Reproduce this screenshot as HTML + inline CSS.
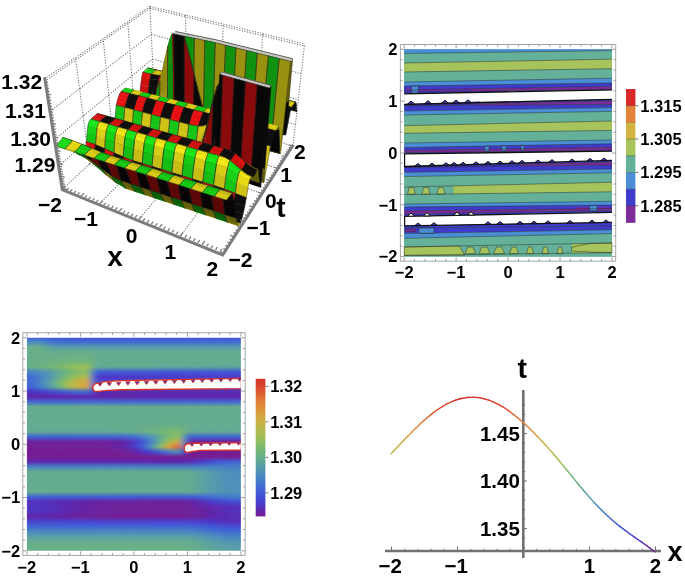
<!DOCTYPE html>
<html><head><meta charset="utf-8"><style>
html,body{margin:0;padding:0;background:#fff;}
svg{display:block;}
text{font-family:"Liberation Sans",Arial,sans-serif;font-weight:bold;fill:#000;}
</style></head><body>
<svg width="685" height="579" viewBox="0 0 685 579">
<rect width="685" height="579" fill="#fff"/>
<g>
<rect x="404.2" y="49.3" width="207.8" height="207.3" fill="#64b098"/>
<polygon points="404.2,49.3 612.0,49.3 612.0,50.6 404.2,53.5" fill="#4a8ed6"/>
<polygon points="404.2,53.5 612.0,50.6 612.0,59.2 404.2,63.0" fill="#64b098"/>
<polygon points="404.2,63.0 612.0,59.2 612.0,68.7 404.2,72.0" fill="#a6c35c"/>
<polygon points="404.2,72.0 612.0,68.7 612.0,78.2 404.2,82.0" fill="#64b098"/>
<polygon points="404.2,82.0 612.0,78.2 612.0,83.0 404.2,86.0" fill="#4a8ed6"/>
<polygon points="404.2,86.0 612.0,83.0 612.0,86.4 404.2,90.0" fill="#3f3ccb"/>
<polygon points="404.2,90.0 612.0,86.4 612.0,89.6 404.2,92.0" fill="#7e2a98"/>
<polygon points="404.2,92.0 612.0,89.6 612.0,89.8 404.2,93.8" fill="#3f3ccb"/>
<polygon points="404.2,93.8 612.0,89.8 612.0,99.3 404.2,104.3" fill="#ffffff"/>
<polygon points="404.2,104.3 612.0,99.3 612.0,101.0 404.2,105.3" fill="#3f3ccb"/>
<polygon points="404.2,105.3 612.0,101.0 612.0,104.4 404.2,105.8" fill="#7e2a98"/>
<polygon points="404.2,105.8 612.0,104.4 612.0,107.6 404.2,111.0" fill="#3f3ccb"/>
<polygon points="404.2,111.0 612.0,107.6 612.0,111.4 404.2,115.0" fill="#4a8ed6"/>
<polygon points="404.2,115.0 612.0,111.4 612.0,121.0 404.2,125.7" fill="#64b098"/>
<polygon points="404.2,125.7 612.0,121.0 612.0,130.4 404.2,133.3" fill="#a6c35c"/>
<polygon points="404.2,133.3 612.0,130.4 612.0,140.0 404.2,143.0" fill="#64b098"/>
<polygon points="404.2,143.0 612.0,140.0 612.0,143.7 404.2,147.5" fill="#4a8ed6"/>
<polygon points="404.2,147.5 612.0,143.7 612.0,147.3 404.2,150.5" fill="#3f3ccb"/>
<polygon points="404.2,150.5 612.0,147.3 612.0,150.2 404.2,152.6" fill="#7e2a98"/>
<polygon points="404.2,152.6 612.0,150.2 612.0,151.2 404.2,153.8" fill="#3f3ccb"/>
<polygon points="404.2,153.8 612.0,151.2 612.0,160.4 404.2,166.5" fill="#ffffff"/>
<polygon points="404.2,166.5 612.0,160.4 612.0,162.3 404.2,167.0" fill="#3f3ccb"/>
<polygon points="404.2,167.0 612.0,162.3 612.0,165.0 404.2,167.5" fill="#7e2a98"/>
<polygon points="404.2,167.5 612.0,165.0 612.0,169.0 404.2,172.4" fill="#3f3ccb"/>
<polygon points="404.2,172.4 612.0,169.0 612.0,172.8 404.2,176.6" fill="#4a8ed6"/>
<polygon points="404.2,176.6 612.0,172.8 612.0,182.3 404.2,187.0" fill="#64b098"/>
<polygon points="404.2,187.0 612.0,182.3 612.0,191.8 404.2,194.6" fill="#a6c35c"/>
<polygon points="404.2,194.6 612.0,191.8 612.0,201.3 404.2,204.0" fill="#64b098"/>
<polygon points="404.2,204.0 612.0,201.3 612.0,205.0 404.2,207.0" fill="#4a8ed6"/>
<polygon points="404.2,207.0 612.0,205.0 612.0,208.5 404.2,211.0" fill="#3f3ccb"/>
<polygon points="404.2,211.0 612.0,208.5 612.0,210.5 404.2,214.0" fill="#7e2a98"/>
<polygon points="404.2,214.0 612.0,210.5 612.0,212.3 404.2,216.3" fill="#3f3ccb"/>
<polygon points="404.2,216.3 612.0,212.3 612.0,222.4 404.2,225.8" fill="#ffffff"/>
<polygon points="404.2,225.8 612.0,222.4 612.0,226.0 404.2,228.0" fill="#3f3ccb"/>
<polygon points="404.2,228.0 612.0,226.0 612.0,229.8 404.2,233.6" fill="#3f3ccb"/>
<polygon points="404.2,233.6 612.0,229.8 612.0,233.6 404.2,238.3" fill="#4a8ed6"/>
<polygon points="404.2,238.3 612.0,233.6 612.0,243.0 404.2,247.0" fill="#64b098"/>
<polygon points="404.2,247.0 612.0,243.0 612.0,252.6 404.2,255.4" fill="#a6c35c"/>
<polygon points="404.2,255.4 612.0,252.6 612.0,256.6 404.2,256.6" fill="#64b098"/>
<polygon points="404.2,86.0 470.0,86.0 470.0,92.5 404.2,93.8" fill="#3f3ccb"/>
<polygon points="404.2,104.3 480.0,101.5 480.0,104.5 404.2,106.0" fill="#3f3ccb"/>
<polygon points="404.2,166.4 520.0,163.6 520.0,167.5 404.2,168.0" fill="#3f3ccb"/>
<polygon points="419.0,89.6 470.0,88.8 470.0,90.2 419.0,91.0" fill="#7e2a98"/>
<polygon points="406.0,88.5 411.0,88.5 411.0,90.5 406.0,90.5" fill="#7e2a98"/>
<polygon points="411.5,86.0 418.5,86.0 418.0,93.5 412.0,93.5" fill="#4a8ed6" stroke="#262626" stroke-width="0.6" stroke-opacity="0.75"/>
<polygon points="484.5,146.0 489.0,145.9 489.0,151.0 484.5,151.0" fill="#4a8ed6" stroke="#262626" stroke-width="0.6" stroke-opacity="0.75"/>
<polygon points="501.6,145.7 506.4,145.6 506.4,150.7 501.6,150.7" fill="#4a8ed6" stroke="#262626" stroke-width="0.6" stroke-opacity="0.75"/>
<polygon points="521.0,145.4 524.0,145.3 524.0,150.4 521.0,150.4" fill="#4a8ed6" stroke="#262626" stroke-width="0.6" stroke-opacity="0.75"/>
<polygon points="589.6,205.5 597.0,205.4 597.0,211.0 589.6,211.0" fill="#4a8ed6" stroke="#262626" stroke-width="0.6" stroke-opacity="0.75"/>
<polygon points="575.0,207.5 588.0,207.5 588.0,209.5 575.0,209.5" fill="#7e2a98"/>
<polygon points="598.0,207.3 610.0,207.3 610.0,209.3 598.0,209.3" fill="#7e2a98"/>
<polygon points="419.0,228.0 434.0,228.0 434.0,233.5 419.0,233.5" fill="#4a8ed6" stroke="#262626" stroke-width="0.6" stroke-opacity="0.75"/>
<polygon points="405.0,229.2 416.0,229.2 416.0,231.6 405.0,231.6" fill="#7e2a98" stroke="#262626" stroke-width="0.6" stroke-opacity="0.75"/>
<polygon points="404.2,186.5 453.5,185.5 453.5,195.0 404.2,195.0" fill="#64b098"/>
<polygon points="409.2,187.6 413.8,187.6 415.4,194.2 407.6,194.2" fill="#a6c35c" stroke="#262626" stroke-width="0.6" stroke-opacity="0.75"/>
<polygon points="423.6,187.6 428.4,187.6 430.0,194.2 422.0,194.2" fill="#a6c35c" stroke="#262626" stroke-width="0.6" stroke-opacity="0.75"/>
<polygon points="438.6,187.6 443.4,187.6 445.0,194.2 437.0,194.2" fill="#a6c35c" stroke="#262626" stroke-width="0.6" stroke-opacity="0.75"/>
<polygon points="461.0,245.0 572.0,242.8 572.0,253.0 461.0,255.5" fill="#64b098"/>
<polygon points="404.2,247.0 459.5,245.9 464.5,255.2 404.2,255.4" fill="#a6c35c" stroke="#262626" stroke-width="0.6" stroke-opacity="0.75"/>
<polygon points="467.6,247.2 472.9,247.0 475.5,253.6 465.0,253.8" fill="#a6c35c" stroke="#262626" stroke-width="0.6" stroke-opacity="0.75"/>
<polygon points="481.8,247.2 487.2,247.0 490.0,253.6 479.0,253.8" fill="#a6c35c" stroke="#262626" stroke-width="0.6" stroke-opacity="0.75"/>
<polygon points="496.3,247.2 501.8,247.0 504.5,253.6 493.6,253.8" fill="#a6c35c" stroke="#262626" stroke-width="0.6" stroke-opacity="0.75"/>
<polygon points="511.8,247.2 516.2,247.0 518.5,253.6 509.5,253.8" fill="#a6c35c" stroke="#262626" stroke-width="0.6" stroke-opacity="0.75"/>
<polygon points="528.2,247.2 531.8,247.0 533.5,253.6 526.5,253.8" fill="#a6c35c" stroke="#262626" stroke-width="0.6" stroke-opacity="0.75"/>
<polygon points="543.6,247.2 546.9,247.0 548.5,253.6 542.0,253.8" fill="#a6c35c" stroke="#262626" stroke-width="0.6" stroke-opacity="0.75"/>
<polygon points="558.5,247.2 561.3,247.0 562.8,253.6 557.0,253.8" fill="#a6c35c" stroke="#262626" stroke-width="0.6" stroke-opacity="0.75"/>
<polygon points="571.5,247.6 580.0,245.2 586.0,244.4 590.0,243.4 612.0,243.0 612.0,252.6 590.0,252.2 586.0,251.3 580.0,251.6 571.5,250.8" fill="#a6c35c" stroke="#262626" stroke-width="0.6" stroke-opacity="0.75"/>
<line x1="404.2" y1="53.5" x2="612.0" y2="50.6" stroke="#262626" stroke-width="0.6" stroke-opacity="0.75"/>
<line x1="404.2" y1="63.0" x2="612.0" y2="59.2" stroke="#262626" stroke-width="0.6" stroke-opacity="0.75"/>
<line x1="404.2" y1="72.0" x2="612.0" y2="68.7" stroke="#262626" stroke-width="0.6" stroke-opacity="0.75"/>
<line x1="404.2" y1="82.0" x2="612.0" y2="78.2" stroke="#262626" stroke-width="0.6" stroke-opacity="0.75"/>
<line x1="404.2" y1="86.0" x2="612.0" y2="83.0" stroke="#262626" stroke-width="0.6" stroke-opacity="0.75"/>
<line x1="404.2" y1="90.0" x2="612.0" y2="86.4" stroke="#262626" stroke-width="0.6" stroke-opacity="0.75"/>
<line x1="404.2" y1="92.0" x2="612.0" y2="89.6" stroke="#262626" stroke-width="0.6" stroke-opacity="0.75"/>
<line x1="404.2" y1="105.3" x2="612.0" y2="101.0" stroke="#262626" stroke-width="0.6" stroke-opacity="0.75"/>
<line x1="404.2" y1="105.8" x2="612.0" y2="104.4" stroke="#262626" stroke-width="0.6" stroke-opacity="0.75"/>
<line x1="404.2" y1="111.0" x2="612.0" y2="107.6" stroke="#262626" stroke-width="0.6" stroke-opacity="0.75"/>
<line x1="404.2" y1="115.0" x2="612.0" y2="111.4" stroke="#262626" stroke-width="0.6" stroke-opacity="0.75"/>
<line x1="404.2" y1="125.7" x2="612.0" y2="121.0" stroke="#262626" stroke-width="0.6" stroke-opacity="0.75"/>
<line x1="404.2" y1="133.3" x2="612.0" y2="130.4" stroke="#262626" stroke-width="0.6" stroke-opacity="0.75"/>
<line x1="404.2" y1="143.0" x2="612.0" y2="140.0" stroke="#262626" stroke-width="0.6" stroke-opacity="0.75"/>
<line x1="404.2" y1="147.5" x2="612.0" y2="143.7" stroke="#262626" stroke-width="0.6" stroke-opacity="0.75"/>
<line x1="404.2" y1="150.5" x2="612.0" y2="147.3" stroke="#262626" stroke-width="0.6" stroke-opacity="0.75"/>
<line x1="404.2" y1="152.6" x2="612.0" y2="150.2" stroke="#262626" stroke-width="0.6" stroke-opacity="0.75"/>
<line x1="404.2" y1="167.0" x2="612.0" y2="162.3" stroke="#262626" stroke-width="0.6" stroke-opacity="0.75"/>
<line x1="404.2" y1="167.5" x2="612.0" y2="165.0" stroke="#262626" stroke-width="0.6" stroke-opacity="0.75"/>
<line x1="404.2" y1="172.4" x2="612.0" y2="169.0" stroke="#262626" stroke-width="0.6" stroke-opacity="0.75"/>
<line x1="404.2" y1="176.6" x2="612.0" y2="172.8" stroke="#262626" stroke-width="0.6" stroke-opacity="0.75"/>
<line x1="404.2" y1="187.0" x2="612.0" y2="182.3" stroke="#262626" stroke-width="0.6" stroke-opacity="0.75"/>
<line x1="404.2" y1="194.6" x2="612.0" y2="191.8" stroke="#262626" stroke-width="0.6" stroke-opacity="0.75"/>
<line x1="404.2" y1="204.0" x2="612.0" y2="201.3" stroke="#262626" stroke-width="0.6" stroke-opacity="0.75"/>
<line x1="404.2" y1="207.0" x2="612.0" y2="205.0" stroke="#262626" stroke-width="0.6" stroke-opacity="0.75"/>
<line x1="404.2" y1="211.0" x2="612.0" y2="208.5" stroke="#262626" stroke-width="0.6" stroke-opacity="0.75"/>
<line x1="404.2" y1="214.0" x2="612.0" y2="210.5" stroke="#262626" stroke-width="0.6" stroke-opacity="0.75"/>
<line x1="404.2" y1="228.0" x2="612.0" y2="226.0" stroke="#262626" stroke-width="0.6" stroke-opacity="0.75"/>
<line x1="404.2" y1="233.6" x2="612.0" y2="229.8" stroke="#262626" stroke-width="0.6" stroke-opacity="0.75"/>
<line x1="404.2" y1="238.3" x2="612.0" y2="233.6" stroke="#262626" stroke-width="0.6" stroke-opacity="0.75"/>
<line x1="404.2" y1="247.0" x2="612.0" y2="243.0" stroke="#262626" stroke-width="0.6" stroke-opacity="0.75"/>
<line x1="404.2" y1="255.4" x2="612.0" y2="252.6" stroke="#262626" stroke-width="0.6" stroke-opacity="0.75"/>
<line x1="404.2" y1="93.8" x2="612.0" y2="89.8" stroke="#111" stroke-width="1.3"/>
<line x1="404.2" y1="104.3" x2="612.0" y2="99.3" stroke="#111" stroke-width="1.3"/>
<line x1="404.2" y1="153.8" x2="612.0" y2="151.2" stroke="#111" stroke-width="1.3"/>
<line x1="404.2" y1="166.5" x2="612.0" y2="160.4" stroke="#111" stroke-width="1.3"/>
<line x1="404.6" y1="153.8" x2="404.6" y2="166.5" stroke="#111" stroke-width="1.2"/>
<line x1="404.2" y1="216.3" x2="612.0" y2="212.3" stroke="#111" stroke-width="1.3"/>
<line x1="404.2" y1="225.8" x2="612.0" y2="222.4" stroke="#111" stroke-width="1.3"/>
<line x1="404.6" y1="216.3" x2="404.6" y2="225.8" stroke="#111" stroke-width="1.2"/>
<polygon points="407.4,104.1 411.0,101.1 414.6,104.1" fill="#3f3ccb" stroke="#111" stroke-width="1"/>
<polygon points="424.4,103.7 428.0,100.7 431.6,103.7" fill="#3f3ccb" stroke="#111" stroke-width="1"/>
<polygon points="441.4,103.3 445.0,100.3 448.6,103.3" fill="#3f3ccb" stroke="#111" stroke-width="1"/>
<polygon points="452.4,103.1 456.0,100.1 459.6,103.1" fill="#3f3ccb" stroke="#111" stroke-width="1"/>
<polygon points="464.4,102.8 468.0,99.8 471.6,102.8" fill="#3f3ccb" stroke="#111" stroke-width="1"/>
<polygon points="414.8,166.1 418.0,163.5 421.2,166.1" fill="#3f3ccb" stroke="#111" stroke-width="1"/>
<polygon points="428.8,165.7 432.0,163.1 435.2,165.7" fill="#3f3ccb" stroke="#111" stroke-width="1"/>
<polygon points="442.8,165.3 446.0,162.7 449.2,165.3" fill="#3f3ccb" stroke="#111" stroke-width="1"/>
<polygon points="450.8,165.0 454.0,162.4 457.2,165.0" fill="#3f3ccb" stroke="#111" stroke-width="1"/>
<polygon points="459.8,164.8 463.0,162.2 466.2,164.8" fill="#3f3ccb" stroke="#111" stroke-width="1"/>
<polygon points="472.8,164.4 476.0,161.8 479.2,164.4" fill="#3f3ccb" stroke="#111" stroke-width="1"/>
<polygon points="484.8,164.0 488.0,161.4 491.2,164.0" fill="#3f3ccb" stroke="#111" stroke-width="1"/>
<polygon points="496.8,163.7 500.0,161.1 503.2,163.7" fill="#3f3ccb" stroke="#111" stroke-width="1"/>
<polygon points="508.8,163.3 512.0,160.7 515.2,163.3" fill="#3f3ccb" stroke="#111" stroke-width="1"/>
<polygon points="518.8,163.0 522.0,160.4 525.2,163.0" fill="#3f3ccb" stroke="#111" stroke-width="1"/>
<polygon points="534.8,162.6 538.0,160.0 541.2,162.6" fill="#3f3ccb" stroke="#111" stroke-width="1"/>
<polygon points="548.8,162.2 552.0,159.6 555.2,162.2" fill="#3f3ccb" stroke="#111" stroke-width="1"/>
<polygon points="568.8,161.6 572.0,159.0 575.2,161.6" fill="#3f3ccb" stroke="#111" stroke-width="1"/>
<polygon points="586.8,161.0 590.0,158.4 593.2,161.0" fill="#3f3ccb" stroke="#111" stroke-width="1"/>
<polygon points="600.8,160.6 604.0,158.0 607.2,160.6" fill="#3f3ccb" stroke="#111" stroke-width="1"/>
<polygon points="414.8,225.6 418.0,223.0 421.2,225.6" fill="#3f3ccb" stroke="#111" stroke-width="1"/>
<polygon points="430.8,225.3 434.0,222.7 437.2,225.3" fill="#3f3ccb" stroke="#111" stroke-width="1"/>
<polygon points="484.8,224.4 488.0,221.8 491.2,224.4" fill="#3f3ccb" stroke="#111" stroke-width="1"/>
<polygon points="496.8,224.2 500.0,221.6 503.2,224.2" fill="#3f3ccb" stroke="#111" stroke-width="1"/>
<polygon points="516.8,223.9 520.0,221.3 523.2,223.9" fill="#3f3ccb" stroke="#111" stroke-width="1"/>
<polygon points="530.8,223.7 534.0,221.1 537.2,223.7" fill="#3f3ccb" stroke="#111" stroke-width="1"/>
<polygon points="544.8,223.4 548.0,220.8 551.2,223.4" fill="#3f3ccb" stroke="#111" stroke-width="1"/>
<polygon points="566.8,223.1 570.0,220.5 573.2,223.1" fill="#3f3ccb" stroke="#111" stroke-width="1"/>
<polygon points="588.8,222.7 592.0,220.1 595.2,222.7" fill="#3f3ccb" stroke="#111" stroke-width="1"/>
<polygon points="602.8,222.5 606.0,219.9 609.2,222.5" fill="#3f3ccb" stroke="#111" stroke-width="1"/>
<polygon points="407.6,216.2 411.0,213.0 414.4,216.2" fill="#ffffff" stroke="#111" stroke-width="1"/>
<polygon points="423.6,215.9 427.0,212.7 430.4,215.9" fill="#ffffff" stroke="#111" stroke-width="1"/>
<polygon points="453.6,215.3 457.0,212.1 460.4,215.3" fill="#ffffff" stroke="#111" stroke-width="1"/>
<polygon points="467.6,215.0 471.0,211.8 474.4,215.0" fill="#ffffff" stroke="#111" stroke-width="1"/>
</g>
<rect x="400.4" y="44.5" width="215.3" height="216.7" fill="none" stroke="#a8a8a8" stroke-width="1"/>
<path d="M404.2 261.2v-4.0M404.2 44.5v4.0M400.4 256.6h4.0M615.7 256.6h-4.0M414.6 261.2v-2.2M414.6 44.5v2.2M400.4 246.2h2.2M615.7 246.2h-2.2M425.0 261.2v-2.2M425.0 44.5v2.2M400.4 235.9h2.2M615.7 235.9h-2.2M435.4 261.2v-2.2M435.4 44.5v2.2M400.4 225.5h2.2M615.7 225.5h-2.2M445.8 261.2v-2.2M445.8 44.5v2.2M400.4 215.1h2.2M615.7 215.1h-2.2M456.1 261.2v-4.0M456.1 44.5v4.0M400.4 204.8h4.0M615.7 204.8h-4.0M466.5 261.2v-2.2M466.5 44.5v2.2M400.4 194.4h2.2M615.7 194.4h-2.2M476.9 261.2v-2.2M476.9 44.5v2.2M400.4 184.0h2.2M615.7 184.0h-2.2M487.3 261.2v-2.2M487.3 44.5v2.2M400.4 173.7h2.2M615.7 173.7h-2.2M497.7 261.2v-2.2M497.7 44.5v2.2M400.4 163.3h2.2M615.7 163.3h-2.2M508.1 261.2v-4.0M508.1 44.5v4.0M400.4 153.0h4.0M615.7 153.0h-4.0M518.5 261.2v-2.2M518.5 44.5v2.2M400.4 142.6h2.2M615.7 142.6h-2.2M528.9 261.2v-2.2M528.9 44.5v2.2M400.4 132.2h2.2M615.7 132.2h-2.2M539.3 261.2v-2.2M539.3 44.5v2.2M400.4 121.9h2.2M615.7 121.9h-2.2M549.7 261.2v-2.2M549.7 44.5v2.2M400.4 111.5h2.2M615.7 111.5h-2.2M560.0 261.2v-4.0M560.0 44.5v4.0M400.4 101.1h4.0M615.7 101.1h-4.0M570.4 261.2v-2.2M570.4 44.5v2.2M400.4 90.8h2.2M615.7 90.8h-2.2M580.8 261.2v-2.2M580.8 44.5v2.2M400.4 80.4h2.2M615.7 80.4h-2.2M591.2 261.2v-2.2M591.2 44.5v2.2M400.4 70.0h2.2M615.7 70.0h-2.2M601.6 261.2v-2.2M601.6 44.5v2.2M400.4 59.7h2.2M615.7 59.7h-2.2M612.0 261.2v-4.0M612.0 44.5v4.0M400.4 49.3h4.0M615.7 49.3h-4.0" stroke="#8a8a8a" stroke-width="0.8" fill="none"/>
<g font-size="16.5" text-anchor="middle"><text x="404.2" y="278">−2</text><text x="397.5" y="262.4" style="text-anchor:end">−2</text><text x="456.1" y="278">−1</text><text x="397.5" y="210.6" style="text-anchor:end">−1</text><text x="508.1" y="278">0</text><text x="397.5" y="158.8" style="text-anchor:end">0</text><text x="560.0" y="278">1</text><text x="397.5" y="106.9" style="text-anchor:end">1</text><text x="612.0" y="278">2</text><text x="397.5" y="55.1" style="text-anchor:end">2</text></g>
<rect x="626.0" y="89.00" width="9.4" height="16.99" fill="#d8282a"/>
<rect x="626.0" y="105.69" width="9.4" height="16.99" fill="#e3843a"/>
<rect x="626.0" y="122.38" width="9.4" height="16.99" fill="#d4b442"/>
<rect x="626.0" y="139.06" width="9.4" height="16.99" fill="#a6c35c"/>
<rect x="626.0" y="155.75" width="9.4" height="16.99" fill="#64b098"/>
<rect x="626.0" y="172.44" width="9.4" height="16.99" fill="#4a8ed6"/>
<rect x="626.0" y="189.12" width="9.4" height="16.99" fill="#3f3ccb"/>
<rect x="626.0" y="205.81" width="9.4" height="16.99" fill="#7e2a98"/>
<path d="M626.0 105.69H635.4M626.0 122.38H635.4M626.0 139.06H635.4M626.0 155.75H635.4M626.0 172.44H635.4M626.0 189.12H635.4M626.0 205.81H635.4" stroke="#333" stroke-opacity="0.5" stroke-width="0.6"/>
<path d="M635.4 105.69h3M635.4 139.06h3M635.4 172.44h3M635.4 205.81h3" stroke="#555" stroke-width="0.8"/>
<g font-size="16.5"><text x="640.3" y="111.6">1.315</text><text x="640.3" y="145.0">1.305</text><text x="640.3" y="178.3">1.295</text><text x="640.3" y="211.7">1.285</text></g>
<defs><linearGradient id="dg0" gradientUnits="userSpaceOnUse" x1="0" y1="336.8" x2="0" y2="551.8"><stop offset="0.0000" stop-color="#4158d6"/><stop offset="0.0233" stop-color="#4781c5"/><stop offset="0.0465" stop-color="#63a994"/><stop offset="0.0698" stop-color="#68ae89"/><stop offset="0.0930" stop-color="#66ac8d"/><stop offset="0.1163" stop-color="#67ad8b"/><stop offset="0.1395" stop-color="#69af87"/><stop offset="0.1628" stop-color="#4882c5"/><stop offset="0.1860" stop-color="#4165d4"/><stop offset="0.2093" stop-color="#4165d4"/><stop offset="0.2326" stop-color="#415fd5"/><stop offset="0.2558" stop-color="#5033c1"/><stop offset="0.2791" stop-color="#6225a8"/><stop offset="0.3023" stop-color="#4167d3"/><stop offset="0.3256" stop-color="#65ab8f"/><stop offset="0.3488" stop-color="#65ab8f"/><stop offset="0.3721" stop-color="#65ab8f"/><stop offset="0.3953" stop-color="#65ab8f"/><stop offset="0.4186" stop-color="#65ab8f"/><stop offset="0.4419" stop-color="#62a894"/><stop offset="0.4651" stop-color="#4164d4"/><stop offset="0.4884" stop-color="#6e209b"/><stop offset="0.5116" stop-color="#722097"/><stop offset="0.5349" stop-color="#751f94"/><stop offset="0.5581" stop-color="#781e91"/><stop offset="0.5814" stop-color="#5d28ae"/><stop offset="0.6047" stop-color="#4882c5"/><stop offset="0.6279" stop-color="#65ab8f"/><stop offset="0.6512" stop-color="#65ab8f"/><stop offset="0.6744" stop-color="#65ab8f"/><stop offset="0.6977" stop-color="#65ab8e"/><stop offset="0.7209" stop-color="#67ad8b"/><stop offset="0.7442" stop-color="#4164d4"/><stop offset="0.7674" stop-color="#5430bb"/><stop offset="0.7907" stop-color="#4e35c4"/><stop offset="0.8140" stop-color="#5331bd"/><stop offset="0.8372" stop-color="#6026ab"/><stop offset="0.8605" stop-color="#4549d1"/><stop offset="0.8837" stop-color="#4167d3"/><stop offset="0.9070" stop-color="#4a8abf"/><stop offset="0.9302" stop-color="#5aa0a5"/><stop offset="0.9535" stop-color="#66ac8d"/><stop offset="0.9767" stop-color="#69af88"/><stop offset="1.0000" stop-color="#69af88"/></linearGradient><linearGradient id="dg1" gradientUnits="userSpaceOnUse" x1="0" y1="336.8" x2="0" y2="551.8"><stop offset="0.0000" stop-color="#4159d6"/><stop offset="0.0233" stop-color="#4987c1"/><stop offset="0.0465" stop-color="#66ac8d"/><stop offset="0.0698" stop-color="#69af88"/><stop offset="0.0930" stop-color="#66ac8d"/><stop offset="0.1163" stop-color="#67ad8a"/><stop offset="0.1395" stop-color="#6ab086"/><stop offset="0.1628" stop-color="#4884c3"/><stop offset="0.1860" stop-color="#4168d3"/><stop offset="0.2093" stop-color="#4169d3"/><stop offset="0.2326" stop-color="#4163d4"/><stop offset="0.2558" stop-color="#4e34c4"/><stop offset="0.2791" stop-color="#6225a8"/><stop offset="0.3023" stop-color="#4167d3"/><stop offset="0.3256" stop-color="#65ab8f"/><stop offset="0.3488" stop-color="#65ab8f"/><stop offset="0.3721" stop-color="#65ab8f"/><stop offset="0.3953" stop-color="#65ab8f"/><stop offset="0.4186" stop-color="#65ab8f"/><stop offset="0.4419" stop-color="#62a894"/><stop offset="0.4651" stop-color="#4164d4"/><stop offset="0.4884" stop-color="#6e209b"/><stop offset="0.5116" stop-color="#722097"/><stop offset="0.5349" stop-color="#751f94"/><stop offset="0.5581" stop-color="#781e91"/><stop offset="0.5814" stop-color="#5d28ae"/><stop offset="0.6047" stop-color="#4882c5"/><stop offset="0.6279" stop-color="#65ab8f"/><stop offset="0.6512" stop-color="#65ab8f"/><stop offset="0.6744" stop-color="#65ab8f"/><stop offset="0.6977" stop-color="#65ab8e"/><stop offset="0.7209" stop-color="#67ad8b"/><stop offset="0.7442" stop-color="#4164d4"/><stop offset="0.7674" stop-color="#5430bb"/><stop offset="0.7907" stop-color="#4d35c5"/><stop offset="0.8140" stop-color="#5331bd"/><stop offset="0.8372" stop-color="#6026ab"/><stop offset="0.8605" stop-color="#4549d1"/><stop offset="0.8837" stop-color="#4167d3"/><stop offset="0.9070" stop-color="#4a8abf"/><stop offset="0.9302" stop-color="#5aa0a5"/><stop offset="0.9535" stop-color="#66ac8d"/><stop offset="0.9767" stop-color="#69af88"/><stop offset="1.0000" stop-color="#69af88"/></linearGradient><linearGradient id="dg2" gradientUnits="userSpaceOnUse" x1="0" y1="336.8" x2="0" y2="551.8"><stop offset="0.0000" stop-color="#4159d6"/><stop offset="0.0233" stop-color="#4b8cbe"/><stop offset="0.0465" stop-color="#69af87"/><stop offset="0.0698" stop-color="#69af87"/><stop offset="0.0930" stop-color="#66ac8c"/><stop offset="0.1163" stop-color="#68ae88"/><stop offset="0.1395" stop-color="#6bb183"/><stop offset="0.1628" stop-color="#4b8bbf"/><stop offset="0.1860" stop-color="#4270d1"/><stop offset="0.2093" stop-color="#4374ce"/><stop offset="0.2326" stop-color="#416dd2"/><stop offset="0.2558" stop-color="#4b38c8"/><stop offset="0.2791" stop-color="#6125a9"/><stop offset="0.3023" stop-color="#4167d3"/><stop offset="0.3256" stop-color="#65ab8f"/><stop offset="0.3488" stop-color="#65ab8f"/><stop offset="0.3721" stop-color="#65ab8f"/><stop offset="0.3953" stop-color="#65ab8f"/><stop offset="0.4186" stop-color="#65ab8f"/><stop offset="0.4419" stop-color="#62a894"/><stop offset="0.4651" stop-color="#4164d4"/><stop offset="0.4884" stop-color="#6e209b"/><stop offset="0.5116" stop-color="#722097"/><stop offset="0.5349" stop-color="#751f94"/><stop offset="0.5581" stop-color="#781e91"/><stop offset="0.5814" stop-color="#5d28ae"/><stop offset="0.6047" stop-color="#4882c5"/><stop offset="0.6279" stop-color="#65ab8f"/><stop offset="0.6512" stop-color="#65ab8f"/><stop offset="0.6744" stop-color="#65ab8f"/><stop offset="0.6977" stop-color="#65ab8e"/><stop offset="0.7209" stop-color="#67ad8b"/><stop offset="0.7442" stop-color="#4164d4"/><stop offset="0.7674" stop-color="#5430bb"/><stop offset="0.7907" stop-color="#4d35c5"/><stop offset="0.8140" stop-color="#5331bd"/><stop offset="0.8372" stop-color="#6026ab"/><stop offset="0.8605" stop-color="#4549d1"/><stop offset="0.8837" stop-color="#4167d3"/><stop offset="0.9070" stop-color="#4a8abf"/><stop offset="0.9302" stop-color="#5aa0a5"/><stop offset="0.9535" stop-color="#66ac8d"/><stop offset="0.9767" stop-color="#69af88"/><stop offset="1.0000" stop-color="#69af88"/></linearGradient><linearGradient id="dg3" gradientUnits="userSpaceOnUse" x1="0" y1="336.8" x2="0" y2="551.8"><stop offset="0.0000" stop-color="#4159d6"/><stop offset="0.0233" stop-color="#4987c1"/><stop offset="0.0465" stop-color="#66ac8d"/><stop offset="0.0698" stop-color="#69af88"/><stop offset="0.0930" stop-color="#67ad8b"/><stop offset="0.1163" stop-color="#69af86"/><stop offset="0.1395" stop-color="#6db280"/><stop offset="0.1628" stop-color="#4e90b9"/><stop offset="0.1860" stop-color="#467cc8"/><stop offset="0.2093" stop-color="#4884c3"/><stop offset="0.2326" stop-color="#467dc8"/><stop offset="0.2558" stop-color="#493ccb"/><stop offset="0.2791" stop-color="#6125a9"/><stop offset="0.3023" stop-color="#4167d3"/><stop offset="0.3256" stop-color="#65ab8f"/><stop offset="0.3488" stop-color="#65ab8f"/><stop offset="0.3721" stop-color="#65ab8f"/><stop offset="0.3953" stop-color="#65ab8f"/><stop offset="0.4186" stop-color="#65ab8f"/><stop offset="0.4419" stop-color="#62a894"/><stop offset="0.4651" stop-color="#4164d4"/><stop offset="0.4884" stop-color="#6e209b"/><stop offset="0.5116" stop-color="#722097"/><stop offset="0.5349" stop-color="#751f94"/><stop offset="0.5581" stop-color="#781e91"/><stop offset="0.5814" stop-color="#5d28ae"/><stop offset="0.6047" stop-color="#4882c5"/><stop offset="0.6279" stop-color="#65ab8f"/><stop offset="0.6512" stop-color="#65ab8f"/><stop offset="0.6744" stop-color="#65ab8f"/><stop offset="0.6977" stop-color="#65ab8e"/><stop offset="0.7209" stop-color="#67ad8b"/><stop offset="0.7442" stop-color="#4164d4"/><stop offset="0.7674" stop-color="#552fbb"/><stop offset="0.7907" stop-color="#4e34c4"/><stop offset="0.8140" stop-color="#5330bc"/><stop offset="0.8372" stop-color="#6026aa"/><stop offset="0.8605" stop-color="#4549d1"/><stop offset="0.8837" stop-color="#4167d3"/><stop offset="0.9070" stop-color="#4a8abf"/><stop offset="0.9302" stop-color="#5aa0a5"/><stop offset="0.9535" stop-color="#66ac8d"/><stop offset="0.9767" stop-color="#69af88"/><stop offset="1.0000" stop-color="#69af88"/></linearGradient><linearGradient id="dg4" gradientUnits="userSpaceOnUse" x1="0" y1="336.8" x2="0" y2="551.8"><stop offset="0.0000" stop-color="#4157d7"/><stop offset="0.0233" stop-color="#457bc9"/><stop offset="0.0465" stop-color="#5fa59b"/><stop offset="0.0698" stop-color="#68ae8a"/><stop offset="0.0930" stop-color="#67ad8b"/><stop offset="0.1163" stop-color="#6ab085"/><stop offset="0.1395" stop-color="#70b47c"/><stop offset="0.1628" stop-color="#5396b1"/><stop offset="0.1860" stop-color="#4b8cbe"/><stop offset="0.2093" stop-color="#5194b4"/><stop offset="0.2326" stop-color="#4e8fba"/><stop offset="0.2558" stop-color="#4742cd"/><stop offset="0.2791" stop-color="#6125a9"/><stop offset="0.3023" stop-color="#4167d3"/><stop offset="0.3256" stop-color="#65ab8f"/><stop offset="0.3488" stop-color="#65ab8f"/><stop offset="0.3721" stop-color="#65ab8f"/><stop offset="0.3953" stop-color="#65ab8f"/><stop offset="0.4186" stop-color="#65ab8f"/><stop offset="0.4419" stop-color="#62a894"/><stop offset="0.4651" stop-color="#4164d4"/><stop offset="0.4884" stop-color="#6e209b"/><stop offset="0.5116" stop-color="#722097"/><stop offset="0.5349" stop-color="#751f94"/><stop offset="0.5581" stop-color="#781e91"/><stop offset="0.5814" stop-color="#5d28ae"/><stop offset="0.6047" stop-color="#4882c5"/><stop offset="0.6279" stop-color="#65ab8f"/><stop offset="0.6512" stop-color="#65ab8f"/><stop offset="0.6744" stop-color="#65ab8f"/><stop offset="0.6977" stop-color="#65ab8e"/><stop offset="0.7209" stop-color="#67ad8c"/><stop offset="0.7442" stop-color="#4163d4"/><stop offset="0.7674" stop-color="#562eb9"/><stop offset="0.7907" stop-color="#5033c2"/><stop offset="0.8140" stop-color="#552fba"/><stop offset="0.8372" stop-color="#6125a9"/><stop offset="0.8605" stop-color="#4549d1"/><stop offset="0.8837" stop-color="#4167d3"/><stop offset="0.9070" stop-color="#4a8abf"/><stop offset="0.9302" stop-color="#5aa0a5"/><stop offset="0.9535" stop-color="#66ac8d"/><stop offset="0.9767" stop-color="#69af88"/><stop offset="1.0000" stop-color="#69af88"/></linearGradient><linearGradient id="dg5" gradientUnits="userSpaceOnUse" x1="0" y1="336.8" x2="0" y2="551.8"><stop offset="0.0000" stop-color="#4155d7"/><stop offset="0.0233" stop-color="#4271d0"/><stop offset="0.0465" stop-color="#599fa7"/><stop offset="0.0698" stop-color="#67ad8b"/><stop offset="0.0930" stop-color="#68ae89"/><stop offset="0.1163" stop-color="#6cb183"/><stop offset="0.1395" stop-color="#73b577"/><stop offset="0.1628" stop-color="#589ea8"/><stop offset="0.1860" stop-color="#5397b0"/><stop offset="0.2093" stop-color="#5ca2a1"/><stop offset="0.2326" stop-color="#599ea7"/><stop offset="0.2558" stop-color="#4548d1"/><stop offset="0.2791" stop-color="#6126aa"/><stop offset="0.3023" stop-color="#4167d3"/><stop offset="0.3256" stop-color="#65ab8f"/><stop offset="0.3488" stop-color="#65ab8f"/><stop offset="0.3721" stop-color="#65ab8f"/><stop offset="0.3953" stop-color="#65ab8f"/><stop offset="0.4186" stop-color="#65ab8f"/><stop offset="0.4419" stop-color="#62a894"/><stop offset="0.4651" stop-color="#4164d4"/><stop offset="0.4884" stop-color="#6e209b"/><stop offset="0.5116" stop-color="#722097"/><stop offset="0.5349" stop-color="#751f94"/><stop offset="0.5581" stop-color="#781e91"/><stop offset="0.5814" stop-color="#5d28ae"/><stop offset="0.6047" stop-color="#4882c5"/><stop offset="0.6279" stop-color="#65ab8f"/><stop offset="0.6512" stop-color="#65ab8f"/><stop offset="0.6744" stop-color="#65ab8f"/><stop offset="0.6977" stop-color="#65ab8e"/><stop offset="0.7209" stop-color="#67ad8c"/><stop offset="0.7442" stop-color="#4163d4"/><stop offset="0.7674" stop-color="#572db7"/><stop offset="0.7907" stop-color="#5232bf"/><stop offset="0.8140" stop-color="#572eb8"/><stop offset="0.8372" stop-color="#6225a8"/><stop offset="0.8605" stop-color="#4549d1"/><stop offset="0.8837" stop-color="#4167d3"/><stop offset="0.9070" stop-color="#4a8abf"/><stop offset="0.9302" stop-color="#5aa0a5"/><stop offset="0.9535" stop-color="#66ac8d"/><stop offset="0.9767" stop-color="#69af88"/><stop offset="1.0000" stop-color="#69af88"/></linearGradient><linearGradient id="dg6" gradientUnits="userSpaceOnUse" x1="0" y1="336.8" x2="0" y2="551.8"><stop offset="0.0000" stop-color="#4155d7"/><stop offset="0.0233" stop-color="#416cd2"/><stop offset="0.0465" stop-color="#569bab"/><stop offset="0.0698" stop-color="#66ac8c"/><stop offset="0.0930" stop-color="#68ae88"/><stop offset="0.1163" stop-color="#6db280"/><stop offset="0.1395" stop-color="#76b872"/><stop offset="0.1628" stop-color="#60a69a"/><stop offset="0.1860" stop-color="#5ea49e"/><stop offset="0.2093" stop-color="#6cb183"/><stop offset="0.2326" stop-color="#69af87"/><stop offset="0.2558" stop-color="#4350d4"/><stop offset="0.2791" stop-color="#6026aa"/><stop offset="0.3023" stop-color="#4167d3"/><stop offset="0.3256" stop-color="#65ab8f"/><stop offset="0.3488" stop-color="#65ab8f"/><stop offset="0.3721" stop-color="#65ab8f"/><stop offset="0.3953" stop-color="#65ab8f"/><stop offset="0.4186" stop-color="#65ab8f"/><stop offset="0.4419" stop-color="#62a894"/><stop offset="0.4651" stop-color="#4164d4"/><stop offset="0.4884" stop-color="#6e209b"/><stop offset="0.5116" stop-color="#722097"/><stop offset="0.5349" stop-color="#751f94"/><stop offset="0.5581" stop-color="#781e91"/><stop offset="0.5814" stop-color="#5d28ae"/><stop offset="0.6047" stop-color="#4882c5"/><stop offset="0.6279" stop-color="#65ab8f"/><stop offset="0.6512" stop-color="#65ab8f"/><stop offset="0.6744" stop-color="#65ab8f"/><stop offset="0.6977" stop-color="#65ab8e"/><stop offset="0.7209" stop-color="#66ac8c"/><stop offset="0.7442" stop-color="#4162d4"/><stop offset="0.7674" stop-color="#592cb5"/><stop offset="0.7907" stop-color="#5430bb"/><stop offset="0.8140" stop-color="#592cb5"/><stop offset="0.8372" stop-color="#6323a6"/><stop offset="0.8605" stop-color="#4548d1"/><stop offset="0.8837" stop-color="#4167d3"/><stop offset="0.9070" stop-color="#4a8abf"/><stop offset="0.9302" stop-color="#5aa0a5"/><stop offset="0.9535" stop-color="#66ac8d"/><stop offset="0.9767" stop-color="#69af88"/><stop offset="1.0000" stop-color="#69af88"/></linearGradient><linearGradient id="dg7" gradientUnits="userSpaceOnUse" x1="0" y1="336.8" x2="0" y2="551.8"><stop offset="0.0000" stop-color="#4154d7"/><stop offset="0.0233" stop-color="#416ad3"/><stop offset="0.0465" stop-color="#559aad"/><stop offset="0.0698" stop-color="#66ac8c"/><stop offset="0.0930" stop-color="#69af87"/><stop offset="0.1163" stop-color="#6eb37e"/><stop offset="0.1395" stop-color="#7bba6c"/><stop offset="0.1628" stop-color="#68ae88"/><stop offset="0.1860" stop-color="#6bb084"/><stop offset="0.2093" stop-color="#79b96d"/><stop offset="0.2326" stop-color="#76b871"/><stop offset="0.2558" stop-color="#4157d7"/><stop offset="0.2791" stop-color="#6026ab"/><stop offset="0.3023" stop-color="#4167d3"/><stop offset="0.3256" stop-color="#65ab8f"/><stop offset="0.3488" stop-color="#65ab8f"/><stop offset="0.3721" stop-color="#65ab8f"/><stop offset="0.3953" stop-color="#65ab8f"/><stop offset="0.4186" stop-color="#65ab8f"/><stop offset="0.4419" stop-color="#62a894"/><stop offset="0.4651" stop-color="#4164d4"/><stop offset="0.4884" stop-color="#6e209b"/><stop offset="0.5116" stop-color="#722097"/><stop offset="0.5349" stop-color="#751f94"/><stop offset="0.5581" stop-color="#781e91"/><stop offset="0.5814" stop-color="#5d28ae"/><stop offset="0.6047" stop-color="#4882c5"/><stop offset="0.6279" stop-color="#65ab8f"/><stop offset="0.6512" stop-color="#65ab8f"/><stop offset="0.6744" stop-color="#65ab8f"/><stop offset="0.6977" stop-color="#65ab8e"/><stop offset="0.7209" stop-color="#66ac8c"/><stop offset="0.7442" stop-color="#4162d4"/><stop offset="0.7674" stop-color="#5b2ab2"/><stop offset="0.7907" stop-color="#572db7"/><stop offset="0.8140" stop-color="#5b2ab1"/><stop offset="0.8372" stop-color="#6523a4"/><stop offset="0.8605" stop-color="#4548d0"/><stop offset="0.8837" stop-color="#4166d4"/><stop offset="0.9070" stop-color="#4a8abf"/><stop offset="0.9302" stop-color="#5aa0a5"/><stop offset="0.9535" stop-color="#66ac8d"/><stop offset="0.9767" stop-color="#69af88"/><stop offset="1.0000" stop-color="#69af88"/></linearGradient><linearGradient id="dg8" gradientUnits="userSpaceOnUse" x1="0" y1="336.8" x2="0" y2="551.8"><stop offset="0.0000" stop-color="#4154d7"/><stop offset="0.0233" stop-color="#4169d3"/><stop offset="0.0465" stop-color="#559aad"/><stop offset="0.0698" stop-color="#67ad8c"/><stop offset="0.0930" stop-color="#6aaf86"/><stop offset="0.1163" stop-color="#70b47c"/><stop offset="0.1395" stop-color="#86bb65"/><stop offset="0.1628" stop-color="#6fb37d"/><stop offset="0.1860" stop-color="#75b773"/><stop offset="0.2093" stop-color="#9dbd57"/><stop offset="0.2326" stop-color="#98be59"/><stop offset="0.2558" stop-color="#415dd5"/><stop offset="0.2791" stop-color="#5f27ac"/><stop offset="0.3023" stop-color="#4167d3"/><stop offset="0.3256" stop-color="#65ab8f"/><stop offset="0.3488" stop-color="#65ab8f"/><stop offset="0.3721" stop-color="#65ab8f"/><stop offset="0.3953" stop-color="#65ab8f"/><stop offset="0.4186" stop-color="#65ab8f"/><stop offset="0.4419" stop-color="#62a894"/><stop offset="0.4651" stop-color="#4164d4"/><stop offset="0.4884" stop-color="#6e209b"/><stop offset="0.5116" stop-color="#722097"/><stop offset="0.5349" stop-color="#751f94"/><stop offset="0.5581" stop-color="#781e91"/><stop offset="0.5814" stop-color="#5d28ae"/><stop offset="0.6047" stop-color="#4882c5"/><stop offset="0.6279" stop-color="#65ab8f"/><stop offset="0.6512" stop-color="#65ab8f"/><stop offset="0.6744" stop-color="#65ab8f"/><stop offset="0.6977" stop-color="#65ab8e"/><stop offset="0.7209" stop-color="#66ac8d"/><stop offset="0.7442" stop-color="#4161d5"/><stop offset="0.7674" stop-color="#5d29af"/><stop offset="0.7907" stop-color="#5a2bb3"/><stop offset="0.8140" stop-color="#5e28ad"/><stop offset="0.8372" stop-color="#6722a2"/><stop offset="0.8605" stop-color="#4647d0"/><stop offset="0.8837" stop-color="#4166d4"/><stop offset="0.9070" stop-color="#4a8abf"/><stop offset="0.9302" stop-color="#5aa0a5"/><stop offset="0.9535" stop-color="#66ac8d"/><stop offset="0.9767" stop-color="#69af88"/><stop offset="1.0000" stop-color="#69af88"/></linearGradient><linearGradient id="dg9" gradientUnits="userSpaceOnUse" x1="0" y1="336.8" x2="0" y2="551.8"><stop offset="0.0000" stop-color="#4154d7"/><stop offset="0.0233" stop-color="#4169d3"/><stop offset="0.0465" stop-color="#559aad"/><stop offset="0.0698" stop-color="#67ad8c"/><stop offset="0.0930" stop-color="#6ab085"/><stop offset="0.1163" stop-color="#71b479"/><stop offset="0.1395" stop-color="#8fbd5f"/><stop offset="0.1628" stop-color="#75b773"/><stop offset="0.1860" stop-color="#8bbc62"/><stop offset="0.2093" stop-color="#b5b94b"/><stop offset="0.2326" stop-color="#b1b94c"/><stop offset="0.2558" stop-color="#4163d4"/><stop offset="0.2791" stop-color="#5f27ac"/><stop offset="0.3023" stop-color="#4167d3"/><stop offset="0.3256" stop-color="#65ab8f"/><stop offset="0.3488" stop-color="#65ab8f"/><stop offset="0.3721" stop-color="#65ab8f"/><stop offset="0.3953" stop-color="#65ab8f"/><stop offset="0.4186" stop-color="#65ab8f"/><stop offset="0.4419" stop-color="#62a894"/><stop offset="0.4651" stop-color="#4164d4"/><stop offset="0.4884" stop-color="#6e209b"/><stop offset="0.5116" stop-color="#722097"/><stop offset="0.5349" stop-color="#751f94"/><stop offset="0.5581" stop-color="#781e91"/><stop offset="0.5814" stop-color="#5d28ae"/><stop offset="0.6047" stop-color="#4882c5"/><stop offset="0.6279" stop-color="#65ab8f"/><stop offset="0.6512" stop-color="#65ab8f"/><stop offset="0.6744" stop-color="#65ab8f"/><stop offset="0.6977" stop-color="#65ab8e"/><stop offset="0.7209" stop-color="#66ac8d"/><stop offset="0.7442" stop-color="#4160d5"/><stop offset="0.7674" stop-color="#5f27ac"/><stop offset="0.7907" stop-color="#5d29af"/><stop offset="0.8140" stop-color="#6126aa"/><stop offset="0.8372" stop-color="#6922a0"/><stop offset="0.8605" stop-color="#4647d0"/><stop offset="0.8837" stop-color="#4166d4"/><stop offset="0.9070" stop-color="#4a8abf"/><stop offset="0.9302" stop-color="#5aa0a5"/><stop offset="0.9535" stop-color="#66ac8d"/><stop offset="0.9767" stop-color="#69af88"/><stop offset="1.0000" stop-color="#69af88"/></linearGradient><linearGradient id="dg10" gradientUnits="userSpaceOnUse" x1="0" y1="336.8" x2="0" y2="551.8"><stop offset="0.0000" stop-color="#4154d7"/><stop offset="0.0233" stop-color="#4169d3"/><stop offset="0.0465" stop-color="#559aad"/><stop offset="0.0698" stop-color="#67ad8b"/><stop offset="0.0930" stop-color="#6bb084"/><stop offset="0.1163" stop-color="#72b577"/><stop offset="0.1395" stop-color="#97be5a"/><stop offset="0.1628" stop-color="#7fba6a"/><stop offset="0.1860" stop-color="#9fbd56"/><stop offset="0.2093" stop-color="#c8b143"/><stop offset="0.2326" stop-color="#c5b244"/><stop offset="0.2558" stop-color="#4168d3"/><stop offset="0.2791" stop-color="#5e27ad"/><stop offset="0.3023" stop-color="#4167d3"/><stop offset="0.3256" stop-color="#65ab8f"/><stop offset="0.3488" stop-color="#65ab8f"/><stop offset="0.3721" stop-color="#65ab8f"/><stop offset="0.3953" stop-color="#65ab8f"/><stop offset="0.4186" stop-color="#65ab8f"/><stop offset="0.4419" stop-color="#62a894"/><stop offset="0.4651" stop-color="#4164d4"/><stop offset="0.4884" stop-color="#6e209b"/><stop offset="0.5116" stop-color="#722097"/><stop offset="0.5349" stop-color="#751f94"/><stop offset="0.5581" stop-color="#781e91"/><stop offset="0.5814" stop-color="#5d28ae"/><stop offset="0.6047" stop-color="#4882c5"/><stop offset="0.6279" stop-color="#65ab8f"/><stop offset="0.6512" stop-color="#65ab8f"/><stop offset="0.6744" stop-color="#65ab8f"/><stop offset="0.6977" stop-color="#65ab8e"/><stop offset="0.7209" stop-color="#66ac8d"/><stop offset="0.7442" stop-color="#4160d5"/><stop offset="0.7674" stop-color="#6125a9"/><stop offset="0.7907" stop-color="#6026ab"/><stop offset="0.8140" stop-color="#6324a6"/><stop offset="0.8372" stop-color="#6b219e"/><stop offset="0.8605" stop-color="#4646d0"/><stop offset="0.8837" stop-color="#4166d4"/><stop offset="0.9070" stop-color="#4a8abf"/><stop offset="0.9302" stop-color="#5aa0a5"/><stop offset="0.9535" stop-color="#66ac8d"/><stop offset="0.9767" stop-color="#69af88"/><stop offset="1.0000" stop-color="#69af88"/></linearGradient><linearGradient id="dg11" gradientUnits="userSpaceOnUse" x1="0" y1="336.8" x2="0" y2="551.8"><stop offset="0.0000" stop-color="#4154d7"/><stop offset="0.0233" stop-color="#4169d3"/><stop offset="0.0465" stop-color="#559aad"/><stop offset="0.0698" stop-color="#67ad8b"/><stop offset="0.0930" stop-color="#6bb084"/><stop offset="0.1163" stop-color="#73b676"/><stop offset="0.1395" stop-color="#9bbd58"/><stop offset="0.1628" stop-color="#8abc62"/><stop offset="0.1860" stop-color="#abbb50"/><stop offset="0.2093" stop-color="#d2a63f"/><stop offset="0.2326" stop-color="#d1a940"/><stop offset="0.2558" stop-color="#416cd2"/><stop offset="0.2791" stop-color="#5e28ad"/><stop offset="0.3023" stop-color="#4167d3"/><stop offset="0.3256" stop-color="#65ab8f"/><stop offset="0.3488" stop-color="#65ab8f"/><stop offset="0.3721" stop-color="#65ab8f"/><stop offset="0.3953" stop-color="#65ab8f"/><stop offset="0.4186" stop-color="#65ab8f"/><stop offset="0.4419" stop-color="#62a894"/><stop offset="0.4651" stop-color="#4164d4"/><stop offset="0.4884" stop-color="#6e209b"/><stop offset="0.5116" stop-color="#722097"/><stop offset="0.5349" stop-color="#751f94"/><stop offset="0.5581" stop-color="#781e91"/><stop offset="0.5814" stop-color="#5d28ae"/><stop offset="0.6047" stop-color="#4882c5"/><stop offset="0.6279" stop-color="#65ab8f"/><stop offset="0.6512" stop-color="#65ab8f"/><stop offset="0.6744" stop-color="#65ab8f"/><stop offset="0.6977" stop-color="#65ab8e"/><stop offset="0.7209" stop-color="#66ac8e"/><stop offset="0.7442" stop-color="#415fd5"/><stop offset="0.7674" stop-color="#6324a7"/><stop offset="0.7907" stop-color="#6224a7"/><stop offset="0.8140" stop-color="#6623a3"/><stop offset="0.8372" stop-color="#6d219c"/><stop offset="0.8605" stop-color="#4646cf"/><stop offset="0.8837" stop-color="#4166d4"/><stop offset="0.9070" stop-color="#4a8abf"/><stop offset="0.9302" stop-color="#5aa0a5"/><stop offset="0.9535" stop-color="#66ac8d"/><stop offset="0.9767" stop-color="#69af88"/><stop offset="1.0000" stop-color="#69af88"/></linearGradient><linearGradient id="dg12" gradientUnits="userSpaceOnUse" x1="0" y1="336.8" x2="0" y2="551.8"><stop offset="0.0000" stop-color="#4154d7"/><stop offset="0.0233" stop-color="#4169d3"/><stop offset="0.0465" stop-color="#559aad"/><stop offset="0.0698" stop-color="#67ad8b"/><stop offset="0.0930" stop-color="#6bb084"/><stop offset="0.1163" stop-color="#74b675"/><stop offset="0.1395" stop-color="#9dbd57"/><stop offset="0.1628" stop-color="#90bd5e"/><stop offset="0.1860" stop-color="#b1ba4d"/><stop offset="0.2093" stop-color="#d6a03e"/><stop offset="0.2326" stop-color="#d5a23e"/><stop offset="0.2558" stop-color="#416ed2"/><stop offset="0.2791" stop-color="#5e28ad"/><stop offset="0.3023" stop-color="#4167d3"/><stop offset="0.3256" stop-color="#65ab8f"/><stop offset="0.3488" stop-color="#65ab8f"/><stop offset="0.3721" stop-color="#65ab8f"/><stop offset="0.3953" stop-color="#65ab8f"/><stop offset="0.4186" stop-color="#65ab8f"/><stop offset="0.4419" stop-color="#62a894"/><stop offset="0.4651" stop-color="#4164d4"/><stop offset="0.4884" stop-color="#6e209b"/><stop offset="0.5116" stop-color="#722097"/><stop offset="0.5349" stop-color="#751f94"/><stop offset="0.5581" stop-color="#781e91"/><stop offset="0.5814" stop-color="#5d28ae"/><stop offset="0.6047" stop-color="#4882c5"/><stop offset="0.6279" stop-color="#65ab8f"/><stop offset="0.6512" stop-color="#65ab8f"/><stop offset="0.6744" stop-color="#65ab8f"/><stop offset="0.6977" stop-color="#65ab8e"/><stop offset="0.7209" stop-color="#66ac8e"/><stop offset="0.7442" stop-color="#415fd5"/><stop offset="0.7674" stop-color="#6523a4"/><stop offset="0.7907" stop-color="#6523a4"/><stop offset="0.8140" stop-color="#6922a0"/><stop offset="0.8372" stop-color="#6e209b"/><stop offset="0.8605" stop-color="#4645cf"/><stop offset="0.8837" stop-color="#4166d4"/><stop offset="0.9070" stop-color="#4a8abf"/><stop offset="0.9302" stop-color="#5aa0a5"/><stop offset="0.9535" stop-color="#66ac8d"/><stop offset="0.9767" stop-color="#69af88"/><stop offset="1.0000" stop-color="#69af88"/></linearGradient><linearGradient id="dg13" gradientUnits="userSpaceOnUse" x1="0" y1="336.8" x2="0" y2="551.8"><stop offset="0.0000" stop-color="#4154d7"/><stop offset="0.0233" stop-color="#4169d3"/><stop offset="0.0465" stop-color="#5599ad"/><stop offset="0.0698" stop-color="#65ab8e"/><stop offset="0.0930" stop-color="#66ac8d"/><stop offset="0.1163" stop-color="#68ae89"/><stop offset="0.1395" stop-color="#6ab086"/><stop offset="0.1628" stop-color="#4373ce"/><stop offset="0.1860" stop-color="#4158d6"/><stop offset="0.2093" stop-color="#416dd2"/><stop offset="0.2326" stop-color="#416cd2"/><stop offset="0.2558" stop-color="#4b37c8"/><stop offset="0.2791" stop-color="#6125a9"/><stop offset="0.3023" stop-color="#4167d3"/><stop offset="0.3256" stop-color="#65ab8f"/><stop offset="0.3488" stop-color="#65ab8f"/><stop offset="0.3721" stop-color="#65ab8f"/><stop offset="0.3953" stop-color="#65ab8f"/><stop offset="0.4186" stop-color="#65ab8f"/><stop offset="0.4419" stop-color="#62a894"/><stop offset="0.4651" stop-color="#4164d4"/><stop offset="0.4884" stop-color="#6e209b"/><stop offset="0.5116" stop-color="#722097"/><stop offset="0.5349" stop-color="#751f94"/><stop offset="0.5581" stop-color="#781e91"/><stop offset="0.5814" stop-color="#5d28ae"/><stop offset="0.6047" stop-color="#4882c5"/><stop offset="0.6279" stop-color="#65ab8f"/><stop offset="0.6512" stop-color="#65ab8f"/><stop offset="0.6744" stop-color="#65ab8f"/><stop offset="0.6977" stop-color="#65ab8f"/><stop offset="0.7209" stop-color="#66ac8e"/><stop offset="0.7442" stop-color="#415ed5"/><stop offset="0.7674" stop-color="#6622a3"/><stop offset="0.7907" stop-color="#6722a2"/><stop offset="0.8140" stop-color="#6b219e"/><stop offset="0.8372" stop-color="#6f209a"/><stop offset="0.8605" stop-color="#4645cf"/><stop offset="0.8837" stop-color="#4166d4"/><stop offset="0.9070" stop-color="#4a8abf"/><stop offset="0.9302" stop-color="#5aa0a5"/><stop offset="0.9535" stop-color="#66ac8d"/><stop offset="0.9767" stop-color="#69af88"/><stop offset="1.0000" stop-color="#69af88"/></linearGradient><linearGradient id="dg14" gradientUnits="userSpaceOnUse" x1="0" y1="336.8" x2="0" y2="551.8"><stop offset="0.0000" stop-color="#4154d7"/><stop offset="0.0233" stop-color="#4169d3"/><stop offset="0.0465" stop-color="#5599ad"/><stop offset="0.0698" stop-color="#65ab8f"/><stop offset="0.0930" stop-color="#65ab8f"/><stop offset="0.1163" stop-color="#65ab8f"/><stop offset="0.1395" stop-color="#63a993"/><stop offset="0.1628" stop-color="#415fd5"/><stop offset="0.1860" stop-color="#4e34c4"/><stop offset="0.2093" stop-color="#454ad1"/><stop offset="0.2326" stop-color="#4548d1"/><stop offset="0.2558" stop-color="#582cb6"/><stop offset="0.2791" stop-color="#6224a8"/><stop offset="0.3023" stop-color="#4167d3"/><stop offset="0.3256" stop-color="#65ab8f"/><stop offset="0.3488" stop-color="#65ab8f"/><stop offset="0.3721" stop-color="#65ab8f"/><stop offset="0.3953" stop-color="#65ab8f"/><stop offset="0.4186" stop-color="#65ab8f"/><stop offset="0.4419" stop-color="#62a894"/><stop offset="0.4651" stop-color="#4164d4"/><stop offset="0.4884" stop-color="#6e209b"/><stop offset="0.5116" stop-color="#712098"/><stop offset="0.5349" stop-color="#751f94"/><stop offset="0.5581" stop-color="#781e91"/><stop offset="0.5814" stop-color="#5d28ae"/><stop offset="0.6047" stop-color="#4882c5"/><stop offset="0.6279" stop-color="#65ab8f"/><stop offset="0.6512" stop-color="#65ab8f"/><stop offset="0.6744" stop-color="#65ab8f"/><stop offset="0.6977" stop-color="#65ab8f"/><stop offset="0.7209" stop-color="#65ab8e"/><stop offset="0.7442" stop-color="#415ed5"/><stop offset="0.7674" stop-color="#6822a1"/><stop offset="0.7907" stop-color="#6922a0"/><stop offset="0.8140" stop-color="#6d219c"/><stop offset="0.8372" stop-color="#712098"/><stop offset="0.8605" stop-color="#4645cf"/><stop offset="0.8837" stop-color="#4166d4"/><stop offset="0.9070" stop-color="#4a8abf"/><stop offset="0.9302" stop-color="#5aa0a5"/><stop offset="0.9535" stop-color="#66ac8d"/><stop offset="0.9767" stop-color="#69af88"/><stop offset="1.0000" stop-color="#69af88"/></linearGradient><linearGradient id="dg15" gradientUnits="userSpaceOnUse" x1="0" y1="336.8" x2="0" y2="551.8"><stop offset="0.0000" stop-color="#4154d7"/><stop offset="0.0233" stop-color="#4169d3"/><stop offset="0.0465" stop-color="#5599ad"/><stop offset="0.0698" stop-color="#65ab8f"/><stop offset="0.0930" stop-color="#65ab8f"/><stop offset="0.1163" stop-color="#65ab8f"/><stop offset="0.1395" stop-color="#63a994"/><stop offset="0.1628" stop-color="#415ed5"/><stop offset="0.1860" stop-color="#4e35c4"/><stop offset="0.2093" stop-color="#454ad1"/><stop offset="0.2326" stop-color="#4548d1"/><stop offset="0.2558" stop-color="#582cb6"/><stop offset="0.2791" stop-color="#6224a8"/><stop offset="0.3023" stop-color="#4167d3"/><stop offset="0.3256" stop-color="#65ab8f"/><stop offset="0.3488" stop-color="#65ab8f"/><stop offset="0.3721" stop-color="#65ab8f"/><stop offset="0.3953" stop-color="#65ab8f"/><stop offset="0.4186" stop-color="#65ab8f"/><stop offset="0.4419" stop-color="#62a894"/><stop offset="0.4651" stop-color="#4164d4"/><stop offset="0.4884" stop-color="#6d219c"/><stop offset="0.5116" stop-color="#712098"/><stop offset="0.5349" stop-color="#751f94"/><stop offset="0.5581" stop-color="#781e91"/><stop offset="0.5814" stop-color="#5d28ae"/><stop offset="0.6047" stop-color="#4882c5"/><stop offset="0.6279" stop-color="#65ab8f"/><stop offset="0.6512" stop-color="#65ab8f"/><stop offset="0.6744" stop-color="#65ab8f"/><stop offset="0.6977" stop-color="#65ab8f"/><stop offset="0.7209" stop-color="#65ab8e"/><stop offset="0.7442" stop-color="#415ed5"/><stop offset="0.7674" stop-color="#6922a0"/><stop offset="0.7907" stop-color="#6b219e"/><stop offset="0.8140" stop-color="#6e219b"/><stop offset="0.8372" stop-color="#712098"/><stop offset="0.8605" stop-color="#4645cf"/><stop offset="0.8837" stop-color="#4166d4"/><stop offset="0.9070" stop-color="#4a8abf"/><stop offset="0.9302" stop-color="#5aa0a5"/><stop offset="0.9535" stop-color="#66ac8d"/><stop offset="0.9767" stop-color="#69af88"/><stop offset="1.0000" stop-color="#69af88"/></linearGradient><linearGradient id="dg16" gradientUnits="userSpaceOnUse" x1="0" y1="336.8" x2="0" y2="551.8"><stop offset="0.0000" stop-color="#4154d7"/><stop offset="0.0233" stop-color="#4169d3"/><stop offset="0.0465" stop-color="#5599ad"/><stop offset="0.0698" stop-color="#65ab8f"/><stop offset="0.0930" stop-color="#65ab8f"/><stop offset="0.1163" stop-color="#65ab8f"/><stop offset="0.1395" stop-color="#63a994"/><stop offset="0.1628" stop-color="#415ed5"/><stop offset="0.1860" stop-color="#4d35c5"/><stop offset="0.2093" stop-color="#454ad2"/><stop offset="0.2326" stop-color="#4548d1"/><stop offset="0.2558" stop-color="#582cb6"/><stop offset="0.2791" stop-color="#6224a8"/><stop offset="0.3023" stop-color="#4167d3"/><stop offset="0.3256" stop-color="#65ab8f"/><stop offset="0.3488" stop-color="#65ab8f"/><stop offset="0.3721" stop-color="#65ab8f"/><stop offset="0.3953" stop-color="#65ab8f"/><stop offset="0.4186" stop-color="#65ab8f"/><stop offset="0.4419" stop-color="#63a994"/><stop offset="0.4651" stop-color="#4164d4"/><stop offset="0.4884" stop-color="#6c219d"/><stop offset="0.5116" stop-color="#6f209a"/><stop offset="0.5349" stop-color="#741f95"/><stop offset="0.5581" stop-color="#781e91"/><stop offset="0.5814" stop-color="#5d28ae"/><stop offset="0.6047" stop-color="#4882c5"/><stop offset="0.6279" stop-color="#65ab8f"/><stop offset="0.6512" stop-color="#65ab8f"/><stop offset="0.6744" stop-color="#65ab8f"/><stop offset="0.6977" stop-color="#65ab8f"/><stop offset="0.7209" stop-color="#65ab8e"/><stop offset="0.7442" stop-color="#415ed5"/><stop offset="0.7674" stop-color="#6a229f"/><stop offset="0.7907" stop-color="#6c219d"/><stop offset="0.8140" stop-color="#6f209a"/><stop offset="0.8372" stop-color="#721f97"/><stop offset="0.8605" stop-color="#4744cf"/><stop offset="0.8837" stop-color="#4166d4"/><stop offset="0.9070" stop-color="#4a8abf"/><stop offset="0.9302" stop-color="#5aa0a5"/><stop offset="0.9535" stop-color="#66ac8d"/><stop offset="0.9767" stop-color="#69af88"/><stop offset="1.0000" stop-color="#69af88"/></linearGradient><linearGradient id="dg17" gradientUnits="userSpaceOnUse" x1="0" y1="336.8" x2="0" y2="551.8"><stop offset="0.0000" stop-color="#4154d7"/><stop offset="0.0233" stop-color="#4169d3"/><stop offset="0.0465" stop-color="#5599ad"/><stop offset="0.0698" stop-color="#65ab8f"/><stop offset="0.0930" stop-color="#65ab8f"/><stop offset="0.1163" stop-color="#65ab8f"/><stop offset="0.1395" stop-color="#62a894"/><stop offset="0.1628" stop-color="#415dd5"/><stop offset="0.1860" stop-color="#4d35c5"/><stop offset="0.2093" stop-color="#454ad2"/><stop offset="0.2326" stop-color="#4548d1"/><stop offset="0.2558" stop-color="#582cb6"/><stop offset="0.2791" stop-color="#6224a8"/><stop offset="0.3023" stop-color="#4167d3"/><stop offset="0.3256" stop-color="#65ab8f"/><stop offset="0.3488" stop-color="#65ab8f"/><stop offset="0.3721" stop-color="#65ab8f"/><stop offset="0.3953" stop-color="#65ab8f"/><stop offset="0.4186" stop-color="#65ab8e"/><stop offset="0.4419" stop-color="#63a994"/><stop offset="0.4651" stop-color="#4165d4"/><stop offset="0.4884" stop-color="#6a219f"/><stop offset="0.5116" stop-color="#6c219d"/><stop offset="0.5349" stop-color="#731f96"/><stop offset="0.5581" stop-color="#781e91"/><stop offset="0.5814" stop-color="#5d28ae"/><stop offset="0.6047" stop-color="#4882c5"/><stop offset="0.6279" stop-color="#65ab8f"/><stop offset="0.6512" stop-color="#65ab8f"/><stop offset="0.6744" stop-color="#65ab8f"/><stop offset="0.6977" stop-color="#65ab8f"/><stop offset="0.7209" stop-color="#65ab8e"/><stop offset="0.7442" stop-color="#415dd5"/><stop offset="0.7674" stop-color="#6a219f"/><stop offset="0.7907" stop-color="#6d219c"/><stop offset="0.8140" stop-color="#702099"/><stop offset="0.8372" stop-color="#731f96"/><stop offset="0.8605" stop-color="#4744cf"/><stop offset="0.8837" stop-color="#4166d4"/><stop offset="0.9070" stop-color="#4a8abf"/><stop offset="0.9302" stop-color="#5aa0a5"/><stop offset="0.9535" stop-color="#66ac8d"/><stop offset="0.9767" stop-color="#69af88"/><stop offset="1.0000" stop-color="#69af88"/></linearGradient><linearGradient id="dg18" gradientUnits="userSpaceOnUse" x1="0" y1="336.8" x2="0" y2="551.8"><stop offset="0.0000" stop-color="#4154d7"/><stop offset="0.0233" stop-color="#4169d3"/><stop offset="0.0465" stop-color="#5599ad"/><stop offset="0.0698" stop-color="#65ab8f"/><stop offset="0.0930" stop-color="#65ab8f"/><stop offset="0.1163" stop-color="#65ab8f"/><stop offset="0.1395" stop-color="#62a894"/><stop offset="0.1628" stop-color="#415dd5"/><stop offset="0.1860" stop-color="#4d36c6"/><stop offset="0.2093" stop-color="#444bd2"/><stop offset="0.2326" stop-color="#4548d1"/><stop offset="0.2558" stop-color="#582cb6"/><stop offset="0.2791" stop-color="#6224a8"/><stop offset="0.3023" stop-color="#4167d3"/><stop offset="0.3256" stop-color="#65ab8f"/><stop offset="0.3488" stop-color="#65ab8f"/><stop offset="0.3721" stop-color="#65ab8f"/><stop offset="0.3953" stop-color="#65ab8f"/><stop offset="0.4186" stop-color="#65ab8e"/><stop offset="0.4419" stop-color="#63a993"/><stop offset="0.4651" stop-color="#4166d4"/><stop offset="0.4884" stop-color="#6623a3"/><stop offset="0.5116" stop-color="#6722a2"/><stop offset="0.5349" stop-color="#712098"/><stop offset="0.5581" stop-color="#781e91"/><stop offset="0.5814" stop-color="#5d28ae"/><stop offset="0.6047" stop-color="#4882c5"/><stop offset="0.6279" stop-color="#65ab8f"/><stop offset="0.6512" stop-color="#65ab8f"/><stop offset="0.6744" stop-color="#65ab8f"/><stop offset="0.6977" stop-color="#65ab8f"/><stop offset="0.7209" stop-color="#65ab8f"/><stop offset="0.7442" stop-color="#415dd5"/><stop offset="0.7674" stop-color="#6b219e"/><stop offset="0.7907" stop-color="#6d219c"/><stop offset="0.8140" stop-color="#712098"/><stop offset="0.8372" stop-color="#731f96"/><stop offset="0.8605" stop-color="#4744cf"/><stop offset="0.8837" stop-color="#4166d4"/><stop offset="0.9070" stop-color="#4a8abf"/><stop offset="0.9302" stop-color="#5aa0a5"/><stop offset="0.9535" stop-color="#66ac8d"/><stop offset="0.9767" stop-color="#69af88"/><stop offset="1.0000" stop-color="#69af88"/></linearGradient><linearGradient id="dg19" gradientUnits="userSpaceOnUse" x1="0" y1="336.8" x2="0" y2="551.8"><stop offset="0.0000" stop-color="#4154d7"/><stop offset="0.0233" stop-color="#4169d3"/><stop offset="0.0465" stop-color="#5599ad"/><stop offset="0.0698" stop-color="#65ab8f"/><stop offset="0.0930" stop-color="#65ab8f"/><stop offset="0.1163" stop-color="#65ab8f"/><stop offset="0.1395" stop-color="#62a895"/><stop offset="0.1628" stop-color="#415dd5"/><stop offset="0.1860" stop-color="#4c36c7"/><stop offset="0.2093" stop-color="#444bd2"/><stop offset="0.2326" stop-color="#4548d1"/><stop offset="0.2558" stop-color="#582cb6"/><stop offset="0.2791" stop-color="#6224a8"/><stop offset="0.3023" stop-color="#4167d3"/><stop offset="0.3256" stop-color="#65ab8f"/><stop offset="0.3488" stop-color="#65ab8f"/><stop offset="0.3721" stop-color="#65ab8f"/><stop offset="0.3953" stop-color="#65ab8f"/><stop offset="0.4186" stop-color="#65ab8e"/><stop offset="0.4419" stop-color="#64aa92"/><stop offset="0.4651" stop-color="#4168d3"/><stop offset="0.4884" stop-color="#5f27ac"/><stop offset="0.5116" stop-color="#5f27ad"/><stop offset="0.5349" stop-color="#6e219b"/><stop offset="0.5581" stop-color="#781e91"/><stop offset="0.5814" stop-color="#5d28ae"/><stop offset="0.6047" stop-color="#4882c5"/><stop offset="0.6279" stop-color="#65ab8f"/><stop offset="0.6512" stop-color="#65ab8f"/><stop offset="0.6744" stop-color="#65ab8f"/><stop offset="0.6977" stop-color="#65ab8f"/><stop offset="0.7209" stop-color="#65ab8f"/><stop offset="0.7442" stop-color="#415dd5"/><stop offset="0.7674" stop-color="#6b219e"/><stop offset="0.7907" stop-color="#6e219b"/><stop offset="0.8140" stop-color="#712098"/><stop offset="0.8372" stop-color="#731f96"/><stop offset="0.8605" stop-color="#4744cf"/><stop offset="0.8837" stop-color="#4166d4"/><stop offset="0.9070" stop-color="#4a8abf"/><stop offset="0.9302" stop-color="#5aa0a5"/><stop offset="0.9535" stop-color="#66ac8d"/><stop offset="0.9767" stop-color="#69af88"/><stop offset="1.0000" stop-color="#69af88"/></linearGradient><linearGradient id="dg20" gradientUnits="userSpaceOnUse" x1="0" y1="336.8" x2="0" y2="551.8"><stop offset="0.0000" stop-color="#4154d7"/><stop offset="0.0233" stop-color="#4169d3"/><stop offset="0.0465" stop-color="#5599ad"/><stop offset="0.0698" stop-color="#65ab8f"/><stop offset="0.0930" stop-color="#65ab8f"/><stop offset="0.1163" stop-color="#65ab8f"/><stop offset="0.1395" stop-color="#62a895"/><stop offset="0.1628" stop-color="#415cd6"/><stop offset="0.1860" stop-color="#4c37c7"/><stop offset="0.2093" stop-color="#444bd2"/><stop offset="0.2326" stop-color="#4548d1"/><stop offset="0.2558" stop-color="#582cb6"/><stop offset="0.2791" stop-color="#6224a8"/><stop offset="0.3023" stop-color="#4167d3"/><stop offset="0.3256" stop-color="#65ab8f"/><stop offset="0.3488" stop-color="#65ab8f"/><stop offset="0.3721" stop-color="#65ab8f"/><stop offset="0.3953" stop-color="#65ab8f"/><stop offset="0.4186" stop-color="#66ac8e"/><stop offset="0.4419" stop-color="#65ab90"/><stop offset="0.4651" stop-color="#416bd3"/><stop offset="0.4884" stop-color="#552fba"/><stop offset="0.5116" stop-color="#5232bf"/><stop offset="0.5349" stop-color="#6822a1"/><stop offset="0.5581" stop-color="#781e91"/><stop offset="0.5814" stop-color="#5d28ae"/><stop offset="0.6047" stop-color="#4882c5"/><stop offset="0.6279" stop-color="#65ab8f"/><stop offset="0.6512" stop-color="#65ab8f"/><stop offset="0.6744" stop-color="#65ab8f"/><stop offset="0.6977" stop-color="#65ab8f"/><stop offset="0.7209" stop-color="#65ab8f"/><stop offset="0.7442" stop-color="#415dd5"/><stop offset="0.7674" stop-color="#6b219e"/><stop offset="0.7907" stop-color="#6e209b"/><stop offset="0.8140" stop-color="#712098"/><stop offset="0.8372" stop-color="#731f96"/><stop offset="0.8605" stop-color="#4744cf"/><stop offset="0.8837" stop-color="#4166d4"/><stop offset="0.9070" stop-color="#4a8abf"/><stop offset="0.9302" stop-color="#5aa0a5"/><stop offset="0.9535" stop-color="#66ac8d"/><stop offset="0.9767" stop-color="#69af88"/><stop offset="1.0000" stop-color="#69af88"/></linearGradient><linearGradient id="dg21" gradientUnits="userSpaceOnUse" x1="0" y1="336.8" x2="0" y2="551.8"><stop offset="0.0000" stop-color="#4154d7"/><stop offset="0.0233" stop-color="#4169d3"/><stop offset="0.0465" stop-color="#5599ad"/><stop offset="0.0698" stop-color="#65ab8f"/><stop offset="0.0930" stop-color="#65ab8f"/><stop offset="0.1163" stop-color="#65ab8f"/><stop offset="0.1395" stop-color="#62a895"/><stop offset="0.1628" stop-color="#415cd6"/><stop offset="0.1860" stop-color="#4b37c8"/><stop offset="0.2093" stop-color="#444bd2"/><stop offset="0.2326" stop-color="#4548d1"/><stop offset="0.2558" stop-color="#582cb6"/><stop offset="0.2791" stop-color="#6224a8"/><stop offset="0.3023" stop-color="#4167d3"/><stop offset="0.3256" stop-color="#65ab8f"/><stop offset="0.3488" stop-color="#65ab8f"/><stop offset="0.3721" stop-color="#65ab8f"/><stop offset="0.3953" stop-color="#65ab8e"/><stop offset="0.4186" stop-color="#66ac8d"/><stop offset="0.4419" stop-color="#66ac8d"/><stop offset="0.4651" stop-color="#4272cf"/><stop offset="0.4884" stop-color="#493cca"/><stop offset="0.5116" stop-color="#4742ce"/><stop offset="0.5349" stop-color="#6026ab"/><stop offset="0.5581" stop-color="#781e91"/><stop offset="0.5814" stop-color="#5d28ae"/><stop offset="0.6047" stop-color="#4882c5"/><stop offset="0.6279" stop-color="#65ab8f"/><stop offset="0.6512" stop-color="#65ab8f"/><stop offset="0.6744" stop-color="#65ab8f"/><stop offset="0.6977" stop-color="#65ab8f"/><stop offset="0.7209" stop-color="#65ab8f"/><stop offset="0.7442" stop-color="#415dd5"/><stop offset="0.7674" stop-color="#6b219e"/><stop offset="0.7907" stop-color="#6e209b"/><stop offset="0.8140" stop-color="#712098"/><stop offset="0.8372" stop-color="#731f96"/><stop offset="0.8605" stop-color="#4744cf"/><stop offset="0.8837" stop-color="#4166d4"/><stop offset="0.9070" stop-color="#4a8abf"/><stop offset="0.9302" stop-color="#5aa0a5"/><stop offset="0.9535" stop-color="#66ac8d"/><stop offset="0.9767" stop-color="#69af88"/><stop offset="1.0000" stop-color="#69af88"/></linearGradient><linearGradient id="dg22" gradientUnits="userSpaceOnUse" x1="0" y1="336.8" x2="0" y2="551.8"><stop offset="0.0000" stop-color="#4154d7"/><stop offset="0.0233" stop-color="#4169d3"/><stop offset="0.0465" stop-color="#5599ad"/><stop offset="0.0698" stop-color="#65ab8f"/><stop offset="0.0930" stop-color="#65ab8f"/><stop offset="0.1163" stop-color="#65ab8f"/><stop offset="0.1395" stop-color="#62a895"/><stop offset="0.1628" stop-color="#415cd6"/><stop offset="0.1860" stop-color="#4b37c8"/><stop offset="0.2093" stop-color="#444bd2"/><stop offset="0.2326" stop-color="#4548d1"/><stop offset="0.2558" stop-color="#582cb6"/><stop offset="0.2791" stop-color="#6224a8"/><stop offset="0.3023" stop-color="#4167d3"/><stop offset="0.3256" stop-color="#65ab8f"/><stop offset="0.3488" stop-color="#65ab8f"/><stop offset="0.3721" stop-color="#65ab8f"/><stop offset="0.3953" stop-color="#65ab8e"/><stop offset="0.4186" stop-color="#66ac8c"/><stop offset="0.4419" stop-color="#68ae89"/><stop offset="0.4651" stop-color="#467cc9"/><stop offset="0.4884" stop-color="#434fd4"/><stop offset="0.5116" stop-color="#415ad6"/><stop offset="0.5349" stop-color="#552fba"/><stop offset="0.5581" stop-color="#771e92"/><stop offset="0.5814" stop-color="#5d28ae"/><stop offset="0.6047" stop-color="#4882c5"/><stop offset="0.6279" stop-color="#65ab8f"/><stop offset="0.6512" stop-color="#65ab8f"/><stop offset="0.6744" stop-color="#65ab8f"/><stop offset="0.6977" stop-color="#65ab8f"/><stop offset="0.7209" stop-color="#65ab8f"/><stop offset="0.7442" stop-color="#415dd5"/><stop offset="0.7674" stop-color="#6c219d"/><stop offset="0.7907" stop-color="#6f209a"/><stop offset="0.8140" stop-color="#722097"/><stop offset="0.8372" stop-color="#731f96"/><stop offset="0.8605" stop-color="#4744cf"/><stop offset="0.8837" stop-color="#4166d4"/><stop offset="0.9070" stop-color="#4a8abf"/><stop offset="0.9302" stop-color="#5aa0a5"/><stop offset="0.9535" stop-color="#66ac8d"/><stop offset="0.9767" stop-color="#69af88"/><stop offset="1.0000" stop-color="#69af88"/></linearGradient><linearGradient id="dg23" gradientUnits="userSpaceOnUse" x1="0" y1="336.8" x2="0" y2="551.8"><stop offset="0.0000" stop-color="#4154d7"/><stop offset="0.0233" stop-color="#4169d3"/><stop offset="0.0465" stop-color="#5599ad"/><stop offset="0.0698" stop-color="#65ab8f"/><stop offset="0.0930" stop-color="#65ab8f"/><stop offset="0.1163" stop-color="#65ab8f"/><stop offset="0.1395" stop-color="#62a896"/><stop offset="0.1628" stop-color="#415bd6"/><stop offset="0.1860" stop-color="#4b38c8"/><stop offset="0.2093" stop-color="#444cd2"/><stop offset="0.2326" stop-color="#4548d1"/><stop offset="0.2558" stop-color="#582cb6"/><stop offset="0.2791" stop-color="#6224a8"/><stop offset="0.3023" stop-color="#4167d3"/><stop offset="0.3256" stop-color="#65ab8f"/><stop offset="0.3488" stop-color="#65ab8f"/><stop offset="0.3721" stop-color="#65ab8f"/><stop offset="0.3953" stop-color="#65ab8e"/><stop offset="0.4186" stop-color="#67ad8b"/><stop offset="0.4419" stop-color="#6bb084"/><stop offset="0.4651" stop-color="#4a8abf"/><stop offset="0.4884" stop-color="#4166d4"/><stop offset="0.5116" stop-color="#4477cc"/><stop offset="0.5349" stop-color="#4a3aca"/><stop offset="0.5581" stop-color="#771e92"/><stop offset="0.5814" stop-color="#5d28ae"/><stop offset="0.6047" stop-color="#4882c5"/><stop offset="0.6279" stop-color="#65ab8f"/><stop offset="0.6512" stop-color="#65ab8f"/><stop offset="0.6744" stop-color="#65ab8f"/><stop offset="0.6977" stop-color="#65ab8f"/><stop offset="0.7209" stop-color="#65ab8f"/><stop offset="0.7442" stop-color="#415dd5"/><stop offset="0.7674" stop-color="#6c219d"/><stop offset="0.7907" stop-color="#6f209a"/><stop offset="0.8140" stop-color="#722097"/><stop offset="0.8372" stop-color="#741f95"/><stop offset="0.8605" stop-color="#4744cf"/><stop offset="0.8837" stop-color="#4166d4"/><stop offset="0.9070" stop-color="#4a8abf"/><stop offset="0.9302" stop-color="#5aa0a5"/><stop offset="0.9535" stop-color="#66ac8d"/><stop offset="0.9767" stop-color="#69af88"/><stop offset="1.0000" stop-color="#69af88"/></linearGradient><linearGradient id="dg24" gradientUnits="userSpaceOnUse" x1="0" y1="336.8" x2="0" y2="551.8"><stop offset="0.0000" stop-color="#4154d7"/><stop offset="0.0233" stop-color="#4169d3"/><stop offset="0.0465" stop-color="#5599ad"/><stop offset="0.0698" stop-color="#65ab8f"/><stop offset="0.0930" stop-color="#65ab8f"/><stop offset="0.1163" stop-color="#65ab8f"/><stop offset="0.1395" stop-color="#62a896"/><stop offset="0.1628" stop-color="#415bd6"/><stop offset="0.1860" stop-color="#4b38c9"/><stop offset="0.2093" stop-color="#444cd2"/><stop offset="0.2326" stop-color="#4548d1"/><stop offset="0.2558" stop-color="#582cb6"/><stop offset="0.2791" stop-color="#6224a8"/><stop offset="0.3023" stop-color="#4167d3"/><stop offset="0.3256" stop-color="#65ab8f"/><stop offset="0.3488" stop-color="#65ab8f"/><stop offset="0.3721" stop-color="#65ab8f"/><stop offset="0.3953" stop-color="#66ac8e"/><stop offset="0.4186" stop-color="#68ae89"/><stop offset="0.4419" stop-color="#6db280"/><stop offset="0.4651" stop-color="#5296b2"/><stop offset="0.4884" stop-color="#4987c2"/><stop offset="0.5116" stop-color="#569aac"/><stop offset="0.5349" stop-color="#454ad1"/><stop offset="0.5581" stop-color="#761f93"/><stop offset="0.5814" stop-color="#5d28ae"/><stop offset="0.6047" stop-color="#4882c5"/><stop offset="0.6279" stop-color="#65ab8f"/><stop offset="0.6512" stop-color="#65ab8f"/><stop offset="0.6744" stop-color="#65ab8f"/><stop offset="0.6977" stop-color="#65ab8f"/><stop offset="0.7209" stop-color="#65ab8f"/><stop offset="0.7442" stop-color="#415dd5"/><stop offset="0.7674" stop-color="#6c219d"/><stop offset="0.7907" stop-color="#6f209a"/><stop offset="0.8140" stop-color="#722097"/><stop offset="0.8372" stop-color="#741f95"/><stop offset="0.8605" stop-color="#4744cf"/><stop offset="0.8837" stop-color="#4166d4"/><stop offset="0.9070" stop-color="#4a8abf"/><stop offset="0.9302" stop-color="#5aa0a5"/><stop offset="0.9535" stop-color="#66ac8d"/><stop offset="0.9767" stop-color="#69af88"/><stop offset="1.0000" stop-color="#69af88"/></linearGradient><linearGradient id="dg25" gradientUnits="userSpaceOnUse" x1="0" y1="336.8" x2="0" y2="551.8"><stop offset="0.0000" stop-color="#4154d7"/><stop offset="0.0233" stop-color="#4169d3"/><stop offset="0.0465" stop-color="#5599ad"/><stop offset="0.0698" stop-color="#65ab8f"/><stop offset="0.0930" stop-color="#65ab8f"/><stop offset="0.1163" stop-color="#65ab8f"/><stop offset="0.1395" stop-color="#61a796"/><stop offset="0.1628" stop-color="#415bd6"/><stop offset="0.1860" stop-color="#4a39c9"/><stop offset="0.2093" stop-color="#444cd3"/><stop offset="0.2326" stop-color="#4548d1"/><stop offset="0.2558" stop-color="#582cb6"/><stop offset="0.2791" stop-color="#6224a8"/><stop offset="0.3023" stop-color="#4167d3"/><stop offset="0.3256" stop-color="#65ab8f"/><stop offset="0.3488" stop-color="#65ab8f"/><stop offset="0.3721" stop-color="#65ab8f"/><stop offset="0.3953" stop-color="#66ac8e"/><stop offset="0.4186" stop-color="#69af88"/><stop offset="0.4419" stop-color="#70b47b"/><stop offset="0.4651" stop-color="#5da39f"/><stop offset="0.4884" stop-color="#5ca2a1"/><stop offset="0.5116" stop-color="#72b578"/><stop offset="0.5349" stop-color="#415bd6"/><stop offset="0.5581" stop-color="#751f94"/><stop offset="0.5814" stop-color="#5d28ae"/><stop offset="0.6047" stop-color="#4882c5"/><stop offset="0.6279" stop-color="#65ab8f"/><stop offset="0.6512" stop-color="#65ab8f"/><stop offset="0.6744" stop-color="#65ab8f"/><stop offset="0.6977" stop-color="#65ab8f"/><stop offset="0.7209" stop-color="#65ab8f"/><stop offset="0.7442" stop-color="#415dd5"/><stop offset="0.7674" stop-color="#6c219d"/><stop offset="0.7907" stop-color="#6f209a"/><stop offset="0.8140" stop-color="#722097"/><stop offset="0.8372" stop-color="#741f95"/><stop offset="0.8605" stop-color="#4744cf"/><stop offset="0.8837" stop-color="#4166d4"/><stop offset="0.9070" stop-color="#4a8abf"/><stop offset="0.9302" stop-color="#5aa0a5"/><stop offset="0.9535" stop-color="#66ac8d"/><stop offset="0.9767" stop-color="#69af88"/><stop offset="1.0000" stop-color="#69af88"/></linearGradient><linearGradient id="dg26" gradientUnits="userSpaceOnUse" x1="0" y1="336.8" x2="0" y2="551.8"><stop offset="0.0000" stop-color="#4154d7"/><stop offset="0.0233" stop-color="#4169d3"/><stop offset="0.0465" stop-color="#5599ad"/><stop offset="0.0698" stop-color="#65ab8f"/><stop offset="0.0930" stop-color="#65ab8f"/><stop offset="0.1163" stop-color="#65ab8f"/><stop offset="0.1395" stop-color="#61a797"/><stop offset="0.1628" stop-color="#415ad6"/><stop offset="0.1860" stop-color="#4a39c9"/><stop offset="0.2093" stop-color="#444cd3"/><stop offset="0.2326" stop-color="#4548d1"/><stop offset="0.2558" stop-color="#582cb6"/><stop offset="0.2791" stop-color="#6224a8"/><stop offset="0.3023" stop-color="#4167d3"/><stop offset="0.3256" stop-color="#65ab8f"/><stop offset="0.3488" stop-color="#65ab8f"/><stop offset="0.3721" stop-color="#65ab8f"/><stop offset="0.3953" stop-color="#66ac8d"/><stop offset="0.4186" stop-color="#69af86"/><stop offset="0.4419" stop-color="#74b675"/><stop offset="0.4651" stop-color="#6ab085"/><stop offset="0.4884" stop-color="#74b675"/><stop offset="0.5116" stop-color="#a9bb51"/><stop offset="0.5349" stop-color="#416ad3"/><stop offset="0.5581" stop-color="#731f96"/><stop offset="0.5814" stop-color="#5d28ae"/><stop offset="0.6047" stop-color="#4882c5"/><stop offset="0.6279" stop-color="#65ab8f"/><stop offset="0.6512" stop-color="#65ab8f"/><stop offset="0.6744" stop-color="#65ab8f"/><stop offset="0.6977" stop-color="#65ab8f"/><stop offset="0.7209" stop-color="#65ab8f"/><stop offset="0.7442" stop-color="#415dd5"/><stop offset="0.7674" stop-color="#6c219d"/><stop offset="0.7907" stop-color="#6f209a"/><stop offset="0.8140" stop-color="#722097"/><stop offset="0.8372" stop-color="#741f95"/><stop offset="0.8605" stop-color="#4744cf"/><stop offset="0.8837" stop-color="#4166d4"/><stop offset="0.9070" stop-color="#4a8abf"/><stop offset="0.9302" stop-color="#5aa0a5"/><stop offset="0.9535" stop-color="#66ac8d"/><stop offset="0.9767" stop-color="#69af88"/><stop offset="1.0000" stop-color="#69af88"/></linearGradient><linearGradient id="dg27" gradientUnits="userSpaceOnUse" x1="0" y1="336.8" x2="0" y2="551.8"><stop offset="0.0000" stop-color="#4154d7"/><stop offset="0.0233" stop-color="#4169d3"/><stop offset="0.0465" stop-color="#5599ad"/><stop offset="0.0698" stop-color="#65ab8f"/><stop offset="0.0930" stop-color="#65ab8f"/><stop offset="0.1163" stop-color="#65ab8f"/><stop offset="0.1395" stop-color="#61a797"/><stop offset="0.1628" stop-color="#415ad6"/><stop offset="0.1860" stop-color="#4a3ac9"/><stop offset="0.2093" stop-color="#444cd3"/><stop offset="0.2326" stop-color="#4548d1"/><stop offset="0.2558" stop-color="#582cb6"/><stop offset="0.2791" stop-color="#6224a8"/><stop offset="0.3023" stop-color="#4167d3"/><stop offset="0.3256" stop-color="#65ab8f"/><stop offset="0.3488" stop-color="#65ab8f"/><stop offset="0.3721" stop-color="#65ab8e"/><stop offset="0.3953" stop-color="#66ac8d"/><stop offset="0.4186" stop-color="#6ab085"/><stop offset="0.4419" stop-color="#77b870"/><stop offset="0.4651" stop-color="#74b774"/><stop offset="0.4884" stop-color="#a1bc55"/><stop offset="0.5116" stop-color="#d2a63f"/><stop offset="0.5349" stop-color="#467cc9"/><stop offset="0.5581" stop-color="#721f97"/><stop offset="0.5814" stop-color="#5d28ae"/><stop offset="0.6047" stop-color="#4882c5"/><stop offset="0.6279" stop-color="#65ab8f"/><stop offset="0.6512" stop-color="#65ab8f"/><stop offset="0.6744" stop-color="#65ab8f"/><stop offset="0.6977" stop-color="#65ab8f"/><stop offset="0.7209" stop-color="#65ab8f"/><stop offset="0.7442" stop-color="#415dd5"/><stop offset="0.7674" stop-color="#6c219d"/><stop offset="0.7907" stop-color="#6f209a"/><stop offset="0.8140" stop-color="#722097"/><stop offset="0.8372" stop-color="#741f95"/><stop offset="0.8605" stop-color="#4744cf"/><stop offset="0.8837" stop-color="#4166d4"/><stop offset="0.9070" stop-color="#4a8abf"/><stop offset="0.9302" stop-color="#5aa0a5"/><stop offset="0.9535" stop-color="#66ac8d"/><stop offset="0.9767" stop-color="#69af88"/><stop offset="1.0000" stop-color="#69af88"/></linearGradient><linearGradient id="dg28" gradientUnits="userSpaceOnUse" x1="0" y1="336.8" x2="0" y2="551.8"><stop offset="0.0000" stop-color="#4154d7"/><stop offset="0.0233" stop-color="#4169d3"/><stop offset="0.0465" stop-color="#5599ad"/><stop offset="0.0698" stop-color="#65ab8f"/><stop offset="0.0930" stop-color="#65ab8f"/><stop offset="0.1163" stop-color="#65ab8f"/><stop offset="0.1395" stop-color="#61a797"/><stop offset="0.1628" stop-color="#415ad6"/><stop offset="0.1860" stop-color="#4a3aca"/><stop offset="0.2093" stop-color="#444dd3"/><stop offset="0.2326" stop-color="#4548d1"/><stop offset="0.2558" stop-color="#582cb6"/><stop offset="0.2791" stop-color="#6224a8"/><stop offset="0.3023" stop-color="#4167d3"/><stop offset="0.3256" stop-color="#65ab8f"/><stop offset="0.3488" stop-color="#65ab8f"/><stop offset="0.3721" stop-color="#65ab8e"/><stop offset="0.3953" stop-color="#66ac8d"/><stop offset="0.4186" stop-color="#6bb084"/><stop offset="0.4419" stop-color="#7dba6b"/><stop offset="0.4651" stop-color="#86bb65"/><stop offset="0.4884" stop-color="#bfb446"/><stop offset="0.5116" stop-color="#e08038"/><stop offset="0.5349" stop-color="#4b8cbe"/><stop offset="0.5581" stop-color="#712098"/><stop offset="0.5814" stop-color="#5d28ae"/><stop offset="0.6047" stop-color="#4882c5"/><stop offset="0.6279" stop-color="#65ab8f"/><stop offset="0.6512" stop-color="#65ab8f"/><stop offset="0.6744" stop-color="#65ab8f"/><stop offset="0.6977" stop-color="#65ab8f"/><stop offset="0.7209" stop-color="#65ab8f"/><stop offset="0.7442" stop-color="#415dd5"/><stop offset="0.7674" stop-color="#6c219d"/><stop offset="0.7907" stop-color="#6f209a"/><stop offset="0.8140" stop-color="#722097"/><stop offset="0.8372" stop-color="#741f95"/><stop offset="0.8605" stop-color="#4744cf"/><stop offset="0.8837" stop-color="#4166d4"/><stop offset="0.9070" stop-color="#4a8abf"/><stop offset="0.9302" stop-color="#5aa0a5"/><stop offset="0.9535" stop-color="#66ac8d"/><stop offset="0.9767" stop-color="#69af88"/><stop offset="1.0000" stop-color="#69af88"/></linearGradient><linearGradient id="dg29" gradientUnits="userSpaceOnUse" x1="0" y1="336.8" x2="0" y2="551.8"><stop offset="0.0000" stop-color="#4154d7"/><stop offset="0.0233" stop-color="#4169d3"/><stop offset="0.0465" stop-color="#5599ad"/><stop offset="0.0698" stop-color="#65ab8f"/><stop offset="0.0930" stop-color="#65ab8f"/><stop offset="0.1163" stop-color="#65ab8f"/><stop offset="0.1395" stop-color="#61a798"/><stop offset="0.1628" stop-color="#4159d6"/><stop offset="0.1860" stop-color="#4a3aca"/><stop offset="0.2093" stop-color="#444dd3"/><stop offset="0.2326" stop-color="#4548d1"/><stop offset="0.2558" stop-color="#582cb6"/><stop offset="0.2791" stop-color="#6224a8"/><stop offset="0.3023" stop-color="#4167d3"/><stop offset="0.3256" stop-color="#65ab8f"/><stop offset="0.3488" stop-color="#65ab8f"/><stop offset="0.3721" stop-color="#65ab8e"/><stop offset="0.3953" stop-color="#66ac8d"/><stop offset="0.4186" stop-color="#6bb083"/><stop offset="0.4419" stop-color="#82bb67"/><stop offset="0.4651" stop-color="#95be5b"/><stop offset="0.4884" stop-color="#d0aa40"/><stop offset="0.5116" stop-color="#de6031"/><stop offset="0.5349" stop-color="#5092b6"/><stop offset="0.5581" stop-color="#712098"/><stop offset="0.5814" stop-color="#5d28ae"/><stop offset="0.6047" stop-color="#4882c5"/><stop offset="0.6279" stop-color="#65ab8f"/><stop offset="0.6512" stop-color="#65ab8f"/><stop offset="0.6744" stop-color="#65ab8f"/><stop offset="0.6977" stop-color="#65ab8f"/><stop offset="0.7209" stop-color="#65ab8f"/><stop offset="0.7442" stop-color="#415dd5"/><stop offset="0.7674" stop-color="#6c219d"/><stop offset="0.7907" stop-color="#6f209a"/><stop offset="0.8140" stop-color="#722097"/><stop offset="0.8372" stop-color="#741f95"/><stop offset="0.8605" stop-color="#4744cf"/><stop offset="0.8837" stop-color="#4166d4"/><stop offset="0.9070" stop-color="#4a8abf"/><stop offset="0.9302" stop-color="#5aa0a5"/><stop offset="0.9535" stop-color="#66ac8d"/><stop offset="0.9767" stop-color="#69af88"/><stop offset="1.0000" stop-color="#69af88"/></linearGradient><linearGradient id="dg30" gradientUnits="userSpaceOnUse" x1="0" y1="336.8" x2="0" y2="551.8"><stop offset="0.0000" stop-color="#4154d7"/><stop offset="0.0233" stop-color="#4169d3"/><stop offset="0.0465" stop-color="#5599ad"/><stop offset="0.0698" stop-color="#65ab8f"/><stop offset="0.0930" stop-color="#65ab8f"/><stop offset="0.1163" stop-color="#65ab8f"/><stop offset="0.1395" stop-color="#61a798"/><stop offset="0.1628" stop-color="#4159d6"/><stop offset="0.1860" stop-color="#4a3bca"/><stop offset="0.2093" stop-color="#444dd3"/><stop offset="0.2326" stop-color="#4548d1"/><stop offset="0.2558" stop-color="#582cb6"/><stop offset="0.2791" stop-color="#6224a8"/><stop offset="0.3023" stop-color="#4167d3"/><stop offset="0.3256" stop-color="#65ab8f"/><stop offset="0.3488" stop-color="#65ab8f"/><stop offset="0.3721" stop-color="#65ab8f"/><stop offset="0.3953" stop-color="#66ac8e"/><stop offset="0.4186" stop-color="#68ae8a"/><stop offset="0.4419" stop-color="#6cb182"/><stop offset="0.4651" stop-color="#4f92b7"/><stop offset="0.4884" stop-color="#457aca"/><stop offset="0.5116" stop-color="#4e90b8"/><stop offset="0.5349" stop-color="#4744cf"/><stop offset="0.5581" stop-color="#761f93"/><stop offset="0.5814" stop-color="#5d29af"/><stop offset="0.6047" stop-color="#4882c5"/><stop offset="0.6279" stop-color="#65ab8f"/><stop offset="0.6512" stop-color="#65ab8f"/><stop offset="0.6744" stop-color="#65ab8f"/><stop offset="0.6977" stop-color="#65ab8f"/><stop offset="0.7209" stop-color="#65ab8f"/><stop offset="0.7442" stop-color="#415dd5"/><stop offset="0.7674" stop-color="#6b219e"/><stop offset="0.7907" stop-color="#6f209a"/><stop offset="0.8140" stop-color="#722097"/><stop offset="0.8372" stop-color="#731f96"/><stop offset="0.8605" stop-color="#4744ce"/><stop offset="0.8837" stop-color="#4166d4"/><stop offset="0.9070" stop-color="#4a8ac0"/><stop offset="0.9302" stop-color="#5aa0a5"/><stop offset="0.9535" stop-color="#66ac8d"/><stop offset="0.9767" stop-color="#69af88"/><stop offset="1.0000" stop-color="#69af88"/></linearGradient><linearGradient id="dg31" gradientUnits="userSpaceOnUse" x1="0" y1="336.8" x2="0" y2="551.8"><stop offset="0.0000" stop-color="#4154d7"/><stop offset="0.0233" stop-color="#4169d3"/><stop offset="0.0465" stop-color="#5599ad"/><stop offset="0.0698" stop-color="#65ab8f"/><stop offset="0.0930" stop-color="#65ab8f"/><stop offset="0.1163" stop-color="#65ab8f"/><stop offset="0.1395" stop-color="#60a698"/><stop offset="0.1628" stop-color="#4159d6"/><stop offset="0.1860" stop-color="#4a3bca"/><stop offset="0.2093" stop-color="#444dd3"/><stop offset="0.2326" stop-color="#4548d1"/><stop offset="0.2558" stop-color="#582cb6"/><stop offset="0.2791" stop-color="#6224a8"/><stop offset="0.3023" stop-color="#4167d3"/><stop offset="0.3256" stop-color="#65ab8f"/><stop offset="0.3488" stop-color="#65ab8f"/><stop offset="0.3721" stop-color="#65ab8f"/><stop offset="0.3953" stop-color="#65ab8f"/><stop offset="0.4186" stop-color="#65ab8f"/><stop offset="0.4419" stop-color="#62a894"/><stop offset="0.4651" stop-color="#4164d4"/><stop offset="0.4884" stop-color="#6e209b"/><stop offset="0.5116" stop-color="#722097"/><stop offset="0.5349" stop-color="#751f94"/><stop offset="0.5581" stop-color="#781e91"/><stop offset="0.5814" stop-color="#592cb5"/><stop offset="0.6047" stop-color="#4882c5"/><stop offset="0.6279" stop-color="#63a992"/><stop offset="0.6512" stop-color="#63a992"/><stop offset="0.6744" stop-color="#63a992"/><stop offset="0.6977" stop-color="#63a992"/><stop offset="0.7209" stop-color="#63a992"/><stop offset="0.7442" stop-color="#415fd5"/><stop offset="0.7674" stop-color="#6722a2"/><stop offset="0.7907" stop-color="#6d219c"/><stop offset="0.8140" stop-color="#702099"/><stop offset="0.8372" stop-color="#722097"/><stop offset="0.8605" stop-color="#4743ce"/><stop offset="0.8837" stop-color="#4165d4"/><stop offset="0.9070" stop-color="#4a88c1"/><stop offset="0.9302" stop-color="#599fa7"/><stop offset="0.9535" stop-color="#65ab90"/><stop offset="0.9767" stop-color="#68ae8a"/><stop offset="1.0000" stop-color="#68ae89"/></linearGradient><linearGradient id="dg32" gradientUnits="userSpaceOnUse" x1="0" y1="336.8" x2="0" y2="551.8"><stop offset="0.0000" stop-color="#4154d7"/><stop offset="0.0233" stop-color="#4169d3"/><stop offset="0.0465" stop-color="#5599ad"/><stop offset="0.0698" stop-color="#65ab8f"/><stop offset="0.0930" stop-color="#65ab8f"/><stop offset="0.1163" stop-color="#65ab8f"/><stop offset="0.1395" stop-color="#60a699"/><stop offset="0.1628" stop-color="#4159d6"/><stop offset="0.1860" stop-color="#493cca"/><stop offset="0.2093" stop-color="#444dd3"/><stop offset="0.2326" stop-color="#4548d1"/><stop offset="0.2558" stop-color="#582cb6"/><stop offset="0.2791" stop-color="#6224a8"/><stop offset="0.3023" stop-color="#4167d3"/><stop offset="0.3256" stop-color="#65ab8f"/><stop offset="0.3488" stop-color="#65ab8f"/><stop offset="0.3721" stop-color="#65ab8f"/><stop offset="0.3953" stop-color="#65ab8f"/><stop offset="0.4186" stop-color="#65ab8f"/><stop offset="0.4419" stop-color="#62a894"/><stop offset="0.4651" stop-color="#4164d4"/><stop offset="0.4884" stop-color="#6e209b"/><stop offset="0.5116" stop-color="#722097"/><stop offset="0.5349" stop-color="#751f94"/><stop offset="0.5581" stop-color="#781e91"/><stop offset="0.5814" stop-color="#5232be"/><stop offset="0.6047" stop-color="#4882c5"/><stop offset="0.6279" stop-color="#60a698"/><stop offset="0.6512" stop-color="#61a797"/><stop offset="0.6744" stop-color="#61a797"/><stop offset="0.6977" stop-color="#61a797"/><stop offset="0.7209" stop-color="#61a797"/><stop offset="0.7442" stop-color="#4162d4"/><stop offset="0.7674" stop-color="#6125a9"/><stop offset="0.7907" stop-color="#6a229f"/><stop offset="0.8140" stop-color="#6d219c"/><stop offset="0.8372" stop-color="#6f209a"/><stop offset="0.8605" stop-color="#4840cd"/><stop offset="0.8837" stop-color="#4163d4"/><stop offset="0.9070" stop-color="#4985c3"/><stop offset="0.9302" stop-color="#579caa"/><stop offset="0.9535" stop-color="#62a895"/><stop offset="0.9767" stop-color="#66ac8d"/><stop offset="1.0000" stop-color="#66ac8c"/></linearGradient><linearGradient id="dg33" gradientUnits="userSpaceOnUse" x1="0" y1="336.8" x2="0" y2="551.8"><stop offset="0.0000" stop-color="#4154d7"/><stop offset="0.0233" stop-color="#4169d3"/><stop offset="0.0465" stop-color="#5599ad"/><stop offset="0.0698" stop-color="#65ab8f"/><stop offset="0.0930" stop-color="#65ab8f"/><stop offset="0.1163" stop-color="#65ab8f"/><stop offset="0.1395" stop-color="#60a699"/><stop offset="0.1628" stop-color="#4158d6"/><stop offset="0.1860" stop-color="#493ccb"/><stop offset="0.2093" stop-color="#434ed3"/><stop offset="0.2326" stop-color="#4548d1"/><stop offset="0.2558" stop-color="#582cb6"/><stop offset="0.2791" stop-color="#6224a8"/><stop offset="0.3023" stop-color="#4167d3"/><stop offset="0.3256" stop-color="#65ab8f"/><stop offset="0.3488" stop-color="#65ab8f"/><stop offset="0.3721" stop-color="#65ab8f"/><stop offset="0.3953" stop-color="#65ab8f"/><stop offset="0.4186" stop-color="#65ab8f"/><stop offset="0.4419" stop-color="#62a894"/><stop offset="0.4651" stop-color="#4164d4"/><stop offset="0.4884" stop-color="#6e209b"/><stop offset="0.5116" stop-color="#722097"/><stop offset="0.5349" stop-color="#751f94"/><stop offset="0.5581" stop-color="#781e91"/><stop offset="0.5814" stop-color="#4a39c9"/><stop offset="0.6047" stop-color="#4781c5"/><stop offset="0.6279" stop-color="#5ca2a0"/><stop offset="0.6512" stop-color="#5da39f"/><stop offset="0.6744" stop-color="#5da39f"/><stop offset="0.6977" stop-color="#5da39f"/><stop offset="0.7209" stop-color="#5da39f"/><stop offset="0.7442" stop-color="#4165d4"/><stop offset="0.7674" stop-color="#5a2bb3"/><stop offset="0.7907" stop-color="#6623a3"/><stop offset="0.8140" stop-color="#6922a0"/><stop offset="0.8372" stop-color="#6b219e"/><stop offset="0.8605" stop-color="#493ecb"/><stop offset="0.8837" stop-color="#4160d5"/><stop offset="0.9070" stop-color="#4780c6"/><stop offset="0.9302" stop-color="#5599ae"/><stop offset="0.9535" stop-color="#5fa59b"/><stop offset="0.9767" stop-color="#64aa91"/><stop offset="1.0000" stop-color="#65ab90"/></linearGradient><linearGradient id="dg34" gradientUnits="userSpaceOnUse" x1="0" y1="336.8" x2="0" y2="551.8"><stop offset="0.0000" stop-color="#4154d7"/><stop offset="0.0233" stop-color="#4169d3"/><stop offset="0.0465" stop-color="#5599ad"/><stop offset="0.0698" stop-color="#65ab8f"/><stop offset="0.0930" stop-color="#65ab8f"/><stop offset="0.1163" stop-color="#65ab8f"/><stop offset="0.1395" stop-color="#60a699"/><stop offset="0.1628" stop-color="#4158d6"/><stop offset="0.1860" stop-color="#493dcb"/><stop offset="0.2093" stop-color="#434ed3"/><stop offset="0.2326" stop-color="#4548d1"/><stop offset="0.2558" stop-color="#582cb6"/><stop offset="0.2791" stop-color="#6224a8"/><stop offset="0.3023" stop-color="#4167d3"/><stop offset="0.3256" stop-color="#65ab8f"/><stop offset="0.3488" stop-color="#65ab8f"/><stop offset="0.3721" stop-color="#65ab8f"/><stop offset="0.3953" stop-color="#65ab8f"/><stop offset="0.4186" stop-color="#65ab8f"/><stop offset="0.4419" stop-color="#62a894"/><stop offset="0.4651" stop-color="#4164d4"/><stop offset="0.4884" stop-color="#6e209b"/><stop offset="0.5116" stop-color="#722097"/><stop offset="0.5349" stop-color="#751f94"/><stop offset="0.5581" stop-color="#781e91"/><stop offset="0.5814" stop-color="#4742ce"/><stop offset="0.6047" stop-color="#4781c6"/><stop offset="0.6279" stop-color="#589ea8"/><stop offset="0.6512" stop-color="#599fa6"/><stop offset="0.6744" stop-color="#599fa6"/><stop offset="0.6977" stop-color="#599fa6"/><stop offset="0.7209" stop-color="#599fa6"/><stop offset="0.7442" stop-color="#4169d3"/><stop offset="0.7674" stop-color="#5231be"/><stop offset="0.7907" stop-color="#6225a8"/><stop offset="0.8140" stop-color="#6423a5"/><stop offset="0.8372" stop-color="#6622a3"/><stop offset="0.8605" stop-color="#4a3aca"/><stop offset="0.8837" stop-color="#415dd5"/><stop offset="0.9070" stop-color="#467cc9"/><stop offset="0.9302" stop-color="#5295b2"/><stop offset="0.9535" stop-color="#5ca2a2"/><stop offset="0.9767" stop-color="#61a796"/><stop offset="1.0000" stop-color="#62a894"/></linearGradient><linearGradient id="dg35" gradientUnits="userSpaceOnUse" x1="0" y1="336.8" x2="0" y2="551.8"><stop offset="0.0000" stop-color="#4154d7"/><stop offset="0.0233" stop-color="#4169d3"/><stop offset="0.0465" stop-color="#5599ad"/><stop offset="0.0698" stop-color="#65ab8f"/><stop offset="0.0930" stop-color="#65ab8f"/><stop offset="0.1163" stop-color="#65ab8f"/><stop offset="0.1395" stop-color="#60a69a"/><stop offset="0.1628" stop-color="#4158d6"/><stop offset="0.1860" stop-color="#493dcb"/><stop offset="0.2093" stop-color="#434ed3"/><stop offset="0.2326" stop-color="#4548d1"/><stop offset="0.2558" stop-color="#582cb6"/><stop offset="0.2791" stop-color="#6224a8"/><stop offset="0.3023" stop-color="#4167d3"/><stop offset="0.3256" stop-color="#65ab8f"/><stop offset="0.3488" stop-color="#65ab8f"/><stop offset="0.3721" stop-color="#65ab8f"/><stop offset="0.3953" stop-color="#65ab8f"/><stop offset="0.4186" stop-color="#65ab8f"/><stop offset="0.4419" stop-color="#62a894"/><stop offset="0.4651" stop-color="#4164d4"/><stop offset="0.4884" stop-color="#6e209b"/><stop offset="0.5116" stop-color="#722097"/><stop offset="0.5349" stop-color="#751f94"/><stop offset="0.5581" stop-color="#781e91"/><stop offset="0.5814" stop-color="#444cd2"/><stop offset="0.6047" stop-color="#4780c6"/><stop offset="0.6279" stop-color="#5599ad"/><stop offset="0.6512" stop-color="#569bab"/><stop offset="0.6744" stop-color="#569bab"/><stop offset="0.6977" stop-color="#569bab"/><stop offset="0.7209" stop-color="#569bab"/><stop offset="0.7442" stop-color="#416ed2"/><stop offset="0.7674" stop-color="#4b38c8"/><stop offset="0.7907" stop-color="#5e28ad"/><stop offset="0.8140" stop-color="#6026aa"/><stop offset="0.8372" stop-color="#6225a8"/><stop offset="0.8605" stop-color="#4b37c8"/><stop offset="0.8837" stop-color="#415ad6"/><stop offset="0.9070" stop-color="#4477cc"/><stop offset="0.9302" stop-color="#4f92b7"/><stop offset="0.9535" stop-color="#589ea8"/><stop offset="0.9767" stop-color="#5fa59b"/><stop offset="1.0000" stop-color="#60a699"/></linearGradient><linearGradient id="dg36" gradientUnits="userSpaceOnUse" x1="0" y1="336.8" x2="0" y2="551.8"><stop offset="0.0000" stop-color="#4154d7"/><stop offset="0.0233" stop-color="#4169d3"/><stop offset="0.0465" stop-color="#5599ad"/><stop offset="0.0698" stop-color="#65ab8f"/><stop offset="0.0930" stop-color="#65ab8f"/><stop offset="0.1163" stop-color="#65ab8f"/><stop offset="0.1395" stop-color="#5fa59a"/><stop offset="0.1628" stop-color="#4158d6"/><stop offset="0.1860" stop-color="#493ecb"/><stop offset="0.2093" stop-color="#434ed3"/><stop offset="0.2326" stop-color="#4549d1"/><stop offset="0.2558" stop-color="#582cb6"/><stop offset="0.2791" stop-color="#6224a8"/><stop offset="0.3023" stop-color="#4167d3"/><stop offset="0.3256" stop-color="#65ab8f"/><stop offset="0.3488" stop-color="#65ab8f"/><stop offset="0.3721" stop-color="#65ab8f"/><stop offset="0.3953" stop-color="#65ab8f"/><stop offset="0.4186" stop-color="#65ab8f"/><stop offset="0.4419" stop-color="#62a894"/><stop offset="0.4651" stop-color="#4164d4"/><stop offset="0.4884" stop-color="#6e209b"/><stop offset="0.5116" stop-color="#722097"/><stop offset="0.5349" stop-color="#751f94"/><stop offset="0.5581" stop-color="#781e91"/><stop offset="0.5814" stop-color="#4155d7"/><stop offset="0.6047" stop-color="#4780c6"/><stop offset="0.6279" stop-color="#5295b3"/><stop offset="0.6512" stop-color="#5397b0"/><stop offset="0.6744" stop-color="#5397b0"/><stop offset="0.6977" stop-color="#5397b0"/><stop offset="0.7209" stop-color="#5397b0"/><stop offset="0.7442" stop-color="#4373cf"/><stop offset="0.7674" stop-color="#483fcc"/><stop offset="0.7907" stop-color="#5b2ab2"/><stop offset="0.8140" stop-color="#5d29af"/><stop offset="0.8372" stop-color="#5e27ad"/><stop offset="0.8605" stop-color="#4f34c2"/><stop offset="0.8837" stop-color="#4157d7"/><stop offset="0.9070" stop-color="#4272cf"/><stop offset="0.9302" stop-color="#4c8ebc"/><stop offset="0.9535" stop-color="#569aac"/><stop offset="0.9767" stop-color="#5ca2a0"/><stop offset="1.0000" stop-color="#5ea49d"/></linearGradient><linearGradient id="dg37" gradientUnits="userSpaceOnUse" x1="0" y1="336.8" x2="0" y2="551.8"><stop offset="0.0000" stop-color="#4154d7"/><stop offset="0.0233" stop-color="#4169d3"/><stop offset="0.0465" stop-color="#5599ad"/><stop offset="0.0698" stop-color="#65ab8f"/><stop offset="0.0930" stop-color="#65ab8f"/><stop offset="0.1163" stop-color="#65ab8f"/><stop offset="0.1395" stop-color="#5fa59b"/><stop offset="0.1628" stop-color="#4157d7"/><stop offset="0.1860" stop-color="#493ecc"/><stop offset="0.2093" stop-color="#434ed4"/><stop offset="0.2326" stop-color="#4549d1"/><stop offset="0.2558" stop-color="#582cb6"/><stop offset="0.2791" stop-color="#6224a8"/><stop offset="0.3023" stop-color="#4167d3"/><stop offset="0.3256" stop-color="#65ab8f"/><stop offset="0.3488" stop-color="#65ab8f"/><stop offset="0.3721" stop-color="#65ab8f"/><stop offset="0.3953" stop-color="#65ab8f"/><stop offset="0.4186" stop-color="#65ab8f"/><stop offset="0.4419" stop-color="#62a894"/><stop offset="0.4651" stop-color="#4164d4"/><stop offset="0.4884" stop-color="#6e209b"/><stop offset="0.5116" stop-color="#722097"/><stop offset="0.5349" stop-color="#751f94"/><stop offset="0.5581" stop-color="#781e91"/><stop offset="0.5814" stop-color="#415bd6"/><stop offset="0.6047" stop-color="#477fc7"/><stop offset="0.6279" stop-color="#4f91b8"/><stop offset="0.6512" stop-color="#5194b4"/><stop offset="0.6744" stop-color="#5194b4"/><stop offset="0.6977" stop-color="#5194b4"/><stop offset="0.7209" stop-color="#5194b4"/><stop offset="0.7442" stop-color="#4478cc"/><stop offset="0.7674" stop-color="#4645cf"/><stop offset="0.7907" stop-color="#582db6"/><stop offset="0.8140" stop-color="#5a2bb4"/><stop offset="0.8372" stop-color="#5b2ab1"/><stop offset="0.8605" stop-color="#5231be"/><stop offset="0.8837" stop-color="#4154d7"/><stop offset="0.9070" stop-color="#416ed2"/><stop offset="0.9302" stop-color="#4a8abf"/><stop offset="0.9535" stop-color="#5497b0"/><stop offset="0.9767" stop-color="#5aa0a4"/><stop offset="1.0000" stop-color="#5ca2a1"/></linearGradient><linearGradient id="dg38" gradientUnits="userSpaceOnUse" x1="0" y1="336.8" x2="0" y2="551.8"><stop offset="0.0000" stop-color="#4154d7"/><stop offset="0.0233" stop-color="#4169d3"/><stop offset="0.0465" stop-color="#5599ad"/><stop offset="0.0698" stop-color="#65ab8f"/><stop offset="0.0930" stop-color="#65ab8f"/><stop offset="0.1163" stop-color="#65ab8f"/><stop offset="0.1395" stop-color="#5fa59b"/><stop offset="0.1628" stop-color="#4157d7"/><stop offset="0.1860" stop-color="#483fcc"/><stop offset="0.2093" stop-color="#434ed4"/><stop offset="0.2326" stop-color="#4549d1"/><stop offset="0.2558" stop-color="#582cb6"/><stop offset="0.2791" stop-color="#6224a8"/><stop offset="0.3023" stop-color="#4167d3"/><stop offset="0.3256" stop-color="#65ab8f"/><stop offset="0.3488" stop-color="#65ab8f"/><stop offset="0.3721" stop-color="#65ab8f"/><stop offset="0.3953" stop-color="#65ab8f"/><stop offset="0.4186" stop-color="#65ab8f"/><stop offset="0.4419" stop-color="#62a894"/><stop offset="0.4651" stop-color="#4164d4"/><stop offset="0.4884" stop-color="#6e209b"/><stop offset="0.5116" stop-color="#722097"/><stop offset="0.5349" stop-color="#751f94"/><stop offset="0.5581" stop-color="#781e91"/><stop offset="0.5814" stop-color="#4160d5"/><stop offset="0.6047" stop-color="#477fc7"/><stop offset="0.6279" stop-color="#4d8ebb"/><stop offset="0.6512" stop-color="#4f91b8"/><stop offset="0.6744" stop-color="#4f91b8"/><stop offset="0.6977" stop-color="#4f91b8"/><stop offset="0.7209" stop-color="#4f91b8"/><stop offset="0.7442" stop-color="#457bc9"/><stop offset="0.7674" stop-color="#4549d1"/><stop offset="0.7907" stop-color="#552fba"/><stop offset="0.8140" stop-color="#572db7"/><stop offset="0.8372" stop-color="#592cb5"/><stop offset="0.8605" stop-color="#552fba"/><stop offset="0.8837" stop-color="#4252d5"/><stop offset="0.9070" stop-color="#416bd3"/><stop offset="0.9302" stop-color="#4986c2"/><stop offset="0.9535" stop-color="#5295b3"/><stop offset="0.9767" stop-color="#599fa7"/><stop offset="1.0000" stop-color="#5ba1a3"/></linearGradient><linearGradient id="dg39" gradientUnits="userSpaceOnUse" x1="0" y1="336.8" x2="0" y2="551.8"><stop offset="0.0000" stop-color="#4154d7"/><stop offset="0.0233" stop-color="#4169d3"/><stop offset="0.0465" stop-color="#5599ad"/><stop offset="0.0698" stop-color="#65ab8f"/><stop offset="0.0930" stop-color="#65ab8f"/><stop offset="0.1163" stop-color="#65ab8f"/><stop offset="0.1395" stop-color="#5fa59c"/><stop offset="0.1628" stop-color="#4157d7"/><stop offset="0.1860" stop-color="#483fcc"/><stop offset="0.2093" stop-color="#434ed4"/><stop offset="0.2326" stop-color="#4549d1"/><stop offset="0.2558" stop-color="#582cb6"/><stop offset="0.2791" stop-color="#6224a8"/><stop offset="0.3023" stop-color="#4167d3"/><stop offset="0.3256" stop-color="#65ab8f"/><stop offset="0.3488" stop-color="#65ab8f"/><stop offset="0.3721" stop-color="#65ab8f"/><stop offset="0.3953" stop-color="#65ab8f"/><stop offset="0.4186" stop-color="#65ab8f"/><stop offset="0.4419" stop-color="#62a894"/><stop offset="0.4651" stop-color="#4164d4"/><stop offset="0.4884" stop-color="#6e209b"/><stop offset="0.5116" stop-color="#722097"/><stop offset="0.5349" stop-color="#751f94"/><stop offset="0.5581" stop-color="#781e91"/><stop offset="0.5814" stop-color="#4162d4"/><stop offset="0.6047" stop-color="#477fc7"/><stop offset="0.6279" stop-color="#4b8dbd"/><stop offset="0.6512" stop-color="#4e90ba"/><stop offset="0.6744" stop-color="#4e90ba"/><stop offset="0.6977" stop-color="#4e90ba"/><stop offset="0.7209" stop-color="#4e90ba"/><stop offset="0.7442" stop-color="#467dc8"/><stop offset="0.7674" stop-color="#444cd2"/><stop offset="0.7907" stop-color="#5430bb"/><stop offset="0.8140" stop-color="#562eb9"/><stop offset="0.8372" stop-color="#582db6"/><stop offset="0.8605" stop-color="#562eb8"/><stop offset="0.8837" stop-color="#4251d5"/><stop offset="0.9070" stop-color="#416ad3"/><stop offset="0.9302" stop-color="#4884c3"/><stop offset="0.9535" stop-color="#5194b4"/><stop offset="0.9767" stop-color="#589ea8"/><stop offset="1.0000" stop-color="#5aa0a5"/></linearGradient><linearGradient id="dg40" gradientUnits="userSpaceOnUse" x1="0" y1="336.8" x2="0" y2="551.8"><stop offset="0.0000" stop-color="#4154d7"/><stop offset="0.0233" stop-color="#4169d3"/><stop offset="0.0465" stop-color="#5599ad"/><stop offset="0.0698" stop-color="#65ab8f"/><stop offset="0.0930" stop-color="#65ab8f"/><stop offset="0.1163" stop-color="#65ab8f"/><stop offset="0.1395" stop-color="#5ea49c"/><stop offset="0.1628" stop-color="#4157d7"/><stop offset="0.1860" stop-color="#4840cc"/><stop offset="0.2093" stop-color="#434ed4"/><stop offset="0.2326" stop-color="#4549d1"/><stop offset="0.2558" stop-color="#582cb6"/><stop offset="0.2791" stop-color="#6224a8"/><stop offset="0.3023" stop-color="#4167d3"/><stop offset="0.3256" stop-color="#65ab8f"/><stop offset="0.3488" stop-color="#65ab8f"/><stop offset="0.3721" stop-color="#65ab8f"/><stop offset="0.3953" stop-color="#65ab8f"/><stop offset="0.4186" stop-color="#65ab8f"/><stop offset="0.4419" stop-color="#62a894"/><stop offset="0.4651" stop-color="#4164d4"/><stop offset="0.4884" stop-color="#6e209b"/><stop offset="0.5116" stop-color="#722097"/><stop offset="0.5349" stop-color="#751f94"/><stop offset="0.5581" stop-color="#781e91"/><stop offset="0.5814" stop-color="#4163d4"/><stop offset="0.6047" stop-color="#477fc7"/><stop offset="0.6279" stop-color="#4b8cbe"/><stop offset="0.6512" stop-color="#4e8fba"/><stop offset="0.6744" stop-color="#4e8fba"/><stop offset="0.6977" stop-color="#4e8fba"/><stop offset="0.7209" stop-color="#4e8fba"/><stop offset="0.7442" stop-color="#467ec8"/><stop offset="0.7674" stop-color="#444cd3"/><stop offset="0.7907" stop-color="#5430bc"/><stop offset="0.8140" stop-color="#562fb9"/><stop offset="0.8372" stop-color="#572db7"/><stop offset="0.8605" stop-color="#572eb8"/><stop offset="0.8837" stop-color="#4350d5"/><stop offset="0.9070" stop-color="#416ad3"/><stop offset="0.9302" stop-color="#4883c4"/><stop offset="0.9535" stop-color="#5194b4"/><stop offset="0.9767" stop-color="#589ea8"/><stop offset="1.0000" stop-color="#5aa0a5"/></linearGradient><linearGradient id="dg41" gradientUnits="userSpaceOnUse" x1="0" y1="336.8" x2="0" y2="551.8"><stop offset="0.0000" stop-color="#4154d7"/><stop offset="0.0233" stop-color="#4169d3"/><stop offset="0.0465" stop-color="#5599ad"/><stop offset="0.0698" stop-color="#65ab8f"/><stop offset="0.0930" stop-color="#65ab8f"/><stop offset="0.1163" stop-color="#65ab8f"/><stop offset="0.1395" stop-color="#5ea49c"/><stop offset="0.1628" stop-color="#4157d7"/><stop offset="0.1860" stop-color="#4840cc"/><stop offset="0.2093" stop-color="#434ed4"/><stop offset="0.2326" stop-color="#4549d1"/><stop offset="0.2558" stop-color="#582cb6"/><stop offset="0.2791" stop-color="#6224a8"/><stop offset="0.3023" stop-color="#4167d3"/><stop offset="0.3256" stop-color="#65ab8f"/><stop offset="0.3488" stop-color="#65ab8f"/><stop offset="0.3721" stop-color="#65ab8f"/><stop offset="0.3953" stop-color="#65ab8f"/><stop offset="0.4186" stop-color="#65ab8f"/><stop offset="0.4419" stop-color="#62a894"/><stop offset="0.4651" stop-color="#4164d4"/><stop offset="0.4884" stop-color="#6e209b"/><stop offset="0.5116" stop-color="#722097"/><stop offset="0.5349" stop-color="#751f94"/><stop offset="0.5581" stop-color="#781e91"/><stop offset="0.5814" stop-color="#4163d4"/><stop offset="0.6047" stop-color="#477fc7"/><stop offset="0.6279" stop-color="#4b8cbe"/><stop offset="0.6512" stop-color="#4e8fba"/><stop offset="0.6744" stop-color="#4e8fba"/><stop offset="0.6977" stop-color="#4e8fba"/><stop offset="0.7209" stop-color="#4e8fba"/><stop offset="0.7442" stop-color="#467ec8"/><stop offset="0.7674" stop-color="#444cd3"/><stop offset="0.7907" stop-color="#5430bc"/><stop offset="0.8140" stop-color="#562fb9"/><stop offset="0.8372" stop-color="#572db7"/><stop offset="0.8605" stop-color="#572eb8"/><stop offset="0.8837" stop-color="#4350d5"/><stop offset="0.9070" stop-color="#416ad3"/><stop offset="0.9302" stop-color="#4883c4"/><stop offset="0.9535" stop-color="#5194b4"/><stop offset="0.9767" stop-color="#589ea8"/><stop offset="1.0000" stop-color="#5aa0a5"/></linearGradient><filter id="dblur" x="-5%" y="-5%" width="110%" height="110%"><feGaussianBlur stdDeviation="3.2 0.6"/></filter><clipPath id="dclip"><rect x="26.9" y="337.8" width="214.0" height="213.0"/></clipPath></defs>
<g clip-path="url(#dclip)"><g filter="url(#dblur)"><rect x="21.25" y="336.8" width="5.95" height="215.0" fill="url(#dg0)"/><rect x="26.60" y="336.8" width="5.95" height="215.0" fill="url(#dg1)"/><rect x="31.95" y="336.8" width="5.95" height="215.0" fill="url(#dg2)"/><rect x="37.30" y="336.8" width="5.95" height="215.0" fill="url(#dg3)"/><rect x="42.65" y="336.8" width="5.95" height="215.0" fill="url(#dg4)"/><rect x="48.00" y="336.8" width="5.95" height="215.0" fill="url(#dg5)"/><rect x="53.35" y="336.8" width="5.95" height="215.0" fill="url(#dg6)"/><rect x="58.70" y="336.8" width="5.95" height="215.0" fill="url(#dg7)"/><rect x="64.05" y="336.8" width="5.95" height="215.0" fill="url(#dg8)"/><rect x="69.40" y="336.8" width="5.95" height="215.0" fill="url(#dg9)"/><rect x="74.75" y="336.8" width="5.95" height="215.0" fill="url(#dg10)"/><rect x="80.10" y="336.8" width="5.95" height="215.0" fill="url(#dg11)"/><rect x="85.45" y="336.8" width="5.95" height="215.0" fill="url(#dg12)"/><rect x="90.80" y="336.8" width="5.95" height="215.0" fill="url(#dg13)"/><rect x="96.15" y="336.8" width="5.95" height="215.0" fill="url(#dg14)"/><rect x="101.50" y="336.8" width="5.95" height="215.0" fill="url(#dg15)"/><rect x="106.85" y="336.8" width="5.95" height="215.0" fill="url(#dg16)"/><rect x="112.20" y="336.8" width="5.95" height="215.0" fill="url(#dg17)"/><rect x="117.55" y="336.8" width="5.95" height="215.0" fill="url(#dg18)"/><rect x="122.90" y="336.8" width="5.95" height="215.0" fill="url(#dg19)"/><rect x="128.25" y="336.8" width="5.95" height="215.0" fill="url(#dg20)"/><rect x="133.60" y="336.8" width="5.95" height="215.0" fill="url(#dg21)"/><rect x="138.95" y="336.8" width="5.95" height="215.0" fill="url(#dg22)"/><rect x="144.30" y="336.8" width="5.95" height="215.0" fill="url(#dg23)"/><rect x="149.65" y="336.8" width="5.95" height="215.0" fill="url(#dg24)"/><rect x="155.00" y="336.8" width="5.95" height="215.0" fill="url(#dg25)"/><rect x="160.35" y="336.8" width="5.95" height="215.0" fill="url(#dg26)"/><rect x="165.70" y="336.8" width="5.95" height="215.0" fill="url(#dg27)"/><rect x="171.05" y="336.8" width="5.95" height="215.0" fill="url(#dg28)"/><rect x="176.40" y="336.8" width="5.95" height="215.0" fill="url(#dg29)"/><rect x="181.75" y="336.8" width="5.95" height="215.0" fill="url(#dg30)"/><rect x="187.10" y="336.8" width="5.95" height="215.0" fill="url(#dg31)"/><rect x="192.45" y="336.8" width="5.95" height="215.0" fill="url(#dg32)"/><rect x="197.80" y="336.8" width="5.95" height="215.0" fill="url(#dg33)"/><rect x="203.15" y="336.8" width="5.95" height="215.0" fill="url(#dg34)"/><rect x="208.50" y="336.8" width="5.95" height="215.0" fill="url(#dg35)"/><rect x="213.85" y="336.8" width="5.95" height="215.0" fill="url(#dg36)"/><rect x="219.20" y="336.8" width="5.95" height="215.0" fill="url(#dg37)"/><rect x="224.55" y="336.8" width="5.95" height="215.0" fill="url(#dg38)"/><rect x="229.90" y="336.8" width="5.95" height="215.0" fill="url(#dg39)"/><rect x="235.25" y="336.8" width="5.95" height="215.0" fill="url(#dg40)"/><rect x="240.60" y="336.8" width="5.95" height="215.0" fill="url(#dg41)"/></g></g>
<g clip-path="url(#dclip)"><path d="M112.0 391.1l3 3.5l3 -3.5zM121.3 391.0l3 3.5l3 -3.5zM130.6 390.9l3 3.5l3 -3.5zM139.9 390.8l3 3.5l3 -3.5zM149.2 390.7l3 3.5l3 -3.5zM158.5 390.6l3 3.5l3 -3.5zM167.8 390.5l3 3.5l3 -3.5zM177.1 390.4l3 3.5l3 -3.5zM186.4 390.3l3 3.5l3 -3.5zM195.7 390.3l3 3.5l3 -3.5zM205.0 390.2l3 3.5l3 -3.5zM214.3 390.1l3 3.5l3 -3.5zM223.6 390.0l3 3.5l3 -3.5zM232.9 389.9l3 3.5l3 -3.5z" fill="#6a2aa0" opacity="0.8"/><polygon points="95.5,383.6 105.0,381.6 120.0,380.6 241.5,378.4 241.5,388.6 120.0,389.8 105.0,390.6 95.5,391.8 93.0,389.5 93.0,386.0" fill="#fff" stroke="#d8352a" stroke-width="1.4" stroke-linejoin="round"/><polygon points="186.5,444.0 195.0,443.2 241.5,442.6 241.5,450.0 200.0,450.4 190.0,452.0 186.0,452.4 184.2,450.0 184.2,446.5" fill="#fff" stroke="#d8352a" stroke-width="1.4" stroke-linejoin="round"/><path d="M97.7 382.8l4.6 0l-2.3 3.4zM107.0 382.5l4.6 0l-2.3 3.4zM116.3 382.2l4.6 0l-2.3 3.4zM125.6 381.8l4.6 0l-2.3 3.4zM134.9 381.5l4.6 0l-2.3 3.4zM144.2 381.2l4.6 0l-2.3 3.4zM153.5 380.9l4.6 0l-2.3 3.4zM162.8 380.5l4.6 0l-2.3 3.4zM172.1 380.2l4.6 0l-2.3 3.4zM181.4 379.9l4.6 0l-2.3 3.4zM190.7 379.5l4.6 0l-2.3 3.4zM200.0 379.2l4.6 0l-2.3 3.4zM209.3 378.9l4.6 0l-2.3 3.4zM218.6 378.5l4.6 0l-2.3 3.4zM227.9 378.2l4.6 0l-2.3 3.4zM237.2 377.9l4.6 0l-2.3 3.4zM189.8 443.3l4.4 0l-2.2 3.2zM199.1 443.0l4.4 0l-2.2 3.2zM208.4 442.8l4.4 0l-2.2 3.2zM217.7 442.5l4.4 0l-2.2 3.2zM227.0 442.3l4.4 0l-2.2 3.2zM236.3 442.1l4.4 0l-2.2 3.2z" fill="#5a2aa8" stroke="#d8352a" stroke-width="0.8"/></g>
<rect x="22.8" y="332.7" width="222.4" height="222.7" fill="none" stroke="#a8a8a8" stroke-width="1"/>
<path d="M26.9 555.4v-4.0M26.9 332.7v4.0M22.8 550.8h4.0M245.2 550.8h-4.0M37.6 555.4v-2.2M37.6 332.7v2.2M22.8 540.1h2.2M245.2 540.1h-2.2M48.3 555.4v-2.2M48.3 332.7v2.2M22.8 529.5h2.2M245.2 529.5h-2.2M59.0 555.4v-2.2M59.0 332.7v2.2M22.8 518.8h2.2M245.2 518.8h-2.2M69.7 555.4v-2.2M69.7 332.7v2.2M22.8 508.2h2.2M245.2 508.2h-2.2M80.4 555.4v-4.0M80.4 332.7v4.0M22.8 497.5h4.0M245.2 497.5h-4.0M91.1 555.4v-2.2M91.1 332.7v2.2M22.8 486.9h2.2M245.2 486.9h-2.2M101.8 555.4v-2.2M101.8 332.7v2.2M22.8 476.2h2.2M245.2 476.2h-2.2M112.5 555.4v-2.2M112.5 332.7v2.2M22.8 465.6h2.2M245.2 465.6h-2.2M123.2 555.4v-2.2M123.2 332.7v2.2M22.8 454.9h2.2M245.2 454.9h-2.2M133.9 555.4v-4.0M133.9 332.7v4.0M22.8 444.3h4.0M245.2 444.3h-4.0M144.6 555.4v-2.2M144.6 332.7v2.2M22.8 433.6h2.2M245.2 433.6h-2.2M155.3 555.4v-2.2M155.3 332.7v2.2M22.8 423.0h2.2M245.2 423.0h-2.2M166.0 555.4v-2.2M166.0 332.7v2.2M22.8 412.4h2.2M245.2 412.4h-2.2M176.7 555.4v-2.2M176.7 332.7v2.2M22.8 401.7h2.2M245.2 401.7h-2.2M187.4 555.4v-4.0M187.4 332.7v4.0M22.8 391.1h4.0M245.2 391.1h-4.0M198.1 555.4v-2.2M198.1 332.7v2.2M22.8 380.4h2.2M245.2 380.4h-2.2M208.8 555.4v-2.2M208.8 332.7v2.2M22.8 369.8h2.2M245.2 369.8h-2.2M219.5 555.4v-2.2M219.5 332.7v2.2M22.8 359.1h2.2M245.2 359.1h-2.2M230.2 555.4v-2.2M230.2 332.7v2.2M22.8 348.5h2.2M245.2 348.5h-2.2M240.9 555.4v-4.0M240.9 332.7v4.0M22.8 337.8h4.0M245.2 337.8h-4.0" stroke="#8a8a8a" stroke-width="0.8" fill="none"/>
<g font-size="16.5" text-anchor="middle"><text x="26.9" y="572.9">−2</text><text x="20.2" y="556.6" style="text-anchor:end">−2</text><text x="80.4" y="572.9">−1</text><text x="20.2" y="503.3" style="text-anchor:end">−1</text><text x="133.9" y="572.9">0</text><text x="20.2" y="450.1" style="text-anchor:end">0</text><text x="187.4" y="572.9">1</text><text x="20.2" y="396.9" style="text-anchor:end">1</text><text x="240.9" y="572.9">2</text><text x="20.2" y="343.6" style="text-anchor:end">2</text></g>
<defs><linearGradient id="dcb" x1="0" y1="0" x2="0" y2="1"><stop offset="0.000" stop-color="#d7322d"/><stop offset="0.050" stop-color="#da452d"/><stop offset="0.100" stop-color="#dd5b30"/><stop offset="0.150" stop-color="#e17837"/><stop offset="0.200" stop-color="#de8b3a"/><stop offset="0.250" stop-color="#d89d3d"/><stop offset="0.300" stop-color="#cdaf41"/><stop offset="0.350" stop-color="#bbb648"/><stop offset="0.400" stop-color="#a8bb51"/><stop offset="0.450" stop-color="#93be5c"/><stop offset="0.500" stop-color="#77b870"/><stop offset="0.550" stop-color="#6db280"/><stop offset="0.600" stop-color="#61a797"/><stop offset="0.650" stop-color="#5599ad"/><stop offset="0.700" stop-color="#4b8cbe"/><stop offset="0.750" stop-color="#4477cc"/><stop offset="0.800" stop-color="#4164d4"/><stop offset="0.850" stop-color="#4253d6"/><stop offset="0.900" stop-color="#493ecc"/><stop offset="0.950" stop-color="#5b2ab1"/><stop offset="1.000" stop-color="#781e91"/></linearGradient></defs>
<rect x="255.7" y="378.8" width="9.7" height="137.6" fill="url(#dcb)"/>
<path d="M265.4 386.3h3M265.4 421.8h3M265.4 457.4h3M265.4 492.9h3" stroke="#555" stroke-width="0.8"/>
<g font-size="16.5"><text x="270.2" y="392.2">1.32</text><text x="270.2" y="427.7">1.31</text><text x="270.2" y="463.3">1.30</text><text x="270.2" y="498.8">1.29</text></g>
<style>#s3 path{stroke-width:1.6;stroke-linejoin:round}#s3 .c0{fill:#6d0808;stroke:#6d0808}#s3 .c1{fill:#070707;stroke:#070707}#s3 .c2{fill:#5e0707;stroke:#5e0707}#s3 .c3{fill:#060606;stroke:#060606}#s3 .c4{fill:#ae0e0e;stroke:#ae0e0e}#s3 .c5{fill:#0a0a0a;stroke:#0a0a0a}#s3 .c6{fill:#17d217;stroke:#17d217}#s3 .c7{fill:#ded217;stroke:#ded217}#s3 .c8{fill:#d6cb16;stroke:#d6cb16}#s3 .c9{fill:#16cb16;stroke:#16cb16}#s3 .c10{fill:#cfc415;stroke:#cfc415}#s3 .c11{fill:#15c415;stroke:#15c415}#s3 .c12{fill:#c7bc14;stroke:#c7bc14}#s3 .c13{fill:#bfb514;stroke:#bfb514}#s3 .c14{fill:#b8ae13;stroke:#b8ae13}#s3 .c15{fill:#13ae13;stroke:#13ae13}#s3 .c16{fill:#12a712;stroke:#12a712}#s3 .c17{fill:#14b514;stroke:#14b514}#s3 .c18{fill:#14bc14;stroke:#14bc14}#s3 .c19{fill:#827b0d;stroke:#827b0d}#s3 .c20{fill:#7a740c;stroke:#7a740c}#s3 .c21{fill:#0c6d0c;stroke:#0c6d0c}#s3 .c22{fill:#0c740c;stroke:#0c740c}#s3 .c23{fill:#11a011;stroke:#11a011}#s3 .c24{fill:#e11111;stroke:#e11111}#s3 .c25{fill:#0e0e0e;stroke:#0e0e0e}#s3 .c26{fill:#da1111;stroke:#da1111}#s3 .c27{fill:#0d0d0d;stroke:#0d0d0d}#s3 .c28{fill:#0c0c0c;stroke:#0c0c0c}#s3 .c29{fill:#0b0b0b;stroke:#0b0b0b}#s3 .c30{fill:#070707;stroke:#070707}#s3 .c31{fill:#740909;stroke:#740909}#s3 .c32{fill:#a70d0d;stroke:#a70d0d}#s3 .c33{fill:#a00c0c;stroke:#a00c0c}#s3 .c34{fill:#b50e0e;stroke:#b50e0e}#s3 .c35{fill:#0e0e0e;stroke:#0e0e0e}#s3 .c36{fill:#cb1010;stroke:#cb1010}#s3 .c37{fill:#0c0c0c;stroke:#0c0c0c}#s3 .c38{fill:#d21010;stroke:#d21010}#s3 .c39{fill:#0b0b0b;stroke:#0b0b0b}#s3 .c40{fill:#0a0a0a;stroke:#0a0a0a}#s3 .c41{fill:#070707;stroke:#070707}#s3 .c42{fill:#820a0a;stroke:#820a0a}#s3 .c43{fill:#980c0c;stroke:#980c0c}#s3 .c44{fill:#0d0d0d;stroke:#0d0d0d}#s3 .c45{fill:#18e118;stroke:#18e118}#s3 .c46{fill:#e6da17;stroke:#e6da17}#s3 .c47{fill:#109810;stroke:#109810}#s3 .c48{fill:#c40f0f;stroke:#c40f0f}#s3 .c49{fill:#bc0f0f;stroke:#bc0f0f}#s3 .c50{fill:#0b660b;stroke:#0b660b}#s3 .c51{fill:#0a5e0a;stroke:#0a5e0a}#s3 .c52{fill:#910b0b;stroke:#910b0b}#s3 .c53{fill:#645e0a;stroke:#645e0a}#s3 .c54{fill:#060606;stroke:#060606}#s3 .c55{fill:#084808;stroke:#084808}#s3 .c56{fill:#570707;stroke:#570707}#s3 .c57{fill:#095709;stroke:#095709}#s3 .c58{fill:#660808;stroke:#660808}#s3 .c59{fill:#a8a011;stroke:#a8a011}#s3 .c60{fill:#ede118;stroke:#ede118}#s3 .c61{fill:#17da17;stroke:#17da17}#s3 .c62{fill:#095009;stroke:#095009}#s3 .c63{fill:#918a0f;stroke:#918a0f}#s3 .c64{fill:#f5e819;stroke:#f5e819}#s3 .c65{fill:#19e819;stroke:#19e819}#s3 .c66{fill:#109110;stroke:#109110}#s3 .c67{fill:#999110;stroke:#999110}#s3 .c68{fill:#d0d0d0;stroke:#d0d0d0}#s3 .c69{fill:#a19810;stroke:#a19810}#s3 .c70{fill:#0a0a0a;stroke:#0a0a0a}#s3 .c71{fill:#e81212;stroke:#e81212}#s3 .c72{fill:#090909;stroke:#090909}#s3 .c73{fill:#6b660b;stroke:#6b660b}#s3 .c74{fill:#736d0c;stroke:#736d0c}#s3 .c75{fill:#0d7b0d;stroke:#0d7b0d}#s3 .c76{fill:#8a820e;stroke:#8a820e}#s3 .c77{fill:#545009;stroke:#545009}#s3 .c78{fill:#b0a712;stroke:#b0a712}#s3 .c79{fill:#080808;stroke:#080808}#s3 .c80{fill:#7b0a0a;stroke:#7b0a0a}#s3 .c81{fill:#080808;stroke:#080808}#s3 .c82{fill:#090909;stroke:#090909}#s3 .c83{fill:#8a0b0b;stroke:#8a0b0b}#s3 .c84{fill:#020202;stroke:#020202}#s3 .c85{fill:#0e820e;stroke:#0e820e}#s3 .c86{fill:#0f8a0f;stroke:#0f8a0f}#s3 .m{stroke:#1e1e1e;stroke-width:2.2;stroke-opacity:0.75;fill:none}</style><style>.gd{stroke:#707070;stroke-width:1.05;stroke-dasharray:1.2 1.5;fill:none}</style><path d="M99.9 203.6L186.8 113.1M89.5 164.0L244.8 221.9M139.0 219.2L220.5 123.6M113.4 141.6L262.7 193.8M180.5 235.8L255.9 134.6M135.0 121.4L278.6 168.7M89.5 164.0L75.5 57.7M113.4 141.6L103.1 38.6M135.0 121.4L127.8 21.6M154.7 103.1L149.9 6.4M59.0 165.8L153.7 82.4M54.6 139.5L152.5 59.0M49.8 111.4L151.3 34.3M44.7 81.4L150.0 8.3M44.4 79.1L149.9 6.4M154.7 103.1L149.9 6.4M186.8 113.1L185.6 15.0M220.5 123.6L223.2 24.1M255.9 134.6L262.7 33.7M293.0 146.2L304.6 43.8M153.7 82.4L295.4 124.5M152.5 59.0L298.2 99.8M151.3 34.3L301.2 73.6M150.0 8.3L304.3 45.9M149.9 6.4L304.6 43.8M154.7 103.1L293.0 146.2M62.9 188.8L154.7 103.1" class="gd"/><g id="s3" transform="scale(0.25)"><path class="c0" d="M608 303l33 7l5 8l-32 -8zM674 318l33 8l5 7l-33 -7zM741 334l35 8l4 8l-34 -9zM810 350l36 9l4 7l-35 -8zM881 367l37 9l3 7l-36 -9zM954 384l38 9l3 7l-37 -8zM1029 402l38 9l3 7l-38 -9zM1106 420l40 9l2 8l-39 -10z"/><path class="c1" d="M641 310l33 8l5 8l-33 -8zM707 326l34 8l5 7l-34 -8zM776 342l34 8l5 8l-35 -8zM846 359l35 8l4 7l-35 -8zM918 376l36 8l4 8l-37 -9zM992 393l37 9l3 7l-37 -9zM1067 411l39 9l3 7l-39 -9zM1146 429l40 10l2 7l-40 -9z"/><path class="m" d="M641 310l5 8M646 318l-32 -8M614 310l-6 -7M674 318l5 8M679 326l-33 -8M646 318l-5 -8M707 326l5 7M712 333l-33 -7M679 326l-5 -8M741 334l5 7M746 341l-34 -8M712 333l-5 -7M776 342l4 8M780 350l-34 -9M746 341l-5 -7M810 350l5 8M815 358l-35 -8M780 350l-4 -8M846 359l4 7M850 366l-35 -8M815 358l-5 -8M881 367l4 7M885 374l-35 -8M850 366l-4 -7M918 376l3 7M921 383l-36 -9M885 374l-4 -7M954 384l4 8M958 392l-37 -9M921 383l-3 -7M992 393l3 7M995 400l-37 -8M958 392l-4 -8M1029 402l3 7M1032 409l-37 -9M995 400l-3 -7M1067 411l3 7M1070 418l-38 -9M1032 409l-3 -7M1106 420l3 7M1109 427l-39 -9M1070 418l-3 -7M1146 429l2 8M1148 437l-39 -10M1109 427l-3 -7M1186 439l2 7M1188 446l-40 -9M1148 437l-2 -8"/><path class="c2" d="M602 282l33 8l6 20l-33 -7zM668 298l34 7l5 21l-33 -8zM736 313l35 8l5 21l-35 -8zM806 330l36 8l4 21l-36 -9zM878 346l36 9l4 21l-37 -9zM951 363l38 9l3 21l-38 -9zM1027 381l39 9l1 21l-38 -9zM1105 399l40 9l1 21l-40 -9z"/><path class="c3" d="M635 290l33 8l6 20l-33 -8zM702 305l34 8l5 21l-34 -8zM771 321l35 9l4 20l-34 -8zM842 338l36 8l3 21l-35 -8zM914 355l37 8l3 21l-36 -8zM989 372l38 9l2 21l-37 -9zM1066 390l39 9l1 21l-39 -9zM1145 408l40 9l1 22l-40 -10z"/><path class="m" d="M635 290l6 20M608 303l-6 -21M668 298l6 20M641 310l-6 -20M702 305l5 21M674 318l-6 -20M736 313l5 21M707 326l-5 -21M771 321l5 21M741 334l-5 -21M806 330l4 20M776 342l-5 -21M842 338l4 21M810 350l-4 -20M878 346l3 21M846 359l-4 -21M914 355l4 21M881 367l-3 -21M951 363l3 21M918 376l-4 -21M989 372l3 21M954 384l-3 -21M1027 381l2 21M992 393l-3 -21M1066 390l1 21M1029 402l-2 -21M1105 399l1 21M1067 411l-1 -21M1145 408l1 21M1106 420l-1 -21M1185 417l1 22M1146 429l-1 -21"/><path class="c0" d="M596 273l33 8l6 9l-33 -8zM663 288l34 8l5 9l-34 -7zM731 304l35 8l5 9l-35 -8zM802 320l35 8l5 10l-36 -8zM874 337l36 8l4 10l-36 -9zM948 354l38 9l3 9l-38 -9zM1024 371l39 9l3 10l-39 -9zM1102 389l40 10l3 9l-40 -9z"/><path class="c1" d="M629 281l34 7l5 10l-33 -8zM697 296l34 8l5 9l-34 -8zM766 312l36 8l4 10l-35 -9zM837 328l37 9l4 9l-36 -8zM910 345l38 9l3 9l-37 -8zM986 363l38 8l3 10l-38 -9zM1063 380l39 9l3 10l-39 -9zM1142 399l41 9l2 9l-40 -9z"/><path class="m" d="M629 281l6 9M602 282l-6 -9M663 288l5 10M635 290l-6 -9M697 296l5 9M668 298l-5 -10M731 304l5 9M702 305l-5 -9M766 312l5 9M736 313l-5 -9M802 320l4 10M771 321l-5 -9M837 328l5 10M806 330l-4 -10M874 337l4 9M842 338l-5 -10M910 345l4 10M878 346l-4 -9M948 354l3 9M914 355l-4 -10M986 363l3 9M951 363l-3 -9M1024 371l3 10M989 372l-3 -9M1063 380l3 10M1027 381l-3 -10M1102 389l3 10M1066 390l-3 -10M1142 399l3 9M1105 399l-3 -10M1183 408l2 9M1145 408l-3 -9"/><path class="c4" d="M591 272l33 8l5 1l-33 -8zM658 288l34 8l5 0l-34 -8zM727 303l34 9l5 0l-35 -8zM797 320l36 8l4 0l-35 -8zM869 336l37 9l4 0l-36 -8zM944 354l38 8l4 1l-38 -9zM1020 371l39 9l4 0l-39 -9zM1099 389l40 10l3 0l-40 -10z"/><path class="c5" d="M624 280l34 8l5 0l-34 -7zM692 296l35 7l4 1l-34 -8zM761 312l36 8l5 0l-36 -8zM833 328l36 8l5 1l-37 -9zM906 345l38 9l4 0l-38 -9zM982 362l38 9l4 0l-38 -8zM1059 380l40 9l3 0l-39 -9zM1139 399l41 9l3 0l-41 -9z"/><path class="m" d="M591 272l33 8M624 280l5 1M596 273l-5 -1M624 280l34 8M658 288l5 0M629 281l-5 -1M658 288l34 8M692 296l5 0M663 288l-5 0M692 296l35 7M727 303l4 1M697 296l-5 0M727 303l34 9M761 312l5 0M731 304l-4 -1M761 312l36 8M797 320l5 0M766 312l-5 0M797 320l36 8M833 328l4 0M802 320l-5 0M833 328l36 8M869 336l5 1M837 328l-4 0M869 336l37 9M906 345l4 0M874 337l-5 -1M906 345l38 9M944 354l4 0M910 345l-4 0M944 354l38 8M982 362l4 1M948 354l-4 0M982 362l38 9M1020 371l4 0M986 363l-4 -1M1020 371l39 9M1059 380l4 0M1024 371l-4 0M1059 380l40 9M1099 389l3 0M1063 380l-4 0M1099 389l40 10M1139 399l3 0M1102 389l-3 0M1139 399l41 9M1180 408l3 0M1142 399l-3 0"/><path class="c6" d="M586 277l33 7l5 -4l-33 -8zM653 292l34 8l5 -4l-34 -8zM751 314l6 2l4 -4l-5 -2zM792 324l36 9l5 -5l-36 -8zM865 341l37 9l4 -5l-37 -9zM939 358l39 9l4 -5l-38 -8zM1016 376l39 9l4 -5l-39 -9zM1095 394l40 10l4 -5l-40 -10z"/><path class="c7" d="M619 284l34 8l5 -4l-34 -8zM687 300l9 2l5 -5l-9 -1zM757 316l35 8l5 -4l-36 -8zM828 333l37 8l4 -5l-36 -8zM902 350l37 8l5 -4l-38 -9zM978 367l38 9l4 -5l-38 -9zM1055 385l40 9l4 -5l-40 -9zM1135 404l41 9l4 -5l-41 -9z"/><path class="c8" d="M696 302l26 5l5 -4l-26 -6z"/><path class="c9" d="M722 307l29 7l5 -4l-29 -7z"/><path class="m" d="M619 284l5 -4M624 280l-33 -8M591 272l-5 5M653 292l5 -4M658 288l-34 -8M624 280l-5 4M687 300l5 -4M692 296l-34 -8M658 288l-5 4M701 297l-9 -1M692 296l-5 4M722 307l5 -4M727 303l-26 -6M756 310l-29 -7M727 303l-5 4M757 316l4 -4M761 312l-5 -2M792 324l5 -4M797 320l-36 -8M761 312l-4 4M828 333l5 -5M833 328l-36 -8M797 320l-5 4M865 341l4 -5M869 336l-36 -8M833 328l-5 5M902 350l4 -5M906 345l-37 -9M869 336l-4 5M939 358l5 -4M944 354l-38 -9M906 345l-4 5M978 367l4 -5M982 362l-38 -8M944 354l-5 4M1016 376l4 -5M1020 371l-38 -9M982 362l-4 5M1055 385l4 -5M1059 380l-39 -9M1020 371l-4 5M1095 394l4 -5M1099 389l-40 -9M1059 380l-4 5M1135 404l4 -5M1139 399l-40 -10M1099 389l-4 5M1176 413l4 -5M1180 408l-41 -9M1139 399l-4 5"/><path class="c6" d="M581 281l33 7l5 -4l-33 -7zM749 318l3 2l5 -4l-4 -1zM788 329l36 8l4 -4l-36 -9zM860 346l38 8l4 -4l-37 -9zM935 363l38 9l5 -5l-39 -9zM1012 381l39 9l4 -5l-39 -9zM1091 399l41 10l3 -5l-40 -10z"/><path class="c7" d="M614 288l34 8l5 -4l-34 -8zM752 320l36 9l4 -5l-35 -8zM824 337l36 9l5 -5l-37 -8zM898 354l37 9l4 -5l-37 -8zM973 372l39 9l4 -5l-38 -9zM1051 390l40 9l4 -5l-40 -9zM1132 409l41 9l3 -5l-41 -9z"/><path class="c9" d="M648 296l34 7l5 -3l-34 -8zM743 316l6 2l4 -3l-5 -2z"/><path class="c8" d="M682 303l26 5l5 -3l-26 -5z"/><path class="c10" d="M708 308l9 2l5 -3l-9 -2z"/><path class="c11" d="M717 310l26 6l5 -3l-26 -6z"/><path class="m" d="M614 288l5 -4M586 277l-5 4M648 296l5 -4M619 284l-5 4M682 303l5 -3M653 292l-5 4M687 300l-5 3M717 310l5 -3M722 307l-5 3M752 320l5 -4M788 329l4 -5M757 316l-5 4M824 337l4 -4M792 324l-4 5M860 346l5 -5M828 333l-4 4M898 354l4 -4M865 341l-5 5M935 363l4 -5M902 350l-4 4M973 372l5 -5M939 358l-4 5M1012 381l4 -5M978 367l-5 5M1051 390l4 -5M1016 376l-4 5M1091 399l4 -5M1055 385l-4 5M1132 409l3 -5M1095 394l-4 5M1173 418l3 -5M1135 404l-3 5"/><path class="c6" d="M576 285l33 8l5 -5l-33 -7zM783 333l36 9l5 -5l-36 -8zM856 350l37 9l5 -5l-38 -8zM931 368l38 9l4 -5l-38 -9zM1008 386l39 9l4 -5l-39 -9zM1087 405l41 9l4 -5l-41 -10z"/><path class="c7" d="M609 293l17 3l5 -4l-17 -4zM747 324l36 9l5 -4l-36 -9zM819 342l37 8l4 -4l-36 -9zM893 359l38 9l4 -5l-37 -9zM969 377l39 9l4 -5l-39 -9zM1047 395l40 10l4 -6l-40 -9zM1128 414l41 10l4 -6l-41 -9z"/><path class="c8" d="M626 296l17 4l5 -4l-17 -4z"/><path class="c9" d="M643 300l17 3l5 -3l-17 -4zM744 320l3 4l5 -4l-3 -2z"/><path class="c11" d="M660 303l17 2l5 -2l-17 -3zM742 318l2 2l5 -2l-3 -1z"/><path class="c12" d="M677 305l18 3l5 -1l-18 -4z"/><path class="c13" d="M695 308l8 1l5 -1l-8 -1z"/><path class="c14" d="M703 309l9 1l5 0l-9 -2z"/><path class="c15" d="M712 310l9 2l5 0l-9 -2zM730 313l8 3l5 0l-9 -2z"/><path class="c16" d="M721 312l9 1l4 1l-8 -2z"/><path class="c17" d="M738 316l4 2l4 -1l-3 -1z"/><path class="m" d="M609 293l5 -5M581 281l-5 4M614 288l-5 5M643 300l5 -4M648 296l-5 4M677 305l5 -2M682 303l-5 2M712 310l5 0M717 310l-5 0M747 324l5 -4M783 333l5 -4M752 320l-5 4M819 342l5 -5M788 329l-5 4M856 350l4 -4M824 337l-5 5M893 359l5 -5M860 346l-4 4M931 368l4 -5M898 354l-5 5M969 377l4 -5M935 363l-4 5M1008 386l4 -5M973 372l-4 5M1047 395l4 -5M1012 381l-4 5M1087 405l4 -6M1051 390l-4 5M1128 414l4 -5M1091 399l-4 6M1169 424l4 -6M1132 409l-4 5"/><path class="c6" d="M571 289l33 8l5 -4l-33 -8zM778 338l37 9l4 -5l-36 -9zM851 355l38 9l4 -5l-37 -9zM927 373l38 9l4 -5l-38 -9zM1004 391l39 9l4 -5l-39 -9zM1083 410l41 9l4 -5l-41 -9z"/><path class="c8" d="M604 297l34 6l5 -3l-34 -7z"/><path class="c11" d="M638 303l9 1l5 -3l-9 -1z"/><path class="c18" d="M647 304l8 0l5 -1l-8 -2z"/><path class="c17" d="M655 304l9 1l5 -1l-9 -1zM739 318l4 8l4 -2l-3 -4z"/><path class="c16" d="M664 305l8 0l5 0l-8 -1z"/><path class="c19" d="M672 305l9 0l5 2l-9 -2z"/><path class="c20" d="M681 305l26 -1l5 6l-26 -3z"/><path class="c21" d="M707 304l17 1l6 8l-18 -3zM724 305l9 3l5 8l-8 -3z"/><path class="c22" d="M733 308l4 5l5 5l-4 -2z"/><path class="c23" d="M737 313l2 5l5 2l-2 -2z"/><path class="c7" d="M743 326l7 5l4 -4l-7 -3zM750 331l28 7l5 -5l-29 -6zM815 347l36 8l5 -5l-37 -8zM889 364l38 9l4 -5l-38 -9zM965 382l39 9l4 -5l-39 -9zM1043 400l40 10l4 -5l-40 -10zM1124 419l41 10l4 -5l-41 -10z"/><path class="m" d="M571 289l33 8M604 297l5 -4M576 285l-5 4M604 297l34 6M638 303l5 -3M609 293l-5 4M638 303l9 1M643 300l-5 3M647 304l8 0M655 304l9 1M664 305l8 0M672 305l5 0M672 305l9 0M677 305l-5 0M681 305l26 -1M707 304l5 6M707 304l17 1M712 310l-5 -6M724 305l9 3M733 308l4 5M737 313l2 5M739 318l4 8M743 326l4 -2M743 326l7 5M747 324l-4 2M750 331l28 7M778 338l5 -5M778 338l37 9M815 347l4 -5M783 333l-5 5M815 347l36 8M851 355l5 -5M819 342l-4 5M851 355l38 9M889 364l4 -5M856 350l-5 5M889 364l38 9M927 373l4 -5M893 359l-4 5M927 373l38 9M965 382l4 -5M931 368l-4 5M965 382l39 9M1004 391l4 -5M969 377l-4 5M1004 391l39 9M1043 400l4 -5M1008 386l-4 5M1043 400l40 10M1083 410l4 -5M1047 395l-4 5M1083 410l41 9M1124 419l4 -5M1087 405l-4 5M1124 419l41 10M1165 429l4 -5M1128 414l-4 5"/><path class="c24" d="M567 309l33 7l4 -19l-33 -8zM633 319l26 -3l5 -11l-26 -2zM774 358l36 9l5 -20l-37 -9zM847 376l37 8l5 -20l-38 -9zM922 393l38 10l5 -21l-38 -9zM999 412l39 9l5 -21l-39 -9zM1078 431l41 10l5 -22l-41 -9z"/><path class="c25" d="M600 316l33 3l5 -16l-34 -6zM745 351l29 7l4 -20l-28 -7zM810 367l37 9l4 -21l-36 -8zM884 384l38 9l5 -20l-38 -9zM960 403l39 9l5 -21l-39 -9zM1038 421l40 10l5 -21l-40 -10zM1119 441l41 9l5 -21l-41 -10z"/><path class="c26" d="M659 316l8 -2l5 -9l-8 0z"/><path class="c27" d="M667 314l9 -2l5 -7l-9 0z"/><path class="c28" d="M676 312l9 -3l4 -4l-8 0z"/><path class="c29" d="M685 309l8 -3l5 -2l-9 1z"/><path class="c30" d="M693 306l9 -3l5 1l-9 0z"/><path class="c31" d="M702 303l17 -2l5 4l-17 -1zM719 301l9 4l5 3l-9 -3z"/><path class="c32" d="M728 305l4 9l5 -1l-4 -5z"/><path class="c33" d="M732 314l2 12l5 -8l-2 -5z"/><path class="c34" d="M734 326l4 16l5 -16l-4 -8z"/><path class="c35" d="M738 342l7 9l5 -20l-7 -5z"/><path class="m" d="M600 316l4 -19M604 297l-33 -8M571 289l-4 20M633 319l5 -16M638 303l-34 -6M604 297l-4 19M664 305l-26 -2M638 303l-5 16M667 314l5 -9M672 305l-8 0M681 305l-9 0M672 305l-5 9M689 305l-8 0M698 304l-9 1M702 303l5 1M707 304l-9 0M724 305l-17 -1M707 304l-5 -1M733 308l-9 -3M737 313l-4 -5M739 318l-2 -5M738 342l5 -16M743 326l-4 -8M750 331l-7 -5M743 326l-5 16M774 358l4 -20M778 338l-28 -7M810 367l5 -20M815 347l-37 -9M778 338l-4 20M847 376l4 -21M851 355l-36 -8M815 347l-5 20M884 384l5 -20M889 364l-38 -9M851 355l-4 21M922 393l5 -20M927 373l-38 -9M889 364l-5 20M960 403l5 -21M965 382l-38 -9M927 373l-5 20M999 412l5 -21M1004 391l-39 -9M965 382l-5 21M1038 421l5 -21M1043 400l-39 -9M1004 391l-5 21M1078 431l5 -21M1083 410l-40 -10M1043 400l-5 21M1119 441l5 -22M1124 419l-41 -9M1083 410l-5 21M1160 450l5 -21M1165 429l-41 -10M1124 419l-5 22"/><path class="c36" d="M563 340l33 6l4 -30l-33 -7zM629 346l9 -3l4 -24l-9 0zM654 335l9 -6l4 -15l-8 2zM769 391l36 9l5 -33l-36 -9zM842 408l37 10l5 -34l-37 -8zM916 427l38 9l6 -33l-38 -10zM993 446l39 9l6 -34l-39 -9zM1072 465l40 10l7 -34l-41 -10z"/><path class="c37" d="M596 346l17 2l4 -30l-17 -2zM613 348l16 -2l4 -27l-16 -1zM741 383l28 8l5 -33l-29 -7zM805 400l37 8l5 -32l-37 -9zM879 418l37 9l6 -34l-38 -9zM954 436l39 10l6 -34l-39 -9zM1032 455l40 10l6 -34l-40 -10zM1112 475l41 10l7 -35l-41 -9z"/><path class="c38" d="M638 343l16 -8l5 -19l-17 3z"/><path class="c28" d="M663 329l8 -7l5 -10l-9 2z"/><path class="c39" d="M671 322l9 -8l5 -5l-9 3z"/><path class="c40" d="M680 314l8 -7l5 -1l-8 3z"/><path class="c41" d="M688 307l9 -7l5 3l-9 3z"/><path class="c0" d="M697 300l17 -9l5 10l-17 2zM714 291l9 6l5 8l-9 -4z"/><path class="c42" d="M723 297l6 39l5 -10l-6 -21z"/><path class="c43" d="M729 336l4 32l5 -26l-4 -16z"/><path class="c44" d="M733 368l8 15l4 -32l-7 -9z"/><path class="m" d="M596 346l4 -30M567 309l-4 31M600 316l-4 30M629 346l4 -27M633 319l-4 27M663 329l4 -15M667 314l-4 15M697 300l5 3M702 303l-5 -3M733 368l5 -26M738 342l-5 26M769 391l5 -33M805 400l5 -33M774 358l-5 33M842 408l5 -32M810 367l-5 33M879 418l5 -34M847 376l-5 32M916 427l6 -34M884 384l-5 34M954 436l6 -33M922 393l-6 34M993 446l6 -34M960 403l-6 33M1032 455l6 -34M999 412l-6 34M1072 465l6 -34M1038 421l-6 34M1112 475l7 -34M1078 431l-6 34M1153 485l7 -35M1119 441l-7 34"/><path class="c45" d="M555 411l16 3l2 -7l-17 -3zM571 414l16 1l2 -6l-16 -2z"/><path class="c36" d="M573 407l7 -63l-17 -4l-7 64zM589 409l7 -63l-16 -2l-7 63zM762 458l6 0l8 -66l-7 -1l-9 66zM768 458l29 -2l8 -56l-29 -8zM835 454l19 -1l6 -40l-18 -5z"/><path class="c46" d="M587 415l16 -4l2 -5l-16 3zM740 458l2 0l1 -5l-2 -1z"/><path class="c37" d="M605 406l8 -58l-17 -2l-7 63zM741 452l9 -66l-9 -3l-9 66zM743 453l8 -67l-1 0l-9 66zM750 455l8 -67l-7 -2l-8 67zM758 457l9 -67l-9 -2l-8 67zM760 457l9 -66l-2 -1l-9 67zM797 456l38 -2l7 -46l-37 -8z"/><path class="c12" d="M603 411l16 -11l2 -4l-16 10z"/><path class="c28" d="M621 396l8 -50l-16 2l-8 58zM732 449l9 -66l-8 -15l-9 46zM873 453l38 8l5 -34l-37 -9zM949 469l39 7l5 -30l-39 -10zM1027 484l40 8l5 -27l-40 -10zM1108 500l41 7l4 -22l-41 -10z"/><path class="c47" d="M619 400l8 -11l2 -2l-8 9z"/><path class="c48" d="M629 387l9 -44l-9 3l-8 50zM854 453l19 0l6 -35l-19 -5zM911 461l38 8l5 -33l-38 -9zM988 476l39 8l5 -29l-39 -9zM1067 492l41 8l4 -25l-40 -10z"/><path class="c21" d="M627 389l8 -14l2 0l-8 12z"/><path class="c49" d="M637 375l9 -35l-8 3l-9 44z"/><path class="c50" d="M635 375l8 -17l2 2l-8 15zM717 329l6 88l1 -3l-5 -78z"/><path class="c32" d="M645 360l9 -25l-8 5l-9 35z"/><path class="c51" d="M643 358l7 -21l3 4l-8 19zM682 236l9 -20l3 20l-9 18zM691 216l9 -15l2 23l-8 12zM700 201l9 13l3 22l-10 -12z"/><path class="c52" d="M653 341l10 -12l-9 6l-9 25z"/><path class="c53" d="M650 337l8 -24l3 8l-8 20zM658 313l8 -26l3 11l-8 23zM666 287l8 -26l3 14l-8 23zM674 261l8 -25l3 18l-8 21z"/><path class="c1" d="M661 321l10 1l-8 7l-10 12z"/><path class="c54" d="M669 298l11 16l-9 8l-10 -1z"/><path class="c3" d="M677 275l11 32l-8 7l-11 -16zM685 254l12 46l-9 7l-11 -32z"/><path class="c2" d="M694 236l11 58l-8 6l-12 -46zM702 224l12 67l-9 3l-11 -58zM712 236l11 61l-9 -6l-12 -67z"/><path class="c55" d="M709 214l5 53l2 15l-4 -46z"/><path class="c56" d="M716 282l11 33l-4 -18l-11 -61z"/><path class="c57" d="M714 267l3 62l2 7l-3 -54z"/><path class="c58" d="M719 336l10 0l-2 -21l-11 -33z"/><path class="c31" d="M724 414l9 -46l-4 -32l-10 0z"/><path class="c59" d="M723 417l8 38l1 -6l-8 -35z"/><path class="c60" d="M731 455l9 3l1 -6l-9 -3z"/><path class="c7" d="M742 458l7 1l1 -4l-7 -2z"/><path class="c8" d="M749 459l9 -1l0 -1l-8 -2zM758 458l2 0l0 -1l-2 0z"/><path class="c9" d="M760 458l2 0l-2 -1z"/><path class="m" d="M573 407l-17 -3M556 404l-1 7M563 340l-7 64M556 404l17 3M587 415l2 -6M589 409l-16 -2M589 409l7 -63M573 407l16 2M605 406l-16 3M589 409l-2 6M596 346l-7 63M589 409l16 -3M619 400l2 -4M621 396l-16 10M621 396l8 -50M605 406l16 -10M629 387l-8 9M621 396l-2 4M629 346l-8 50M621 396l8 -9M637 375l-8 12M629 387l8 -12M645 360l-8 15M637 375l8 -15M650 337l3 4M653 341l-8 19M653 341l10 -12M645 360l8 -19M661 321l-8 20M653 341l-3 -4M663 329l-10 12M653 341l8 -20M669 298l-8 23M661 321l8 -23M677 275l-8 23M669 298l8 -23M682 236l3 18M685 254l-8 21M685 254l12 46M677 275l8 -21M694 236l-9 18M685 254l-3 -18M697 300l-12 -46M685 254l9 -18M702 224l-8 12M694 236l8 -12M712 236l-10 -12M702 224l10 12M716 282l-4 -46M712 236l4 46M719 336l-3 -54M716 282l3 54M723 417l1 -3M724 414l-5 -78M724 414l9 -46M719 336l5 78M732 449l-8 -35M724 414l-1 3M733 368l-9 46M724 414l8 35M741 452l-9 -3M732 449l9 3M743 453l-2 -1M741 452l2 1M750 455l-7 -2M743 453l7 2M758 457l-8 -2M750 455l8 2M760 458l0 -1M760 457l-2 0M760 457l9 -66M758 457l2 0M762 458l-2 -1M760 457l0 1M769 391l-9 66M760 457l2 1M797 456l8 -56M835 454l7 -46M805 400l-8 56M842 408l-7 46M873 453l6 -35M911 461l5 -34M879 418l-6 35M949 469l5 -33M916 427l-5 34M988 476l5 -30M954 436l-5 33M1027 484l5 -29M993 446l-5 30M1067 492l5 -27M1032 455l-5 29M1108 500l4 -25M1072 465l-5 27M1149 507l4 -22M1112 475l-4 25"/><path class="c45" d="M550 420l16 3l5 -9l-16 -3z"/><path class="c61" d="M566 423l16 0l5 -8l-16 -1zM831 482l7 1l1 -5l-7 -2z"/><path class="c8" d="M582 423l17 -5l4 -7l-16 4z"/><path class="c59" d="M599 418l15 -16l5 -2l-16 11z"/><path class="c21" d="M614 402l8 -13l5 0l-8 11z"/><path class="c50" d="M622 389l8 -17l5 3l-8 14z"/><path class="c51" d="M630 372l15 -48l5 13l-15 38zM676 197l9 -27l6 46l-9 20zM685 170l8 -18l7 49l-9 15zM693 152l10 16l6 46l-9 -13zM712 310l6 108l5 -1l-6 -88z"/><path class="c53" d="M645 324l31 -127l6 39l-32 101z"/><path class="c62" d="M703 168l5 65l6 34l-5 -53z"/><path class="c57" d="M708 233l4 77l5 19l-3 -62z"/><path class="c63" d="M718 418l8 46l5 -9l-8 -38z"/><path class="c64" d="M726 464l11 4l5 -10l-11 -3zM737 468l19 3l4 -13l-18 0zM793 476l7 1l3 -8l-7 -2zM800 477l10 2l2 -8l-9 -2zM810 479l2 0l2 -8l-2 0zM812 479l7 1l2 -7l-7 -2z"/><path class="c65" d="M756 471l7 1l4 -13l-5 -1l-2 0zM763 472l9 1l4 -11l-9 -3zM772 473l2 0l4 -11l-2 0zM774 473l8 2l3 -11l-7 -2zM782 475l9 1l3 -10l-9 -2zM791 476l2 0l3 -9l-2 -1z"/><path class="c36" d="M767 459l1 -1l-6 0zM776 462l1 -5l-9 1l-1 1zM778 462l1 -5l-2 0l-1 5zM785 464l1 -8l-7 1l-1 5zM794 466l1 -10l-9 0l-1 8zM796 467l1 -11l-2 0l-1 10zM839 478l4 -25l-8 1l-3 22zM848 480l5 -27l-10 0l-4 25zM850 481l4 -28l-1 0l-5 27zM857 483l5 -31l-8 1l-4 28zM858 482l9 2l5 -31l-10 -1l-5 31zM867 484l2 0l4 -31l-1 0zM906 492l38 7l5 -30l-38 -8zM982 507l40 8l5 -31l-39 -8zM1061 523l40 9l7 -32l-41 -8z"/><path class="c37" d="M803 469l2 -14l-8 1l-1 11zM812 471l2 -16l-9 0l-2 14zM814 471l2 -16l-2 0l-2 16zM821 473l3 -19l-8 1l-2 16zM830 476l3 -22l-9 0l-3 19zM832 476l3 -22l-2 0l-3 22zM869 484l37 8l5 -31l-38 -8zM944 499l38 8l6 -31l-39 -7zM1022 515l39 8l6 -31l-40 -8zM1101 532l41 8l7 -33l-41 -7z"/><path class="c60" d="M819 480l10 2l1 -6l-9 -3zM829 482l2 0l1 -6l-2 0z"/><path class="c6" d="M838 483l10 0l0 -3l-9 -2z"/><path class="c9" d="M848 483l2 0l0 -2l-2 -1zM850 483l7 0l0 0l-7 -2z"/><path class="c16" d="M857 483l1 -1l-1 1z"/><path class="m" d="M555 411l-5 9M582 423l5 -8M587 415l-5 8M614 402l5 -2M619 400l-5 2M645 324l5 13M676 197l6 39M650 337l-5 -13M682 236l-6 -39M718 418l5 -1M723 417l-5 1M756 471l4 -13M767 459l-5 -1M760 458l-4 13M762 458l5 1M776 462l-9 -3M767 459l9 3M778 462l-2 0M776 462l2 0M785 464l-7 -2M778 462l7 2M794 466l-9 -2M785 464l9 2M793 476l3 -9M796 467l-2 -1M796 467l1 -11M794 466l2 1M803 469l-7 -2M796 467l-3 9M797 456l-1 11M796 467l7 2M812 471l-9 -2M803 469l9 2M814 471l-2 0M812 471l2 0M821 473l-7 -2M814 471l7 2M830 476l-9 -3M821 473l9 3M831 482l1 -6M832 476l-2 0M832 476l3 -22M830 476l2 0M839 478l-7 -2M832 476l-1 6M835 454l-3 22M832 476l7 2M848 480l-9 -2M839 478l9 2M850 481l-2 -1M848 480l2 1M857 483l-7 -2M850 481l7 2M858 482l-1 1M857 483l1 -1M869 484l4 -31M906 492l5 -31M873 453l-4 31M944 499l5 -30M911 461l-5 31M982 507l6 -31M949 469l-5 30M1022 515l5 -31M988 476l-6 31M1061 523l6 -31M1027 484l-5 31M1101 532l7 -32M1067 492l-6 31M1142 540l7 -33M1108 500l-7 32"/><path class="c45" d="M545 430l17 2l4 -9l-16 -3z"/><path class="c61" d="M562 432l16 0l4 -9l-16 0z"/><path class="c8" d="M578 432l16 -6l5 -8l-17 5z"/><path class="c59" d="M594 426l16 -17l4 -7l-15 16z"/><path class="c21" d="M610 409l7 -14l5 -6l-8 13zM617 395l8 -19l5 -4l-8 17zM688 136l10 18l5 14l-10 -16z"/><path class="c50" d="M625 376l15 -52l5 0l-15 48z"/><path class="c53" d="M640 324l31 -138l5 11l-31 127zM707 127l8 2l11 335l-8 -46zM715 129l32 6l9 336l-30 -7zM788 144l42 8l1 330l-38 -6zM871 161l21 5l-4 301l-19 5zM892 166l12 3l-5 295l-11 3zM904 169l8 2l-5 291l-8 2zM954 182l2 0l-9 271l-2 0zM956 182l10 3l-9 265l-10 3zM966 185l9 2l-10 261l-8 2zM975 187l2 0l-10 261l-2 0zM977 187l6 2l-10 257l-6 2zM983 189l3 1l-11 256l-2 0zM986 190l10 2l-11 252l-10 2zM1039 203l21 5l-13 222l-21 4zM1060 208l22 5l-14 212l-21 5zM1126 224l22 5l-16 182l-21 5zM1148 229l22 6l-15 172l-23 4z"/><path class="c51" d="M671 186l8 -29l6 13l-9 27zM679 157l9 -21l5 16l-8 18zM698 154l5 71l5 8l-5 -65zM703 225l0 -99l9 184l-4 -77zM703 126l4 1l11 291l-6 -108zM747 135l41 9l5 332l-37 -5zM830 152l29 6l-2 325l-26 -1zM859 158l10 3l-2 311l-9 10l-1 1zM869 161l2 0l-2 311l-2 0zM912 171l2 1l-6 290l-1 0zM914 172l11 2l-7 286l-10 2zM925 174l8 3l-7 281l-8 2zM933 177l2 0l-7 280l-2 1zM935 177l10 3l-7 275l-10 2zM945 180l9 2l-9 271l-7 2zM996 192l21 5l-12 242l-20 5zM1017 197l22 6l-13 231l-21 5zM1082 213l22 6l-15 201l-21 5zM1104 219l22 5l-15 192l-22 4z"/><path class="c2" d="M867 472l0 12l-9 -2zM869 472l0 12l-2 0l0 -12zM908 462l0 30l-2 0l1 -30zM918 460l-1 34l-9 -2l0 -30zM926 458l-1 38l-8 -2l1 -34zM928 457l-1 39l-2 0l1 -38zM938 455l-2 43l-9 -2l1 -39zM945 453l-1 46l-8 -1l2 -43zM1005 439l-3 72l-20 -4l3 -63zM1026 434l-4 81l-20 -4l3 -72zM1089 420l-8 108l-20 -5l7 -98zM1111 416l-10 116l-20 -4l8 -108z"/><path class="c3" d="M888 467l-1 21l-18 -4l0 -12zM899 464l0 26l-12 -2l1 -21zM907 462l-1 30l-7 -2l0 -26zM947 453l-1 47l-2 -1l1 -46zM957 450l-2 52l-9 -2l1 -47zM965 448l-2 55l-8 -1l2 -52zM967 448l-2 56l-2 -1l2 -55zM973 446l-2 59l-6 -1l2 -56zM975 446l-2 59l-2 0l2 -59zM985 444l-3 63l-9 -2l2 -59zM1047 430l-6 89l-19 -4l4 -81zM1068 425l-7 98l-20 -4l6 -89zM1132 411l-10 125l-21 -4l10 -116zM1155 407l-13 133l-20 -4l10 -125z"/><path class="m" d="M550 420l-5 10M578 432l4 -9M582 423l-4 9M610 409l4 -7M614 402l-4 7M640 324l5 0M671 186l5 11M645 324l-5 0M676 197l-5 -11M707 127l11 291M718 418l-11 -291M747 135l9 336M788 144l5 332M756 471l-9 -336M830 152l1 330M793 476l-5 -332M831 482l-1 -330M867 472l-9 10M858 482l9 -10M871 161l-2 311M869 472l-2 0M869 472l0 12M867 472l2 0M888 467l-19 5M869 472l2 -311M869 484l0 -12M869 472l19 -5M899 464l-11 3M888 467l11 -3M912 171l-5 291M907 462l-8 2M907 462l-1 30M899 464l8 -2M908 462l-1 0M907 462l5 -291M906 492l1 -30M907 462l1 0M918 460l-10 2M908 462l10 -2M926 458l-8 2M918 460l8 -2M928 457l-2 1M926 458l2 -1M938 455l-10 2M928 457l10 -2M954 182l-9 271M945 453l-7 2M945 453l-1 46M938 455l7 -2M947 453l-2 0M945 453l9 -271M944 499l1 -46M945 453l2 0M957 450l-10 3M947 453l10 -3M965 448l-8 2M957 450l8 -2M967 448l-2 0M965 448l2 0M973 446l-6 2M967 448l6 -2M975 446l-2 0M973 446l2 0M996 192l-11 252M985 444l-10 2M985 444l-3 63M975 446l10 -2M1005 439l-20 5M985 444l11 -252M982 507l3 -63M985 444l20 -5M1039 203l-13 231M1026 434l-21 5M1026 434l-4 81M1005 439l21 -5M1047 430l-21 4M1026 434l13 -231M1022 515l4 -81M1026 434l21 -4M1082 213l-14 212M1068 425l-21 5M1068 425l-7 98M1047 430l21 -5M1089 420l-21 5M1068 425l14 -212M1061 523l7 -98M1068 425l21 -5M1126 224l-15 192M1111 416l-22 4M1111 416l-10 116M1089 420l22 -4M1132 411l-21 5M1111 416l15 -192M1101 532l10 -116M1111 416l21 -5M1170 235l-15 172M1155 407l-23 4M1155 407l-13 133M1132 411l23 -4"/><path class="c45" d="M541 446l16 4l5 -18l-17 -2zM557 450l16 2l5 -20l-16 0z"/><path class="c7" d="M573 452l17 -1l4 -25l-16 6z"/><path class="c12" d="M590 451l16 -7l4 -35l-16 17z"/><path class="c16" d="M606 444l8 -6l3 -43l-7 14z"/><path class="c23" d="M614 438l8 -8l3 -54l-8 19zM697 332l4 34l2 -141l-5 -71z"/><path class="c47" d="M622 430l8 -11l2 -67l-7 24zM687 322l10 10l1 -178l-10 -18z"/><path class="c66" d="M630 419l8 -13l2 -82l-8 28zM670 344l9 -13l0 -174l-8 29zM679 331l8 -9l1 -186l-9 21z"/><path class="c67" d="M638 406l8 -15l1 -100l-7 33z"/><path class="c63" d="M646 391l24 -47l1 -158l-24 105z"/><path class="c51" d="M701 366l-4 -235l6 -5l0 99z"/><path class="c68" d="M697 131l4 1l6 -5l-4 -1zM701 132l41 8l5 -5l-40 -8zM742 140l41 8l5 -4l-41 -9zM783 148l41 9l6 -5l-42 -8zM824 157l42 9l5 -5l-41 -9zM866 166l41 10l5 -5l-41 -10zM907 176l42 10l5 -4l-42 -11zM949 186l42 11l5 -5l-42 -10zM991 197l43 10l5 -4l-43 -11zM1034 207l43 11l5 -5l-43 -10zM1077 218l45 11l4 -5l-44 -11zM1122 229l44 11l4 -5l-44 -11z"/><path class="m" d="M545 430l-4 16M573 452l5 -20M578 432l-5 20M606 444l4 -35M610 409l-4 35M638 406l2 -82M640 324l-2 82M670 344l1 -158M671 186l-1 158"/><path class="c31" d="M536 456l16 4l2 1l-16 -4z"/><path class="c45" d="M554 461l3 -11l-16 -4l-3 11zM571 465l2 -13l-16 -2l-3 11z"/><path class="c33" d="M552 460l17 4l2 1l-17 -4z"/><path class="c29" d="M569 464l16 4l2 -1l-16 -2zM644 476l8 0l2 -20l-9 3z"/><path class="c7" d="M587 467l3 -16l-17 1l-2 13z"/><path class="c37" d="M585 468l17 4l2 -4l-17 -1z"/><path class="c10" d="M604 468l2 -24l-16 7l-3 16z"/><path class="c24" d="M602 472l8 1l2 -5l-8 0zM610 473l8 1l2 -7l-8 1z"/><path class="c17" d="M612 468l2 -30l-8 6l-2 24z"/><path class="c16" d="M620 467l2 -37l-8 8l-2 30z"/><path class="c26" d="M618 474l9 1l2 -10l-9 2z"/><path class="c23" d="M629 465l1 -46l-8 11l-2 37zM637 462l1 -56l-8 13l-1 46zM700 461l1 -95l-4 -34l0 118z"/><path class="c36" d="M627 475l8 0l2 -13l-8 3z"/><path class="c39" d="M635 475l9 1l1 -17l-8 3z"/><path class="c69" d="M645 459l1 -68l-8 15l-1 56zM654 456l0 -81l-8 16l-1 68z"/><path class="c5" d="M652 476l9 0l1 -24l-8 4z"/><path class="c67" d="M662 452l0 -93l-8 16l0 81zM670 449l0 -105l-8 15l0 93z"/><path class="c70" d="M661 476l8 1l1 -28l-8 3z"/><path class="c32" d="M669 477l9 0l1 -30l-9 2zM678 477l9 2l1 -33l-9 1zM687 479l8 3l2 -32l-9 -4z"/><path class="c66" d="M679 447l0 -116l-9 13l0 105zM688 446l-1 -124l-8 9l0 116zM697 450l0 -118l-10 -10l1 124z"/><path class="c34" d="M695 482l4 4l1 -25l-3 -11z"/><path class="c2" d="M699 486l-8 -351l3 -1l6 327z"/><path class="c51" d="M694 134l3 -3l4 235l-1 95z"/><path class="c68" d="M691 135l4 1l2 -2l-3 0zM697 134l4 -2l-4 -1l-3 3zM695 136l9 2l1 -2l-8 -2zM705 136l4 -3l-8 -1l-4 2zM704 138l10 2l1 -1l-10 -3zM715 139l4 -4l-10 -2l-4 3zM714 140l2 0l1 -1l-2 0zM717 139l4 -3l-2 -1l-4 4zM716 140l8 2l1 -1l-8 -2zM725 141l4 -4l-8 -1l-4 3zM724 142l10 2l0 0l-9 -3zM734 144l6 -4l-11 -3l-4 4zM734 144l2 1l0 -1l-2 0zM736 144l6 -4l-2 0l-6 4zM736 145l2 0l-2 -1zM738 145l6 1l6 -4l-8 -2l-6 4zM744 146l33 7l6 -5l-33 -6zM777 153l42 9l5 -5l-41 -9zM819 162l42 9l5 -5l-42 -9zM861 171l41 10l5 -5l-41 -10zM902 181l42 10l5 -5l-42 -10zM944 191l42 11l5 -5l-42 -11zM986 202l43 11l5 -6l-43 -10zM1029 213l44 10l4 -5l-43 -11zM1073 223l44 11l5 -5l-45 -11zM1117 234l45 11l4 -5l-44 -11z"/><path class="m" d="M554 461l-16 -4M538 457l-2 -1M541 446l-3 11M538 457l16 4M569 464l2 1M571 465l-17 -4M571 465l2 -13M554 461l17 4M587 467l-16 -2M571 465l-2 -1M573 452l-2 13M571 465l16 2M602 472l2 -4M604 468l-17 -1M604 468l2 -24M587 467l17 1M612 468l-8 0M604 468l-2 4M606 444l-2 24M604 468l8 0M620 467l-8 1M612 468l8 -1M629 465l-9 2M620 467l9 -2M635 475l2 -13M637 462l-8 3M637 462l1 -56M629 465l8 -3M645 459l-8 3M637 462l-2 13M638 406l-1 56M637 462l8 -3M654 456l-9 3M645 459l9 -3M662 452l-8 4M654 456l8 -4M669 477l1 -28M670 449l-8 3M670 449l0 -105M662 452l8 -3M679 447l-9 2M670 449l-1 28M670 344l0 105M670 449l9 -2M688 446l-9 1M679 447l9 -1M697 450l-9 -4M688 446l9 4M700 461l-3 -11M697 450l3 11M694 134l6 327M700 461l-6 -327"/><path class="c31" d="M530 454l33 9l6 1l-33 -8z"/><path class="c40" d="M563 463l17 4l5 1l-16 -4z"/><path class="c70" d="M580 467l17 5l5 0l-17 -4z"/><path class="c4" d="M597 472l8 2l5 -1l-8 -1z"/><path class="c34" d="M605 474l9 2l4 -2l-8 -1z"/><path class="c48" d="M614 476l8 3l5 -4l-9 -1z"/><path class="c36" d="M622 479l8 2l5 -6l-8 0z"/><path class="c44" d="M630 481l9 2l5 -7l-9 -1z"/><path class="c25" d="M639 483l17 4l5 -11l-17 0z"/><path class="c35" d="M656 487l9 3l4 -13l-8 -1z"/><path class="c71" d="M665 490l17 4l5 -15l-18 -2zM682 494l9 3l4 -15l-8 -3zM691 497l3 1l5 -12l-4 -4z"/><path class="c2" d="M694 498l2 0l-5 -363l8 351z"/><path class="c52" d="M696 498l4 2l-5 -364l-4 -1zM737 510l7 2l0 -342l-6 -25l-2 0zM744 512l10 3l1 -305l-11 -40zM754 515l2 0l1 -297l-2 -8zM756 515l7 2l2 -268l-8 -31zM763 517l9 3l2 -233l-9 -38zM772 520l2 0l2 -225l-2 -8zM812 531l8 2l1 -65l-7 -27zM820 533l9 2l1 -32l-9 -35zM829 535l2 1l1 -26l-2 -7zM831 536l8 2l0 -1l-7 -27zM839 538l1 0l-1 -1z"/><path class="c72" d="M700 500l37 10l-1 -365l-41 -9zM774 520l8 2l2 -197l-8 -30zM782 522l9 3l2 -163l-9 -37zM791 525l2 0l2 -156l-2 -7zM793 525l8 3l2 -130l-8 -29zM801 528l9 2l2 -96l-9 -36zM810 530l2 1l2 -90l-2 -7z"/><path class="c66" d="M744 170l0 -24l-6 -1zM755 210l0 -62l-11 -2l0 24zM757 218l0 -69l-2 -1l0 62zM765 249l0 -98l-8 -2l0 69zM774 287l1 -134l-10 -2l0 98zM776 295l1 -142l-2 0l-1 134zM821 468l7 -305l-9 -1l-5 279zM830 503l8 -337l-10 -3l-7 305zM832 510l8 -344l-2 0l-8 337zM839 537l10 -369l-9 -2l-8 344zM840 538l8 2l11 -370l-10 -2l-10 369zM848 540l2 0l11 -369l-2 -1zM887 549l38 9l19 -367l-42 -10zM964 567l39 10l26 -364l-43 -11zM1042 586l40 10l35 -362l-44 -11z"/><path class="c67" d="M784 325l2 -170l-9 -2l-1 142zM793 362l3 -205l-10 -2l-2 170zM795 369l3 -212l-2 0l-3 205zM803 398l4 -239l-9 -2l-3 212zM812 434l5 -273l-10 -2l-4 239zM814 441l5 -279l-2 -1l-5 273zM850 540l37 9l15 -368l-41 -10zM925 558l39 9l22 -365l-42 -11zM1003 577l39 9l31 -363l-44 -10zM1082 596l41 10l39 -361l-45 -11z"/><path class="m" d="M563 463l6 1M536 456l-6 -2M569 464l-6 -1M597 472l5 0M602 472l-5 0M630 481l5 -6M635 475l-5 6M665 490l4 -13M669 477l-4 13M700 500l-5 -364M737 510l-1 -365M695 136l5 364M744 170l-6 -25M736 145l1 365M738 145l6 25M755 210l-11 -40M744 170l11 40M757 218l-2 -8M755 210l2 8M765 249l-8 -31M757 218l8 31M774 287l-9 -38M765 249l9 38M774 520l2 -225M776 295l-2 -8M776 295l1 -142M774 287l2 8M784 325l-8 -30M776 295l-2 225M777 153l-1 142M776 295l8 30M793 362l-9 -37M784 325l9 37M795 369l-2 -7M793 362l2 7M803 398l-8 -29M795 369l8 29M812 434l-9 -36M803 398l9 36M812 531l2 -90M814 441l-2 -7M814 441l5 -279M812 434l2 7M821 468l-7 -27M814 441l-2 90M819 162l-5 279M814 441l7 27M830 503l-9 -35M821 468l9 35M832 510l-2 -7M830 503l2 7M839 537l-7 -27M832 510l7 27M840 538l-1 -1M839 537l1 1M850 540l11 -369M887 549l15 -368M861 171l-11 369M925 558l19 -367M902 181l-15 368M964 567l22 -365M944 191l-19 367M1003 577l26 -364M986 202l-22 365M1042 586l31 -363M1029 213l-26 364M1082 596l35 -362M1073 223l-31 363M1123 606l39 -361M1117 234l-35 362"/><path class="c2" d="M522 423l34 9l7 31l-33 -9zM590 441l34 9l6 31l-33 -9zM659 459l31 8l6 31l-31 -8zM690 467l4 3l6 30l-4 -2z"/><path class="c3" d="M556 432l34 9l7 31l-34 -9zM624 450l35 9l6 31l-35 -9zM694 470l38 25l5 15l-37 -10z"/><path class="c58" d="M732 495l17 11l5 9l-17 -5z"/><path class="c0" d="M749 506l9 6l5 5l-9 -2z"/><path class="c31" d="M758 512l12 6l4 2l-11 -3zM808 529l26 7l5 2l-27 -7zM834 536l10 3l4 1l-8 -2l-1 0zM844 539l2 0l4 2l-2 -1zM883 549l2 1l4 1l-2 0zM885 550l10 3l3 1l-9 -3zM895 553l7 2l4 1l-8 -2zM902 555l2 0l3 2l-1 -1zM904 555l10 3l3 1l-10 -2zM914 558l7 2l3 1l-7 -2zM960 570l19 5l3 2l-19 -6zM979 575l20 6l2 1l-19 -5zM1038 591l20 6l2 1l-20 -6zM1058 597l20 5l2 1l-20 -5z"/><path class="c41" d="M770 518l38 11l4 2l-38 -11zM846 539l18 5l4 2l-18 -5zM864 544l12 3l3 2l-11 -3zM876 547l7 2l4 2l-8 -2zM921 560l2 0l3 2l-2 -1zM923 560l10 3l3 1l-10 -2zM933 563l7 2l3 1l-7 -2zM940 565l2 0l3 2l-2 -1zM942 565l6 2l3 1l-6 -1zM948 567l2 1l3 1l-2 -1zM950 568l10 2l3 1l-10 -2zM999 581l19 5l3 1l-20 -5zM1018 586l20 5l2 1l-19 -5zM1078 602l21 6l1 1l-20 -6zM1099 608l20 5l2 1l-21 -5z"/><path class="c65" d="M848 540l0 0l-8 -2zM850 541l0 -1l-2 0l0 0zM889 551l0 -1l-2 -1l0 2zM898 554l1 -2l-10 -2l0 1zM906 556l0 -2l-7 -2l-1 2zM907 557l1 -3l-2 0l0 2zM917 559l1 -3l-10 -2l-1 3zM924 561l1 -3l-7 -2l-1 3zM982 577l1 -5l-19 -5l-1 4zM1001 582l2 -5l-20 -5l-1 5zM1060 598l2 -7l-20 -5l-2 6zM1080 603l2 -7l-20 -5l-2 7z"/><path class="c64" d="M868 546l1 -1l-19 -5l0 1zM879 549l1 -2l-11 -2l-1 1zM887 551l0 -2l-7 -2l-1 2zM926 562l1 -3l-2 -1l-1 3zM936 564l1 -3l-10 -2l-1 3zM943 566l1 -3l-7 -2l-1 3zM945 567l1 -4l-2 0l-1 3zM951 568l1 -3l-6 -2l-1 4zM953 569l1 -4l-2 0l-1 3zM963 571l1 -4l-10 -2l-1 4zM1021 587l1 -5l-19 -5l-2 5zM1040 592l2 -6l-20 -4l-1 5zM1100 609l2 -8l-20 -5l-2 7zM1121 614l2 -8l-21 -5l-2 8z"/><path class="m" d="M556 432l7 31M530 454l-8 -31M590 441l7 31M563 463l-7 -31M624 450l6 31M597 472l-7 -31M659 459l6 31M630 481l-6 -31M665 490l-6 -31M694 470l6 30M732 495l5 15M700 500l-6 -30M737 510l-5 -15M770 518l4 2M808 529l4 2M774 520l-4 -2M812 531l-4 -2M848 540l-8 -2M840 538l8 2M846 539l4 2M850 541l-2 -1M850 541l0 -1M848 540l2 1M868 546l-18 -5M850 541l-4 -2M850 540l0 1M850 541l18 5M879 549l-11 -3M868 546l11 3M883 549l4 2M887 551l-8 -2M887 551l0 -2M879 549l8 2M889 551l-2 0M887 551l-4 -2M887 549l0 2M887 551l2 0M898 554l-9 -3M889 551l9 3M906 556l-8 -2M898 554l8 2M907 557l-1 -1M906 556l1 1M917 559l-10 -2M907 557l10 2M921 560l3 1M924 561l-7 -2M924 561l1 -3M917 559l7 2M926 562l-2 -1M924 561l-3 -1M925 558l-1 3M924 561l2 1M936 564l-10 -2M926 562l10 2M943 566l-7 -2M936 564l7 2M945 567l-2 -1M943 566l2 1M951 568l-6 -1M945 567l6 1M953 569l-2 -1M951 568l2 1M960 570l3 1M963 571l-10 -2M963 571l1 -4M953 569l10 2M982 577l-19 -6M963 571l-3 -1M964 567l-1 4M963 571l19 6M999 581l2 1M1001 582l-19 -5M1001 582l2 -5M982 577l19 5M1021 587l-20 -5M1001 582l-2 -1M1003 577l-2 5M1001 582l20 5M1038 591l2 1M1040 592l-19 -5M1040 592l2 -6M1021 587l19 5M1060 598l-20 -6M1040 592l-2 -1M1042 586l-2 6M1040 592l20 6M1078 602l2 1M1080 603l-20 -5M1080 603l2 -7M1060 598l20 5M1100 609l-20 -6M1080 603l-2 -1M1082 596l-2 7M1080 603l20 6M1119 613l2 1M1121 614l-21 -5M1121 614l2 -8M1100 609l21 5"/><path class="c2" d="M517 397l33 8l6 27l-34 -9zM584 414l35 9l5 27l-34 -9zM654 432l32 9l4 26l-31 -8zM686 441l4 0l4 29l-4 -3zM726 451l36 9l8 58l-38 -23zM799 470l38 10l9 59l-38 -10zM875 490l39 10l7 60l-38 -11zM953 510l40 10l6 61l-39 -11zM1034 531l41 10l3 61l-40 -11z"/><path class="c3" d="M550 405l34 9l6 27l-34 -9zM619 423l35 9l5 27l-35 -9zM690 441l36 10l6 44l-38 -25zM762 460l37 10l9 59l-38 -11zM837 480l38 10l8 59l-37 -10zM914 500l39 10l7 60l-39 -10zM993 520l41 11l4 60l-39 -10zM1075 541l42 11l2 61l-41 -11z"/><path class="m" d="M550 405l6 27M522 423l-5 -26M584 414l6 27M556 432l-6 -27M619 423l5 27M590 441l-6 -27M654 432l5 27M624 450l-5 -27M659 459l-5 -27M690 441l4 29M726 451l6 44M694 470l-4 -29M762 460l8 58M732 495l-6 -44M799 470l9 59M770 518l-8 -58M837 480l9 59M808 529l-9 -59M875 490l8 59M846 539l-9 -59M914 500l7 60M883 549l-8 -59M953 510l7 60M921 560l-7 -60M993 520l6 61M960 570l-7 -60M1034 531l4 60M999 581l-6 -61M1075 541l3 61M1038 591l-4 -60M1117 552l2 61M1078 602l-3 -61"/><path class="c2" d="M508 367l34 8l8 30l-33 -8zM577 384l35 9l7 30l-35 -9zM648 402l36 9l6 30l-36 -9zM720 420l37 10l5 30l-36 -9zM795 439l38 10l4 31l-38 -10zM872 458l39 10l3 32l-39 -10zM951 478l40 11l2 31l-40 -10zM1032 499l42 11l1 31l-41 -10z"/><path class="c3" d="M542 375l35 9l7 30l-34 -9zM612 393l36 9l6 30l-35 -9zM684 411l36 9l6 31l-36 -10zM757 430l38 9l4 31l-37 -10zM833 449l39 9l3 32l-38 -10zM911 468l40 10l2 32l-39 -10zM991 489l41 10l2 32l-41 -11zM1074 510l42 10l1 32l-42 -11z"/><path class="m" d="M508 367l34 8M542 375l8 30M517 397l-9 -30M542 375l35 9M577 384l7 30M550 405l-8 -30M577 384l35 9M612 393l7 30M584 414l-7 -30M612 393l36 9M648 402l6 30M619 423l-7 -30M648 402l36 9M684 411l6 30M654 432l-6 -30M684 411l36 9M720 420l6 31M690 441l-6 -30M720 420l37 10M757 430l5 30M726 451l-6 -31M757 430l38 9M795 439l4 31M762 460l-5 -30M795 439l38 10M833 449l4 31M799 470l-4 -31M833 449l39 9M872 458l3 32M837 480l-4 -31M872 458l39 10M911 468l3 32M875 490l-3 -32M911 468l40 10M951 478l2 32M914 500l-3 -32M951 478l40 11M991 489l2 31M953 510l-2 -32M991 489l41 10M1032 499l2 32M993 520l-2 -31M1032 499l42 11M1074 510l1 31M1034 531l-2 -32M1074 510l42 10M1116 520l1 32M1075 541l-1 -31"/><path class="c50" d="M501 352l35 8l6 15l-34 -8zM570 369l36 9l6 15l-35 -9zM641 387l37 9l6 15l-36 -9zM715 405l37 9l5 16l-37 -10zM790 424l38 10l5 15l-38 -10zM867 443l40 10l4 15l-39 -10zM947 463l41 10l3 16l-40 -11zM1029 484l42 10l3 16l-42 -11z"/><path class="c73" d="M536 360l34 9l7 15l-35 -9zM606 378l35 9l7 15l-36 -9zM678 396l37 9l5 15l-36 -9zM752 414l38 10l5 15l-38 -9zM828 434l39 9l5 15l-39 -9zM907 453l40 10l4 15l-40 -10zM988 473l41 11l3 15l-41 -10zM1071 494l43 11l2 15l-42 -10z"/><path class="m" d="M536 360l6 15M542 375l-34 -8M508 367l-7 -15M570 369l7 15M577 384l-35 -9M542 375l-6 -15M606 378l6 15M612 393l-35 -9M577 384l-7 -15M641 387l7 15M648 402l-36 -9M612 393l-6 -15M678 396l6 15M684 411l-36 -9M648 402l-7 -15M715 405l5 15M720 420l-36 -9M684 411l-6 -15M752 414l5 16M757 430l-37 -10M720 420l-5 -15M790 424l5 15M795 439l-38 -9M757 430l-5 -16M828 434l5 15M833 449l-38 -10M795 439l-5 -15M867 443l5 15M872 458l-39 -9M833 449l-5 -15M907 453l4 15M911 468l-39 -10M872 458l-5 -15M947 463l4 15M951 478l-40 -10M911 468l-4 -15M988 473l3 16M991 489l-40 -11M951 478l-4 -15M1029 484l3 15M1032 499l-41 -10M991 489l-3 -16M1071 494l3 16M1074 510l-42 -11M1032 499l-3 -15M1114 505l2 15M1116 520l-42 -10M1074 510l-3 -16"/><path class="c6" d="M496 356l34 9l6 -5l-35 -8zM565 374l35 9l6 -5l-36 -9zM636 392l37 9l5 -5l-37 -9zM709 410l38 10l5 -6l-37 -9zM785 429l38 10l5 -5l-38 -10zM862 449l40 10l5 -6l-40 -10zM942 469l41 10l5 -6l-41 -10zM1025 490l42 10l4 -6l-42 -10z"/><path class="c7" d="M530 365l35 9l5 -5l-34 -9zM600 383l36 9l5 -5l-35 -9zM673 401l36 9l6 -5l-37 -9zM747 420l38 9l5 -5l-38 -10zM823 439l39 10l5 -6l-39 -9zM902 459l40 10l5 -6l-40 -10zM983 479l42 11l4 -6l-41 -11zM1067 500l43 11l4 -6l-43 -11z"/><path class="m" d="M530 365l6 -5M501 352l-5 4M565 374l5 -5M536 360l-6 5M600 383l6 -5M570 369l-5 5M636 392l5 -5M606 378l-6 5M673 401l5 -5M641 387l-5 5M709 410l6 -5M678 396l-5 5M747 420l5 -6M715 405l-6 5M785 429l5 -5M752 414l-5 6M823 439l5 -5M790 424l-5 5M862 449l5 -6M828 434l-5 5M902 459l5 -6M867 443l-5 6M942 469l5 -6M907 453l-5 6M983 479l5 -6M947 463l-5 6M1025 490l4 -6M988 473l-5 6M1067 500l4 -6M1029 484l-4 6M1110 511l4 -6M1071 494l-4 6"/><path class="c6" d="M490 361l34 9l6 -5l-34 -9zM559 379l36 9l5 -5l-35 -9zM631 397l36 9l6 -5l-37 -9zM704 415l38 10l5 -5l-38 -10zM780 434l38 10l5 -5l-38 -10zM858 454l39 10l5 -5l-40 -10zM938 474l41 11l4 -6l-41 -10zM1021 495l42 11l4 -6l-42 -10z"/><path class="c7" d="M524 370l35 9l6 -5l-35 -9zM595 388l36 9l5 -5l-36 -9zM667 406l37 9l5 -5l-36 -9zM742 425l38 9l5 -5l-38 -9zM818 444l40 10l4 -5l-39 -10zM897 464l41 10l4 -5l-40 -10zM979 485l42 10l4 -5l-42 -11zM1063 506l43 11l4 -6l-43 -11z"/><path class="m" d="M524 370l6 -5M496 356l-6 5M559 379l6 -5M530 365l-6 5M595 388l5 -5M565 374l-6 5M631 397l5 -5M600 383l-5 5M667 406l6 -5M636 392l-5 5M704 415l5 -5M673 401l-6 5M742 425l5 -5M709 410l-5 5M780 434l5 -5M747 420l-5 5M818 444l5 -5M785 429l-5 5M858 454l4 -5M823 439l-5 5M897 464l5 -5M862 449l-4 5M938 474l4 -5M902 459l-5 5M979 485l4 -6M942 469l-4 5M1021 495l4 -5M983 479l-4 6M1063 506l4 -6M1025 490l-4 5M1106 517l4 -6M1067 500l-4 6"/><path class="c6" d="M484 366l35 9l5 -5l-34 -9zM554 383l35 9l6 -4l-36 -9zM625 402l37 9l5 -5l-36 -9zM699 420l38 10l5 -5l-38 -10zM775 440l39 9l4 -5l-38 -10zM853 459l22 6l5 -6l-22 -5zM933 480l41 10l5 -5l-41 -11zM1016 501l43 11l4 -6l-42 -11z"/><path class="c7" d="M519 375l35 8l5 -4l-35 -9zM589 392l36 10l6 -5l-36 -9zM662 411l37 9l5 -5l-37 -9zM737 430l38 10l5 -6l-38 -9zM814 449l39 10l5 -5l-40 -10zM921 476l12 4l5 -6l-12 -3zM974 490l42 11l5 -6l-42 -10zM1059 512l43 11l4 -6l-43 -11z"/><path class="c9" d="M875 465l18 4l4 -5l-17 -5z"/><path class="c8" d="M893 469l28 7l5 -5l-29 -7z"/><path class="m" d="M484 366l35 9M519 375l5 -5M490 361l-6 5M519 375l35 8M554 383l5 -4M524 370l-5 5M554 383l35 9M589 392l6 -4M559 379l-5 4M589 392l36 10M625 402l6 -5M595 388l-6 4M625 402l37 9M662 411l5 -5M631 397l-6 5M662 411l37 9M699 420l5 -5M667 406l-5 5M699 420l38 10M737 430l5 -5M704 415l-5 5M737 430l38 10M775 440l5 -6M742 425l-5 5M775 440l39 9M814 449l4 -5M780 434l-5 6M814 449l39 10M853 459l5 -5M818 444l-4 5M853 459l22 6M858 454l-5 5M875 465l18 4M893 469l4 -5M893 469l28 7M897 464l-4 5M921 476l12 4M933 480l5 -6M933 480l41 10M974 490l5 -5M938 474l-5 6M974 490l42 11M1016 501l5 -6M979 485l-5 5M1016 501l43 11M1059 512l4 -6M1021 495l-5 6M1059 512l43 11M1102 523l4 -6M1063 506l-4 6"/><path class="c71" d="M479 375l35 9l5 -9l-35 -9zM549 393l35 9l5 -10l-35 -9zM620 412l37 9l5 -10l-37 -9zM694 431l38 9l5 -10l-38 -10zM770 450l39 10l5 -11l-39 -9zM928 491l42 10l4 -11l-41 -10zM1011 512l43 11l5 -11l-43 -11z"/><path class="c35" d="M514 384l35 9l5 -10l-35 -8zM584 402l36 10l5 -10l-36 -10zM657 421l37 10l5 -11l-37 -9zM732 440l38 10l5 -10l-38 -10zM809 460l19 5l5 -11l-19 -5zM916 485l12 6l5 -11l-12 -4zM970 501l41 11l5 -11l-42 -11zM1054 523l43 11l5 -11l-43 -11z"/><path class="c25" d="M828 465l20 4l5 -10l-20 -5zM888 478l28 7l5 -9l-28 -7z"/><path class="c24" d="M848 469l40 9l5 -9l-40 -10z"/><path class="m" d="M514 384l5 -9M519 375l-35 -9M484 366l-5 9M549 393l5 -10M554 383l-35 -8M519 375l-5 9M584 402l5 -10M589 392l-35 -9M554 383l-5 10M620 412l5 -10M625 402l-36 -10M589 392l-5 10M657 421l5 -10M662 411l-37 -9M625 402l-5 10M694 431l5 -11M699 420l-37 -9M662 411l-5 10M732 440l5 -10M737 430l-38 -10M699 420l-5 11M770 450l5 -10M775 440l-38 -10M737 430l-5 10M809 460l5 -11M814 449l-39 -9M775 440l-5 10M833 454l-19 -5M814 449l-5 11M848 469l5 -10M853 459l-20 -5M888 478l5 -9M893 469l-40 -10M853 459l-5 10M921 476l-28 -7M893 469l-5 9M928 491l5 -11M933 480l-12 -4M970 501l4 -11M974 490l-41 -10M933 480l-5 11M1011 512l5 -11M1016 501l-42 -11M974 490l-4 11M1054 523l5 -11M1059 512l-43 -11M1016 501l-5 11M1097 534l5 -11M1102 523l-43 -11M1059 512l-5 11"/><path class="c71" d="M474 388l35 9l5 -13l-35 -9zM544 406l35 9l5 -13l-35 -9zM615 425l37 9l5 -13l-37 -9zM689 444l38 9l5 -13l-38 -9zM765 463l39 10l5 -13l-39 -10zM923 504l42 11l5 -14l-42 -10zM1006 526l43 11l5 -14l-43 -11z"/><path class="c35" d="M509 397l35 9l5 -13l-35 -9zM579 415l36 10l5 -13l-36 -10zM652 434l37 10l5 -13l-37 -10zM727 453l38 10l5 -13l-38 -10zM804 473l39 7l5 -11l-39 -9zM911 494l12 10l5 -13l-12 -6zM965 515l41 11l5 -14l-41 -11zM1049 537l43 11l5 -14l-43 -11z"/><path class="c24" d="M843 480l22 3l5 -9l-22 -5z"/><path class="c26" d="M865 483l18 3l5 -8l-18 -4z"/><path class="c44" d="M883 486l2 0l5 -8l-2 0z"/><path class="c27" d="M885 486l20 4l5 -7l-20 -5z"/><path class="c25" d="M905 490l6 4l5 -9l-6 -2z"/><path class="m" d="M509 397l5 -13M479 375l-5 13M544 406l5 -13M514 384l-5 13M579 415l5 -13M549 393l-5 13M615 425l5 -13M584 402l-5 13M652 434l5 -13M620 412l-5 13M689 444l5 -13M657 421l-5 13M727 453l5 -13M694 431l-5 13M765 463l5 -13M732 440l-5 13M804 473l5 -13M770 450l-5 13M843 480l5 -11M809 460l-5 13M848 469l-5 11M883 486l5 -8M888 478l-5 8M923 504l5 -13M965 515l5 -14M928 491l-5 13M1006 526l5 -14M970 501l-5 14M1049 537l5 -14M1011 512l-5 14M1092 548l5 -14M1054 523l-5 14"/><path class="c71" d="M469 404l35 9l5 -16l-35 -9zM539 423l35 9l5 -17l-35 -9zM610 441l37 10l5 -17l-37 -9zM684 461l38 10l5 -18l-38 -9zM760 481l39 8l5 -16l-39 -10zM918 522l41 11l6 -18l-42 -11zM1001 544l43 11l5 -18l-43 -11z"/><path class="c35" d="M504 413l35 10l5 -17l-35 -9zM574 432l36 9l5 -16l-36 -10zM647 451l37 10l5 -17l-37 -10zM722 471l38 10l5 -18l-38 -10zM799 489l19 3l5 -15l-19 -4zM909 504l9 18l5 -18l-9 -7zM959 533l42 11l5 -18l-41 -11zM1044 555l43 12l5 -19l-43 -11z"/><path class="c25" d="M818 492l20 0l5 -12l-20 -3z"/><path class="c24" d="M838 492l2 0l5 -11l-2 -1z"/><path class="c26" d="M840 492l10 -1l5 -9l-10 -1z"/><path class="c38" d="M850 491l8 -1l5 -7l-8 -1z"/><path class="c36" d="M858 490l2 0l5 -7l-2 0z"/><path class="c48" d="M860 490l10 -2l5 -3l-10 -2z"/><path class="c34" d="M870 488l8 -1l5 -1l-8 -1z"/><path class="c70" d="M878 487l2 0l5 -1l-2 0z"/><path class="c40" d="M880 487l11 -1l4 1l-10 -1z"/><path class="c41" d="M891 486l8 1l4 2l-8 -2z"/><path class="c30" d="M899 487l2 1l4 2l-2 -1z"/><path class="c39" d="M901 488l6 9l4 -3l-6 -4zM907 497l2 7l5 -7l-3 -3z"/><path class="m" d="M504 413l5 -16M474 388l-5 16M539 423l5 -17M509 397l-5 16M574 432l5 -17M544 406l-5 17M610 441l5 -16M579 415l-5 17M647 451l5 -17M615 425l-5 16M684 461l5 -17M652 434l-5 17M722 471l5 -18M689 444l-5 17M760 481l5 -18M727 453l-5 18M799 489l5 -16M765 463l-5 18M804 473l-5 16M838 492l5 -12M843 480l-5 12M878 487l5 -1M883 486l-5 1M918 522l5 -18M959 533l6 -18M923 504l-5 18M1001 544l5 -18M965 515l-6 18M1044 555l5 -18M1006 526l-5 18M1087 567l5 -19M1049 537l-5 18"/><path class="c71" d="M465 421l34 9l5 -17l-35 -9zM534 439l36 10l4 -17l-35 -9zM605 458l37 10l5 -17l-37 -10zM679 478l38 10l5 -17l-38 -10zM755 498l37 7l5 -16l-37 -8zM913 539l41 12l5 -18l-41 -11zM996 562l42 12l6 -19l-43 -11z"/><path class="c35" d="M499 430l35 9l5 -16l-35 -10zM570 449l35 9l5 -17l-36 -9zM642 468l37 10l5 -17l-37 -10zM717 488l38 10l5 -17l-38 -10zM954 551l42 11l5 -18l-42 -11zM1038 574l43 11l6 -18l-43 -12z"/><path class="c24" d="M792 505l1 0l6 -16l-2 0z"/><path class="c25" d="M793 505l20 -1l5 -12l-19 -3z"/><path class="c27" d="M813 504l12 -4l5 -8l-12 0z"/><path class="c39" d="M825 500l8 -3l5 -5l-8 0z"/><path class="c4" d="M833 497l2 -1l5 -4l-2 0z"/><path class="c31" d="M835 496l10 -6l5 1l-10 1z"/><path class="c0" d="M845 490l10 -7l5 7l-10 1z"/><path class="c58" d="M855 483l11 -8l4 13l-10 2z"/><path class="c2" d="M866 475l8 -5l4 17l-8 1z"/><path class="c3" d="M874 470l13 -6l4 22l-13 1zM887 464l8 -1l4 24l-8 -1zM895 463l2 1l4 24l-2 -1z"/><path class="c54" d="M897 464l6 18l4 15l-6 -9z"/><path class="c41" d="M903 482l2 18l4 4l-2 -7z"/><path class="c5" d="M905 500l8 39l5 -17l-9 -18z"/><path class="m" d="M465 421l34 9M499 430l5 -17M469 404l-4 17M499 430l35 9M534 439l5 -16M504 413l-5 17M534 439l36 10M570 449l4 -17M539 423l-5 16M570 449l35 9M605 458l5 -17M574 432l-4 17M605 458l37 10M642 468l5 -17M610 441l-5 17M642 468l37 10M679 478l5 -17M647 451l-5 17M679 478l38 10M717 488l5 -17M684 461l-5 17M717 488l38 10M755 498l5 -17M722 471l-5 17M755 498l37 7M760 481l-5 17M792 505l1 0M793 505l6 -16M793 505l20 -1M799 489l-6 16M813 504l12 -4M825 500l8 -3M833 497l5 -5M833 497l2 -1M838 492l-5 5M835 496l10 -6M845 490l10 -7M855 483l11 -8M866 475l8 -5M874 470l4 17M874 470l13 -6M878 487l-4 -17M887 464l8 -1M895 463l2 1M897 464l6 18M903 482l2 18M905 500l8 39M913 539l5 -17M913 539l41 12M954 551l5 -18M918 522l-5 17M954 551l42 11M996 562l5 -18M959 533l-5 18M996 562l42 12M1038 574l6 -19M1001 544l-5 18M1038 574l43 11M1081 585l6 -18M1044 555l-6 19"/><path class="c11" d="M462 459l34 9l3 -38l-34 -9zM531 478l35 9l4 -38l-36 -10zM602 497l36 10l4 -39l-37 -10zM675 517l37 10l5 -39l-38 -10zM750 537l27 4l5 -38l-27 -5zM777 541l11 0l5 -36l-11 -2zM907 578l20 8l7 -40l-21 -7zM927 586l21 6l6 -41l-20 -5zM989 603l42 12l7 -41l-42 -12z"/><path class="c10" d="M496 468l35 10l3 -39l-35 -9zM566 487l36 10l3 -39l-35 -9zM638 507l37 10l4 -39l-37 -10zM712 527l38 10l5 -39l-38 -10zM788 541l20 -7l5 -30l-20 1zM808 534l12 -9l5 -25l-12 4zM948 592l41 11l7 -41l-42 -11zM1031 615l43 12l7 -42l-43 -11z"/><path class="c12" d="M820 525l8 -9l5 -19l-8 3z"/><path class="c17" d="M828 516l2 -3l5 -17l-2 1z"/><path class="c16" d="M830 513l10 -14l5 -9l-10 6z"/><path class="c22" d="M840 499l8 -13l5 -2l-8 6z"/><path class="c21" d="M848 486l3 -4l4 1l-2 1z"/><path class="c50" d="M851 482l10 -17l5 10l-11 8z"/><path class="c51" d="M861 465l9 -13l4 18l-8 5z"/><path class="c53" d="M870 452l13 -16l4 28l-13 6zM883 436l8 -4l4 31l-8 1zM891 432l2 2l4 30l-2 -1z"/><path class="c73" d="M893 434l5 36l5 12l-6 -18z"/><path class="c74" d="M898 470l2 35l5 -5l-2 -18z"/><path class="c59" d="M900 505l7 73l6 -39l-8 -39z"/><path class="m" d="M496 468l3 -38M499 430l-34 -9M465 421l-3 38M531 478l3 -39M534 439l-35 -9M499 430l-3 38M566 487l4 -38M570 449l-36 -10M534 439l-3 39M602 497l3 -39M605 458l-35 -9M570 449l-4 38M638 507l4 -39M642 468l-37 -10M605 458l-3 39M675 517l4 -39M679 478l-37 -10M642 468l-4 39M712 527l5 -39M717 488l-38 -10M679 478l-4 39M750 537l5 -39M755 498l-38 -10M717 488l-5 39M782 503l-27 -5M755 498l-5 39M788 541l5 -36M793 505l-11 -2M813 504l-20 1M793 505l-5 36M825 500l-12 4M828 516l5 -19M833 497l-8 3M835 496l-2 1M833 497l-5 19M845 490l-10 6M853 484l-8 6M855 483l-2 1M866 475l-11 8M870 452l4 18M874 470l-8 5M887 464l-13 6M874 470l-4 -18M895 463l-8 1M897 464l-2 -1M903 482l-6 -18M905 500l-2 -18M907 578l6 -39M913 539l-8 -39M934 546l-21 -7M913 539l-6 39M948 592l6 -41M954 551l-20 -5M989 603l7 -41M996 562l-42 -11M954 551l-6 41M1031 615l7 -41M1038 574l-42 -12M996 562l-7 41M1074 627l7 -42M1081 585l-43 -11M1038 574l-7 41"/><path class="c11" d="M459 496l34 10l3 -38l-34 -9zM528 515l35 10l3 -38l-35 -9zM598 535l36 10l4 -38l-36 -10zM671 556l37 10l4 -39l-37 -10zM745 576l27 2l5 -37l-27 -4zM772 578l11 -2l5 -35l-11 0zM901 617l20 9l6 -40l-20 -8zM921 626l21 6l6 -40l-21 -6zM983 644l42 12l6 -41l-42 -12z"/><path class="c10" d="M493 506l35 9l3 -37l-35 -10zM563 525l35 10l4 -38l-36 -10zM634 545l37 11l4 -39l-37 -10zM708 566l37 10l5 -39l-38 -10zM942 632l41 12l6 -41l-41 -11zM1025 656l42 11l7 -40l-43 -12z"/><path class="c12" d="M783 576l20 -14l5 -28l-20 7z"/><path class="c14" d="M803 562l12 -17l5 -20l-12 9z"/><path class="c67" d="M815 545l8 -16l5 -13l-8 9z"/><path class="c75" d="M823 529l2 -4l5 -12l-2 3z"/><path class="c21" d="M825 525l10 -25l5 -1l-10 14z"/><path class="c51" d="M835 500l30 -83l5 35l-30 47z"/><path class="c53" d="M865 417l14 -29l4 48l-13 16zM879 388l9 -8l3 52l-8 4zM888 380l2 2l3 52l-2 -2zM894 441l1 58l5 6l-2 -35z"/><path class="c73" d="M890 382l4 59l4 29l-5 -36z"/><path class="c76" d="M895 499l6 118l6 -39l-7 -73z"/><path class="m" d="M493 506l3 -38M462 459l-3 37M528 515l3 -37M496 468l-3 38M563 525l3 -38M531 478l-3 37M598 535l4 -38M566 487l-3 38M634 545l4 -38M602 497l-4 38M671 556l4 -39M638 507l-4 38M708 566l4 -39M675 517l-4 39M745 576l5 -39M712 527l-4 39M750 537l-5 39M783 576l5 -35M788 541l-5 35M823 529l5 -13M828 516l-5 13M865 417l5 35M870 452l-5 -35M901 617l6 -39M907 578l-6 39M942 632l6 -40M983 644l6 -41M948 592l-6 40M1025 656l6 -41M989 603l-6 41M1067 667l7 -40M1031 615l-6 41"/><path class="c9" d="M456 533l34 10l3 -37l-34 -10zM524 553l35 10l4 -38l-35 -10zM594 573l36 10l4 -38l-36 -10zM666 594l37 10l5 -38l-37 -10zM740 614l17 2l5 -38l-17 -2zM895 655l20 11l6 -40l-20 -9zM915 666l20 6l7 -40l-21 -6zM976 684l41 12l8 -40l-42 -12z"/><path class="c8" d="M490 543l34 10l4 -38l-35 -9zM559 563l35 10l4 -38l-35 -10zM630 583l36 11l5 -38l-37 -11zM703 604l37 10l5 -38l-37 -10zM935 672l41 12l7 -40l-41 -12zM1017 696l42 12l8 -41l-42 -11z"/><path class="c11" d="M757 616l10 -1l5 -37l-10 0zM767 615l9 -3l6 -35l-10 1z"/><path class="c18" d="M776 612l2 -1l5 -35l-1 1z"/><path class="c13" d="M778 611l19 -21l6 -28l-20 14z"/><path class="c67" d="M797 590l12 -24l6 -21l-12 17z"/><path class="c74" d="M809 566l8 -22l6 -15l-8 16z"/><path class="c50" d="M817 544l13 -42l5 -2l-12 29z"/><path class="c51" d="M830 502l31 -118l4 33l-30 83z"/><path class="c53" d="M861 384l13 -41l5 45l-14 29zM874 343l9 -14l5 51l-9 8zM883 329l3 3l4 50l-2 -2zM890 415l0 81l5 3l-1 -58z"/><path class="c77" d="M886 332l4 83l4 26l-4 -59z"/><path class="c20" d="M890 496l5 159l6 -38l-6 -118z"/><path class="m" d="M490 543l3 -37M459 496l-3 37M524 553l4 -38M493 506l-3 37M559 563l4 -38M528 515l-4 38M594 573l4 -38M563 525l-4 38M630 583l4 -38M598 535l-4 38M666 594l5 -38M634 545l-4 38M703 604l5 -38M671 556l-5 38M740 614l5 -38M708 566l-5 38M745 576l-5 38M778 611l5 -35M783 576l-5 35M817 544l6 -15M823 529l-6 15M861 384l4 33M865 417l-4 -33M895 655l6 -38M901 617l-6 38M935 672l7 -40M976 684l7 -40M942 632l-7 40M1017 696l8 -40M983 644l-7 40M1059 708l8 -41M1025 656l-8 40"/><path class="c61" d="M453 553l34 10l3 -20l-34 -10zM521 573l34 11l4 -21l-35 -10zM591 594l35 10l4 -21l-36 -10zM662 615l37 11l4 -22l-37 -10zM891 676l20 12l4 -22l-20 -11zM911 688l20 6l4 -22l-20 -6zM971 706l42 12l4 -22l-41 -12z"/><path class="c46" d="M487 563l34 10l3 -20l-34 -10zM555 584l36 10l3 -21l-35 -10zM626 604l36 11l4 -21l-36 -11zM699 626l19 5l3 -21l-18 -6zM931 694l40 12l5 -22l-41 -12zM1013 718l42 13l4 -23l-42 -12z"/><path class="c7" d="M718 631l18 4l4 -21l-19 -4z"/><path class="c6" d="M736 635l19 2l4 -21l-19 -2z"/><path class="c9" d="M755 637l8 -1l4 -21l-8 1z"/><path class="c11" d="M763 636l9 -4l4 -20l-9 3z"/><path class="c18" d="M772 632l2 -1l4 -20l-2 1z"/><path class="c78" d="M774 631l19 -22l4 -19l-19 21z"/><path class="c76" d="M793 609l12 -27l4 -16l-12 24z"/><path class="c73" d="M805 582l8 -23l4 -15l-8 22zM870 341l9 -15l4 3l-9 14zM886 419l0 87l4 -10l0 -81z"/><path class="c51" d="M813 559l2 -7l4 -15l-2 7zM834 479l22 -93l5 -2l-23 85z"/><path class="c50" d="M815 552l19 -73l4 -10l-19 68z"/><path class="c53" d="M856 386l14 -45l4 2l-13 41z"/><path class="c59" d="M879 326l3 4l4 2l-3 -3z"/><path class="c74" d="M882 330l4 89l4 -4l-4 -83z"/><path class="c20" d="M886 506l5 170l4 -21l-5 -159z"/><path class="m" d="M487 563l3 -20M456 533l-3 20M521 573l3 -20M490 543l-3 20M555 584l4 -21M524 553l-3 20M591 594l3 -21M559 563l-4 21M626 604l4 -21M594 573l-3 21M662 615l4 -21M630 583l-4 21M699 626l4 -22M666 594l-4 21M703 604l-4 22M736 635l4 -21M740 614l-4 21M774 631l4 -20M778 611l-4 20M813 559l4 -15M817 544l-4 15M856 386l5 -2M861 384l-5 2M891 676l4 -21M895 655l-4 21M931 694l4 -22M971 706l5 -22M935 672l-4 22M1013 718l4 -22M976 684l-5 22M1055 731l4 -23M1017 696l-4 22"/><path class="c71" d="M450 559l17 5l2 -4l-16 -5zM467 564l17 5l2 -4l-17 -5zM518 579l9 3l2 -4l-9 -3zM527 582l9 3l2 -4l-9 -3zM536 585l8 2l2 -4l-8 -2zM544 587l9 3l2 -4l-9 -3zM588 600l9 3l2 -4l-9 -3zM597 603l9 2l2 -4l-9 -2zM606 605l9 3l2 -4l-9 -3zM615 608l3 1l2 -4l-3 -1zM618 609l2 1l2 -5l-2 0zM620 610l4 1l2 -4l-4 -2zM660 621l7 2l2 -4l-7 -2zM667 623l10 3l2 -4l-10 -3zM677 626l1 1l2 -4l-1 -1zM678 627l8 2l2 -4l-8 -2zM686 629l9 3l2 -5l-9 -2zM695 632l2 0l2 -4l-2 -1z"/><path class="c61" d="M469 560l1 -2l-17 -5l0 2zM486 565l1 -2l-17 -5l-1 2zM529 578l0 -2l-8 -3l-1 2zM538 581l0 -3l-9 -2l0 2zM546 583l1 -2l-9 -3l0 3zM555 586l0 -2l-8 -3l-1 2zM599 599l1 -2l-9 -3l-1 2zM608 601l0 -2l-8 -2l-1 2zM617 604l0 -2l-9 -3l0 2zM620 605l1 -2l-4 -1l0 2zM622 605l1 -2l-2 0l-1 2zM626 607l0 -3l-3 -1l-1 2zM669 619l1 -2l-8 -2l0 2zM679 622l0 -2l-9 -3l-1 2zM680 623l1 -3l-2 0l0 2zM688 625l0 -2l-7 -3l-1 3zM697 627l0 -2l-9 -2l0 2zM699 628l0 -2l-2 -1l0 2z"/><path class="c35" d="M484 569l17 5l2 -4l-17 -5zM501 574l17 5l2 -4l-17 -5zM553 590l9 2l2 -4l-9 -2zM562 592l9 3l2 -4l-9 -3zM571 595l8 2l2 -4l-8 -2zM579 597l9 3l2 -4l-9 -3zM624 611l7 2l2 -4l-7 -2zM631 613l9 2l2 -4l-9 -2zM640 615l2 1l2 -4l-2 -1zM642 616l7 2l2 -4l-7 -2zM649 618l9 3l2 -4l-9 -3zM658 621l2 0l2 -4l-2 0zM697 632l7 2l2 -4l-7 -2zM704 634l9 3l2 -4l-9 -3zM713 637l2 0l2 -4l-2 0zM715 637l8 2l2 -4l-8 -2z"/><path class="c46" d="M503 570l1 -2l-17 -5l-1 2zM520 575l1 -2l-17 -5l-1 2zM564 588l0 -2l-9 -2l0 2zM573 591l0 -2l-9 -3l0 2zM581 593l1 -2l-9 -2l0 2zM590 596l1 -2l-9 -3l-1 2zM633 609l0 -2l-7 -3l0 3zM642 611l1 -2l-10 -2l0 2zM644 612l0 -2l-1 -1l-1 2zM651 614l1 -2l-8 -2l0 2zM660 617l1 -2l-9 -3l-1 2zM662 617l0 -2l-1 0l-1 2zM706 630l1 -2l-8 -2l0 2zM715 633l1 -2l-9 -3l-1 2zM717 633l1 -2l-2 0l-1 2z"/><path class="c7" d="M725 635l0 -2l-7 -2l-1 2zM734 637l0 -2l-9 -2l0 2zM736 638l0 -3l-2 0l0 2z"/><path class="c25" d="M723 639l9 3l2 -5l-9 -2zM732 642l2 0l2 -4l-2 -1z"/><path class="c24" d="M734 642l7 1l2 -4l-7 -1zM741 643l10 1l2 -5l-10 0z"/><path class="c6" d="M743 639l1 -2l-8 -2l0 3zM753 639l0 -2l-9 0l-1 2zM755 639l0 -2l-2 0l0 2z"/><path class="c26" d="M751 644l2 0l2 -5l-2 0zM753 644l7 -1l2 -5l-7 1z"/><path class="c9" d="M762 638l1 -2l-8 1l0 2z"/><path class="c36" d="M760 643l10 -3l2 -5l-10 3z"/><path class="c11" d="M772 635l0 -3l-9 4l-1 2z"/><path class="c49" d="M770 640l2 -1l2 -6l-2 2z"/><path class="c18" d="M774 633l0 -2l-2 1l0 3z"/><path class="c70" d="M772 639l19 -19l2 -9l-19 22zM876 374l2 3l3 -45l-2 -3z"/><path class="c78" d="M793 611l0 -2l-19 22l0 2z"/><path class="c79" d="M791 620l12 -23l2 -12l-12 26zM856 418l11 -32l3 -43l-12 37z"/><path class="c76" d="M805 585l0 -3l-12 27l0 2z"/><path class="c30" d="M803 597l8 -21l2 -15l-8 24z"/><path class="c74" d="M813 561l0 -2l-8 23l0 3z"/><path class="c31" d="M811 576l2 -6l2 -16l-2 7zM813 570l10 -33l2 -21l-10 38zM823 537l8 -31l3 -25l-9 35zM831 506l2 -8l3 -26l-2 9z"/><path class="c50" d="M815 554l0 -2l-2 7l0 2z"/><path class="c51" d="M825 516l0 -2l-10 38l0 2zM912 630l-1 58l-20 -12l1 -57zM933 636l-2 58l-20 -6l1 -58zM995 655l-3 57l-21 -6l3 -57zM1016 661l-3 57l-21 -6l3 -57z"/><path class="c57" d="M834 481l0 -2l-9 35l0 2zM856 388l0 -2l-9 36l0 3z"/><path class="c62" d="M836 472l0 -3l-2 10l0 2zM847 425l0 -3l-11 47l0 3z"/><path class="c80" d="M833 498l11 -41l3 -32l-11 47zM844 457l9 -32l3 -37l-9 37z"/><path class="c81" d="M853 425l3 -7l2 -38l-2 8z"/><path class="c53" d="M858 380l1 -3l-3 9l0 2zM886 473l0 33l0 -87l-1 3zM892 619l-1 57l-5 -170l0 -33zM953 642l-2 58l-20 -6l2 -58zM974 649l-3 57l-20 -6l2 -58zM1037 667l-3 57l-21 -6l3 -57zM1059 674l-4 57l-21 -7l3 -57z"/><path class="c73" d="M870 343l0 -2l-11 36l-1 3z"/><path class="c82" d="M867 386l9 -12l3 -45l-9 14zM878 377l4 78l3 -33l-4 -90z"/><path class="c69" d="M879 329l0 -3l-9 15l0 2z"/><path class="c60" d="M881 332l1 -2l-3 -4l0 3z"/><path class="c19" d="M885 422l1 -3l-4 -89l-1 2z"/><path class="c3" d="M882 455l7 -167l-3 185l-1 -51zM889 288l11 3l-8 328l-6 -146zM945 304l23 6l-15 332l-20 -6zM968 310l23 6l-17 333l-21 -7zM1037 329l24 7l-24 331l-21 -6zM1061 336l23 6l-25 332l-22 -7z"/><path class="c2" d="M900 291l23 7l-11 332l-20 -11zM923 298l22 6l-12 332l-21 -6zM991 316l23 7l-19 332l-21 -6zM1014 323l23 6l-21 332l-21 -6z"/><path class="m" d="M469 560l-16 -5M453 555l-3 4M453 553l0 2M453 555l16 5M484 569l2 -4M486 565l-17 -5M486 565l1 -2M469 560l17 5M503 570l-17 -5M486 565l-2 4M487 563l-1 2M486 565l17 5M518 579l2 -4M520 575l-17 -5M520 575l1 -2M503 570l17 5M529 578l-9 -3M520 575l-2 4M521 573l-1 2M520 575l9 3M538 581l-9 -3M529 578l9 3M546 583l-8 -2M538 581l8 2M553 590l2 -4M555 586l-9 -3M555 586l0 -2M546 583l9 3M564 588l-9 -2M555 586l-2 4M555 584l0 2M555 586l9 2M573 591l-9 -3M564 588l9 3M581 593l-8 -2M573 591l8 2M588 600l2 -4M590 596l-9 -3M590 596l1 -2M581 593l9 3M599 599l-9 -3M590 596l-2 4M591 594l-1 2M590 596l9 3M608 601l-9 -2M599 599l9 2M617 604l-9 -3M608 601l9 3M620 605l-3 -1M617 604l3 1M622 605l-2 0M620 605l2 0M624 611l2 -4M626 607l-4 -2M626 607l0 -3M622 605l4 2M633 609l-7 -2M626 607l-2 4M626 604l0 3M626 607l7 2M642 611l-9 -2M633 609l9 2M644 612l-2 -1M642 611l2 1M651 614l-7 -2M644 612l7 2M660 617l-9 -3M651 614l9 3M660 621l2 -4M662 617l-2 0M662 617l0 -2M660 617l2 0M669 619l-7 -2M662 617l-2 4M662 615l0 2M662 617l7 2M679 622l-10 -3M669 619l10 3M680 623l-1 -1M679 622l1 1M688 625l-8 -2M680 623l8 2M697 627l-9 -2M688 625l9 2M697 632l2 -4M699 628l-2 -1M699 628l0 -2M697 627l2 1M706 630l-7 -2M699 628l-2 4M699 626l0 2M699 628l7 2M715 633l-9 -3M706 630l9 3M717 633l-2 0M715 633l2 0M725 635l-8 -2M717 633l8 2M734 637l-9 -2M725 635l9 2M734 642l2 -4M736 638l-2 -1M736 638l0 -3M734 637l2 1M743 639l-7 -1M736 638l-2 4M736 635l0 3M736 638l7 1M753 639l-10 0M743 639l10 0M755 639l-2 0M753 639l2 0M762 638l-7 1M755 639l7 -1M772 635l-10 3M762 638l10 -3M772 639l2 -6M774 633l-2 2M774 633l0 -2M772 635l2 -2M793 611l-19 22M774 633l-2 6M774 631l0 2M774 633l19 -22M805 585l-12 26M793 611l12 -26M811 576l2 -15M813 561l-8 24M813 561l0 -2M805 585l8 -24M815 554l-2 7M813 561l-2 15M813 559l0 2M813 561l2 -7M825 516l-10 38M815 554l10 -38M834 481l-9 35M825 516l9 -35M836 472l-2 9M834 481l2 -9M847 425l-11 47M836 472l11 -47M853 425l3 -37M856 388l-9 37M856 388l0 -2M847 425l9 -37M858 380l-2 8M856 388l-3 37M856 386l0 2M856 388l2 -8M870 343l-12 37M858 380l12 -37M879 329l-9 14M870 343l9 -14M881 332l-2 -3M879 329l2 3M885 422l-4 -90M881 332l4 90M886 473l-1 -51M885 422l1 51M900 291l-8 328M892 619l-6 -146M892 619l-1 57M886 473l6 146M912 630l-20 -11M892 619l8 -328M891 676l1 -57M892 619l20 11M945 304l-12 332M933 636l-21 -6M933 636l-2 58M912 630l21 6M953 642l-20 -6M933 636l12 -332M931 694l2 -58M933 636l20 6M991 316l-17 333M974 649l-21 -7M974 649l-3 57M953 642l21 7M995 655l-21 -6M974 649l17 -333M971 706l3 -57M974 649l21 6M1037 329l-21 332M1016 661l-21 -6M1016 661l-3 57M995 655l21 6M1037 667l-21 -6M1016 661l21 -332M1013 718l3 -57M1016 661l21 6M1084 342l-25 332M1059 674l-22 -7M1059 674l-4 57M1037 667l22 7"/><path class="c71" d="M446 568l34 10l4 -9l-34 -10zM514 588l35 11l4 -9l-35 -11zM584 609l35 11l5 -9l-36 -11zM656 631l36 10l5 -9l-37 -11zM730 652l7 2l4 -11l-7 -1z"/><path class="c35" d="M480 578l34 10l4 -9l-34 -10zM549 599l35 10l4 -9l-35 -10zM619 620l37 11l4 -10l-36 -10zM692 641l38 11l4 -10l-37 -10z"/><path class="c24" d="M737 654l19 4l4 -15l-19 0z"/><path class="c26" d="M756 658l9 0l5 -18l-10 3z"/><path class="c38" d="M765 658l2 0l5 -19l-2 1z"/><path class="c39" d="M767 658l19 -3l5 -35l-19 19z"/><path class="c40" d="M786 655l12 -6l5 -52l-12 23zM869 590l5 26l8 -161l-4 -78z"/><path class="c82" d="M798 649l8 -5l5 -68l-8 21z"/><path class="c52" d="M806 644l12 -12l5 -95l-12 39z"/><path class="c83" d="M818 632l28 -31l7 -176l-30 112z"/><path class="c79" d="M846 601l12 -10l9 -205l-14 39z"/><path class="c72" d="M858 591l9 -3l9 -214l-9 12zM867 588l2 2l9 -213l-2 -3z"/><path class="c3" d="M874 616l11 -323l4 -5l-7 167z"/><path class="c68" d="M885 293l11 3l4 -5l-11 -3zM896 296l45 13l4 -5l-45 -13zM941 309l45 12l5 -5l-46 -12zM986 321l47 13l4 -5l-46 -13zM1033 334l47 13l4 -5l-47 -13z"/><path class="m" d="M480 578l4 -9M450 559l-4 9M514 588l4 -9M484 569l-4 9M549 599l4 -9M518 579l-4 9M584 609l4 -9M553 590l-4 9M619 620l5 -9M588 600l-4 9M656 631l4 -10M624 611l-5 9M692 641l5 -9M660 621l-4 10M730 652l4 -10M697 632l-5 9M734 642l-4 10M767 658l5 -19M772 639l-5 19M806 644l5 -68M811 576l-5 68M846 601l7 -176M853 425l-7 176"/><path class="c33" d="M440 568l34 10l6 0l-34 -10zM508 588l35 11l6 0l-35 -11zM579 609l35 11l5 0l-35 -11zM651 631l37 10l4 0l-36 -10zM833 676l8 1l5 -76l-8 9z"/><path class="c40" d="M474 578l34 10l6 0l-34 -10zM543 599l36 10l5 0l-35 -10zM614 620l37 11l5 0l-37 -11zM688 641l16 5l5 0l-17 -5zM841 677l11 2l6 -88l-12 10zM852 679l8 1l7 -92l-9 3zM860 680l2 1l7 -91l-2 -2z"/><path class="c70" d="M704 646l21 7l5 -1l-21 -6z"/><path class="c32" d="M725 653l7 2l5 -1l-7 -2zM821 674l12 2l5 -66l-12 14z"/><path class="c4" d="M732 655l12 3l4 -1l-11 -3zM813 673l8 1l5 -50l-8 8z"/><path class="c34" d="M744 658l7 2l5 -2l-8 -1zM803 672l10 1l5 -41l-10 10z"/><path class="c49" d="M751 660l10 3l4 -5l-9 0zM801 672l2 0l5 -30l-2 2z"/><path class="c48" d="M761 663l2 0l4 -5l-2 0z"/><path class="c44" d="M763 663l19 5l4 -13l-19 3z"/><path class="c27" d="M782 668l12 2l4 -21l-12 6z"/><path class="c28" d="M794 670l7 2l5 -28l-8 5z"/><path class="c5" d="M862 681l6 5l6 -70l-5 -26z"/><path class="c3" d="M868 686l12 -388l5 -5l-11 323z"/><path class="c68" d="M880 298l11 3l5 -5l-11 -3zM891 301l45 13l5 -5l-45 -13zM936 314l46 12l4 -5l-45 -12zM982 326l47 13l4 -5l-47 -13zM1029 339l47 13l4 -5l-47 -13z"/><path class="m" d="M474 578l6 0M446 568l-6 0M508 588l6 0M480 578l-6 0M543 599l6 0M514 588l-6 0M579 609l5 0M549 599l-6 0M614 620l5 0M584 609l-5 0M651 631l5 0M619 620l-5 0M688 641l4 0M656 631l-5 0M692 641l-4 0M725 653l5 -1M730 652l-5 1M763 663l4 -5M767 658l-4 5M801 672l5 -28M806 644l-5 28M841 677l5 -76M846 601l-5 76"/><path class="c0" d="M437 565l34 10l3 3l-34 -10zM505 585l35 11l3 3l-35 -11zM576 606l35 11l3 3l-35 -11zM648 628l37 11l3 2l-37 -10zM722 650l38 11l3 2l-38 -10z"/><path class="c1" d="M471 575l34 10l3 3l-34 -10zM540 596l36 10l3 3l-36 -10zM611 617l37 11l3 3l-37 -11zM685 639l37 11l3 3l-37 -12z"/><path class="c41" d="M760 661l31 9l3 0l-31 -7z"/><path class="c82" d="M791 670l8 2l2 0l-7 -2z"/><path class="c32" d="M799 672l2 0l2 0l-2 0z"/><path class="c4" d="M801 672l10 3l2 -2l-10 -1z"/><path class="c48" d="M811 675l8 2l2 -3l-8 -1z"/><path class="c36" d="M819 677l1 0l3 -3l-2 0z"/><path class="c38" d="M820 677l10 3l3 -4l-10 -2z"/><path class="c24" d="M830 680l8 2l3 -5l-8 -1z"/><path class="c25" d="M838 682l2 1l3 -6l-2 0z"/><path class="c35" d="M840 683l20 5l2 -7l-19 -4zM860 688l6 3l2 -5l-6 -5z"/><path class="c84" d="M866 691l2 1l12 -394l-12 388z"/><path class="c79" d="M868 692l10 4l13 -395l-11 -3zM918 708l41 13l23 -395l-46 -12zM1001 735l42 14l33 -397l-47 -13z"/><path class="c83" d="M878 696l40 12l18 -394l-45 -13zM959 721l42 14l28 -396l-47 -13z"/><path class="m" d="M471 575l3 3M440 568l-3 -3M505 585l3 3M474 578l-3 -3M540 596l3 3M508 588l-3 -3M576 606l3 3M543 599l-3 -3M611 617l3 3M579 609l-3 -3M648 628l3 3M614 620l-3 -3M685 639l3 2M651 631l-3 -3M722 650l3 3M688 641l-3 -2M760 661l3 2M725 653l-3 -3M763 663l-3 -2M799 672l2 0M801 672l-2 0M838 682l3 -5M841 677l-3 5M878 696l13 -395M918 708l18 -394M891 301l-13 395M959 721l23 -395M936 314l-18 394M1001 735l28 -396M982 326l-23 395M1043 749l33 -397M1029 339l-28 396"/><path class="c58" d="M431 556l34 10l6 9l-34 -10zM500 576l35 11l5 9l-35 -11zM570 597l36 11l5 9l-35 -11zM643 619l37 11l5 9l-37 -11zM718 641l38 11l4 9l-38 -11zM795 664l31 9l4 7l-31 -8zM874 687l41 12l3 9l-40 -12zM956 712l42 16l3 7l-42 -14z"/><path class="c54" d="M465 566l35 10l5 9l-34 -10zM535 587l35 10l6 9l-36 -10zM606 608l37 11l5 9l-37 -11zM680 630l38 11l4 9l-37 -11zM756 652l39 12l4 8l-39 -11zM865 684l9 3l4 9l-10 -4zM915 699l41 13l3 9l-41 -13z"/><path class="c0" d="M826 673l8 2l4 7l-8 -2z"/><path class="c1" d="M834 675l31 9l3 8l-30 -10zM998 728l42 15l3 6l-42 -14z"/><path class="m" d="M465 566l6 9M437 565l-6 -9M500 576l5 9M471 575l-6 -9M535 587l5 9M505 585l-5 -9M570 597l6 9M540 596l-5 -9M606 608l5 9M576 606l-6 -9M643 619l5 9M611 617l-5 -9M680 630l5 9M648 628l-5 -9M718 641l4 9M685 639l-5 -9M756 652l4 9M722 650l-4 -9M795 664l4 8M760 661l-4 -9M799 672l-4 -8M834 675l4 7M838 682l-4 -7M874 687l4 9M915 699l3 9M878 696l-4 -9M956 712l3 9M918 708l-3 -9M998 728l3 7M959 721l-3 -9M1040 743l3 6M1001 735l-3 -7"/><path class="c2" d="M426 543l34 10l5 13l-34 -10zM495 563l35 11l5 13l-35 -11zM566 584l36 11l4 13l-36 -11zM639 606l38 11l3 13l-37 -11zM715 628l38 11l3 13l-38 -11zM792 651l40 11l2 13l-39 -11zM872 674l41 12l2 13l-41 -12zM954 699l42 18l2 11l-42 -16z"/><path class="c3" d="M460 553l35 10l5 13l-35 -10zM530 574l36 10l4 13l-35 -10zM602 595l37 11l4 13l-37 -11zM677 617l38 11l3 13l-38 -11zM753 639l39 12l3 13l-39 -12zM832 662l40 12l2 13l-40 -12zM913 686l41 13l2 13l-41 -13zM996 717l43 15l1 11l-42 -15z"/><path class="m" d="M426 543l34 10M460 553l5 13M431 556l-5 -13M460 553l35 10M495 563l5 13M465 566l-5 -13M495 563l35 11M530 574l5 13M500 576l-5 -13M530 574l36 10M566 584l4 13M535 587l-5 -13M566 584l36 11M602 595l4 13M570 597l-4 -13M602 595l37 11M639 606l4 13M606 608l-4 -13M639 606l38 11M677 617l3 13M643 619l-4 -13M677 617l38 11M715 628l3 13M680 630l-3 -13M715 628l38 11M753 639l3 13M718 641l-3 -13M753 639l39 12M792 651l3 13M756 652l-3 -13M792 651l40 11M832 662l2 13M795 664l-3 -13M832 662l40 12M872 674l2 13M834 675l-2 -13M872 674l41 12M913 686l2 13M874 687l-2 -13M913 686l41 13M954 699l2 13M915 699l-2 -13M954 699l42 18M996 717l2 11M956 712l-2 -13M996 717l43 15M1039 732l1 11M998 728l-2 -11"/><path class="c51" d="M417 518l34 10l9 25l-34 -10zM486 538l36 10l8 26l-35 -11zM558 559l37 10l7 26l-36 -11zM632 580l38 11l7 26l-38 -11zM708 602l39 11l6 26l-38 -11zM787 625l40 11l5 26l-40 -11zM868 648l41 12l4 26l-41 -12zM951 674l43 21l2 22l-42 -18z"/><path class="c53" d="M451 528l35 10l9 25l-35 -10zM522 548l36 11l8 25l-36 -10zM595 569l37 11l7 26l-37 -11zM670 591l38 11l7 26l-38 -11zM747 613l40 12l5 26l-39 -12zM827 636l41 12l4 26l-40 -12zM909 660l42 14l3 25l-41 -13zM994 695l21 10l2 20l-21 -8zM1015 705l21 8l3 19l-22 -7z"/><path class="m" d="M451 528l9 25M460 553l-34 -10M426 543l-9 -25M486 538l9 25M495 563l-35 -10M460 553l-9 -25M522 548l8 26M530 574l-35 -11M495 563l-9 -25M558 559l8 25M566 584l-36 -10M530 574l-8 -26M595 569l7 26M602 595l-36 -11M566 584l-8 -25M632 580l7 26M639 606l-37 -11M602 595l-7 -26M670 591l7 26M677 617l-38 -11M639 606l-7 -26M708 602l7 26M715 628l-38 -11M677 617l-7 -26M747 613l6 26M753 639l-38 -11M715 628l-7 -26M787 625l5 26M792 651l-39 -12M753 639l-6 -26M827 636l5 26M832 662l-40 -11M792 651l-5 -26M868 648l4 26M872 674l-40 -12M832 662l-5 -26M909 660l4 26M913 686l-41 -12M872 674l-4 -26M951 674l3 25M954 699l-41 -13M913 686l-4 -26M994 695l2 22M996 717l-42 -18M954 699l-3 -25M1017 725l-21 -8M996 717l-2 -22M1036 713l3 19M1039 732l-22 -7"/><path class="c51" d="M406 484l35 10l10 34l-34 -10zM477 504l36 10l9 34l-36 -10zM550 524l37 11l8 34l-37 -10zM625 546l38 10l7 35l-38 -11zM702 567l40 12l5 34l-39 -11zM782 590l40 12l5 34l-40 -11zM864 613l42 12l3 35l-41 -12zM948 641l43 26l3 28l-43 -21z"/><path class="c53" d="M441 494l36 10l9 34l-35 -10zM513 514l37 10l8 35l-36 -11zM587 535l38 11l7 34l-37 -11zM663 556l39 11l6 35l-38 -11zM742 579l40 11l5 35l-40 -12zM822 602l42 11l4 35l-41 -12zM906 625l21 6l3 35l-21 -6zM927 631l21 10l3 33l-21 -8zM991 667l21 12l3 26l-21 -10zM1012 679l22 8l2 26l-21 -8z"/><path class="m" d="M441 494l10 34M417 518l-11 -34M477 504l9 34M451 528l-10 -34M513 514l9 34M486 538l-9 -34M550 524l8 35M522 548l-9 -34M587 535l8 34M558 559l-8 -35M625 546l7 34M595 569l-8 -34M663 556l7 35M632 580l-7 -34M702 567l6 35M670 591l-7 -35M742 579l5 34M708 602l-6 -35M782 590l5 35M747 613l-5 -34M822 602l5 34M787 625l-5 -35M864 613l4 35M827 636l-5 -34M906 625l3 35M868 648l-4 -35M909 660l-3 -35M948 641l3 33M991 667l3 28M951 674l-3 -33M994 695l-3 -28M1034 687l2 26"/><path class="c51" d="M397 464l36 10l8 20l-35 -10zM469 484l36 10l8 20l-36 -10zM542 505l38 10l7 20l-37 -11zM618 526l38 11l7 19l-38 -10zM696 548l40 11l6 20l-40 -12zM776 570l41 12l5 20l-40 -12zM859 593l43 12l4 20l-42 -12z"/><path class="c53" d="M433 474l36 10l8 20l-36 -10zM505 494l37 11l8 19l-37 -10zM580 515l38 11l7 20l-38 -11zM656 537l40 11l6 19l-39 -11zM736 559l40 11l6 20l-40 -11zM817 582l42 11l5 20l-42 -11zM902 605l21 6l4 20l-21 -6zM923 611l22 11l3 19l-21 -10z"/><path class="c50" d="M945 622l43 32l3 13l-43 -26z"/><path class="c73" d="M988 654l21 14l3 11l-21 -12z"/><path class="c74" d="M1009 668l22 10l3 9l-22 -8z"/><path class="m" d="M433 474l8 20M406 484l-9 -20M469 484l8 20M441 494l-8 -20M505 494l8 20M477 504l-8 -20M542 505l8 19M513 514l-8 -20M580 515l7 20M550 524l-8 -19M618 526l7 20M587 535l-7 -20M656 537l7 19M625 546l-7 -20M696 548l6 19M663 556l-7 -19M736 559l6 20M702 567l-6 -19M776 570l6 20M742 579l-6 -20M817 582l5 20M782 590l-6 -20M859 593l5 20M822 602l-5 -20M902 605l4 20M864 613l-5 -20M906 625l-4 -20M945 622l3 19M988 654l3 13M948 641l-3 -19M991 667l-3 -13M1031 678l3 9"/><path class="c21" d="M389 454l36 10l8 10l-36 -10zM461 474l37 10l7 10l-36 -10zM535 495l38 10l7 10l-38 -10zM611 516l39 11l6 10l-38 -11zM690 538l40 11l6 10l-40 -11zM771 560l41 12l5 10l-41 -12zM854 583l43 12l5 10l-43 -12zM941 614l21 18l4 5l-21 -15z"/><path class="c74" d="M425 464l36 10l8 10l-36 -10zM498 484l37 11l7 10l-37 -11zM573 505l38 11l7 10l-38 -11zM650 527l40 11l6 10l-40 -11zM730 549l41 11l5 10l-40 -11zM812 572l42 11l5 10l-42 -11zM897 595l22 7l4 9l-21 -6zM919 602l22 12l4 8l-22 -11z"/><path class="c22" d="M962 632l21 19l5 3l-22 -17z"/><path class="c59" d="M983 651l22 17l4 0l-21 -14z"/><path class="c78" d="M1005 668l22 11l4 -1l-22 -10z"/><path class="m" d="M389 454l36 10M425 464l8 10M397 464l-8 -10M425 464l36 10M461 474l8 10M433 474l-8 -10M461 474l37 10M498 484l7 10M469 484l-8 -10M498 484l37 11M535 495l7 10M505 494l-7 -10M535 495l38 10M573 505l7 10M542 505l-7 -10M573 505l38 11M611 516l7 10M580 515l-7 -10M611 516l39 11M650 527l6 10M618 526l-7 -10M650 527l40 11M690 538l6 10M656 537l-6 -10M690 538l40 11M730 549l6 10M696 548l-6 -10M730 549l41 11M771 560l5 10M736 559l-6 -10M771 560l41 12M812 572l5 10M776 570l-5 -10M812 572l42 11M854 583l5 10M817 582l-5 -10M854 583l43 12M897 595l5 10M859 593l-5 -10M897 595l22 7M902 605l-5 -10M919 602l22 12M941 614l4 8M941 614l21 18M945 622l-4 -8M962 632l21 19M983 651l5 3M983 651l22 17M988 654l-5 -3M1005 668l22 11M1027 679l4 -1"/><path class="c38" d="M383 460l36 10l6 -6l-36 -10zM455 480l37 10l6 -6l-37 -10zM529 500l38 11l6 -6l-38 -10zM605 522l39 11l6 -6l-39 -11zM684 544l40 11l6 -6l-40 -11zM765 566l42 12l5 -6l-41 -12zM849 590l43 12l5 -7l-43 -12z"/><path class="c27" d="M419 470l36 10l6 -6l-36 -10zM492 490l37 10l6 -5l-37 -11zM567 511l38 11l6 -6l-38 -11zM644 533l40 11l6 -6l-40 -11zM724 555l41 11l6 -6l-41 -11zM807 578l42 12l5 -7l-42 -11zM892 602l22 6l5 -6l-22 -7z"/><path class="c44" d="M914 608l22 13l5 -7l-22 -12z"/><path class="c24" d="M936 621l21 20l5 -9l-21 -18z"/><path class="c71" d="M957 641l21 21l5 -11l-21 -19z"/><path class="c35" d="M978 662l22 19l5 -13l-22 -17zM1000 681l22 12l5 -14l-22 -11z"/><path class="m" d="M419 470l6 -6M425 464l-36 -10M389 454l-6 6M455 480l6 -6M461 474l-36 -10M425 464l-6 6M492 490l6 -6M498 484l-37 -10M461 474l-6 6M529 500l6 -5M535 495l-37 -11M498 484l-6 6M567 511l6 -6M573 505l-38 -10M535 495l-6 5M605 522l6 -6M611 516l-38 -11M573 505l-6 6M644 533l6 -6M650 527l-39 -11M611 516l-6 6M684 544l6 -6M690 538l-40 -11M650 527l-6 6M724 555l6 -6M730 549l-40 -11M690 538l-6 6M765 566l6 -6M771 560l-41 -11M730 549l-6 6M807 578l5 -6M812 572l-41 -12M771 560l-6 6M849 590l5 -7M854 583l-42 -11M812 572l-5 6M892 602l5 -7M897 595l-43 -12M854 583l-5 7M919 602l-22 -7M897 595l-5 7M936 621l5 -7M941 614l-22 -12M962 632l-21 -18M941 614l-5 7M978 662l5 -11M983 651l-21 -19M1005 668l-22 -17M983 651l-5 11M1022 693l5 -14M1027 679l-22 -11"/><path class="c38" d="M376 465l36 10l7 -5l-36 -10zM449 485l36 10l7 -5l-37 -10zM523 506l38 11l6 -6l-38 -11zM599 528l40 11l5 -6l-39 -11zM678 550l41 11l5 -6l-40 -11zM760 573l42 11l5 -6l-42 -12zM844 596l43 12l5 -6l-43 -12z"/><path class="c27" d="M412 475l37 10l6 -5l-36 -10zM485 495l38 11l6 -6l-37 -10zM561 517l38 11l6 -6l-38 -11zM639 539l39 11l6 -6l-40 -11zM719 561l41 12l5 -7l-41 -11zM802 584l42 12l5 -6l-42 -12zM887 608l22 7l5 -7l-22 -6z"/><path class="c44" d="M909 615l22 13l5 -7l-22 -13z"/><path class="c26" d="M931 628l21 20l5 -7l-21 -20z"/><path class="c24" d="M952 648l21 23l5 -9l-21 -21z"/><path class="c25" d="M973 671l22 19l5 -9l-22 -19zM995 690l22 12l5 -9l-22 -12z"/><path class="m" d="M412 475l7 -5M383 460l-7 5M449 485l6 -5M419 470l-7 5M485 495l7 -5M455 480l-6 5M523 506l6 -6M492 490l-7 5M561 517l6 -6M529 500l-6 6M599 528l6 -6M567 511l-6 6M639 539l5 -6M605 522l-6 6M678 550l6 -6M644 533l-5 6M719 561l5 -6M684 544l-6 6M760 573l5 -7M724 555l-5 6M802 584l5 -6M765 566l-5 7M844 596l5 -6M807 578l-5 6M887 608l5 -6M849 590l-5 6M892 602l-5 6M931 628l5 -7M936 621l-5 7M973 671l5 -9M978 662l-5 9M1017 702l5 -9"/><path class="c36" d="M370 470l18 5l6 -5l-18 -5z"/><path class="c38" d="M388 475l18 5l6 -5l-18 -5zM442 490l37 11l6 -6l-36 -10zM517 512l38 11l6 -6l-38 -11zM594 533l39 11l6 -5l-40 -11zM673 556l40 11l6 -6l-41 -11zM754 579l42 12l6 -7l-42 -11zM839 603l43 12l5 -7l-43 -12zM926 634l43 41l4 -4l-42 -43z"/><path class="c27" d="M406 480l36 10l7 -5l-37 -10zM479 501l38 11l6 -6l-38 -11zM555 523l39 10l5 -5l-38 -11zM633 544l40 12l5 -6l-39 -11zM713 567l41 12l6 -6l-41 -12zM796 591l43 12l5 -7l-42 -12zM882 615l22 6l5 -6l-22 -7z"/><path class="c44" d="M904 621l22 13l5 -6l-22 -13z"/><path class="c37" d="M969 675l21 19l5 -4l-22 -19z"/><path class="c28" d="M990 694l22 12l5 -4l-22 -12z"/><path class="m" d="M376 465l-6 5M406 480l6 -5M442 490l7 -5M412 475l-6 5M479 501l6 -6M449 485l-7 5M517 512l6 -6M485 495l-6 6M555 523l6 -6M523 506l-6 6M594 533l5 -5M561 517l-6 6M633 544l6 -5M599 528l-5 5M673 556l5 -6M639 539l-6 5M713 567l6 -6M678 550l-5 6M754 579l6 -6M719 561l-6 6M796 591l6 -7M760 573l-6 6M839 603l5 -7M802 584l-6 7M882 615l5 -7M844 596l-5 7M887 608l-5 7M926 634l5 -6M969 675l4 -4M931 628l-5 6M973 671l-4 4M1012 706l5 -4"/><path class="c26" d="M364 476l36 11l6 -7l-36 -10zM436 497l37 11l6 -7l-37 -11zM511 519l38 11l6 -7l-38 -11zM588 541l39 12l6 -9l-39 -11zM667 564l41 11l5 -8l-40 -11zM749 587l42 12l5 -8l-42 -12zM833 611l44 12l5 -8l-43 -12zM920 642l22 18l5 -6l-21 -20z"/><path class="c44" d="M400 487l36 10l6 -7l-36 -10zM473 508l38 11l6 -7l-38 -11zM549 530l39 11l6 -8l-39 -10zM627 553l40 11l6 -8l-40 -12zM708 575l41 12l5 -8l-41 -12zM791 599l42 12l6 -8l-43 -12zM877 623l22 7l5 -9l-22 -6z"/><path class="c25" d="M899 630l21 12l6 -8l-22 -13z"/><path class="c38" d="M942 660l22 19l5 -4l-22 -21z"/><path class="c28" d="M964 679l22 17l4 -2l-21 -19z"/><path class="c29" d="M986 696l22 11l4 -1l-22 -12z"/><path class="m" d="M364 476l36 11M400 487l6 -7M370 470l-6 6M400 487l36 10M436 497l6 -7M406 480l-6 7M436 497l37 11M473 508l6 -7M442 490l-6 7M473 508l38 11M511 519l6 -7M479 501l-6 7M511 519l38 11M549 530l6 -7M517 512l-6 7M549 530l39 11M588 541l6 -8M555 523l-6 7M588 541l39 12M627 553l6 -9M594 533l-6 8M627 553l40 11M667 564l6 -8M633 544l-6 9M667 564l41 11M708 575l5 -8M673 556l-6 8M708 575l41 12M749 587l5 -8M713 567l-5 8M749 587l42 12M791 599l5 -8M754 579l-5 8M791 599l42 12M833 611l6 -8M796 591l-5 8M833 611l44 12M877 623l5 -8M839 603l-6 8M877 623l22 7M882 615l-5 8M899 630l21 12M920 642l6 -8M920 642l22 18M926 634l-6 8M942 660l22 19M964 679l5 -4M964 679l22 17M969 675l-5 4M986 696l22 11M1008 707l4 -1"/><path class="c45" d="M357 485l36 10l7 -8l-36 -11zM430 506l37 12l6 -10l-37 -11zM505 530l38 11l6 -11l-38 -11zM582 552l39 11l6 -10l-39 -12zM661 575l41 12l6 -12l-41 -11zM743 598l42 12l6 -11l-42 -12zM828 623l43 12l6 -12l-44 -12zM915 652l22 16l5 -8l-22 -18z"/><path class="c60" d="M393 495l37 11l6 -9l-36 -10zM467 518l38 12l6 -11l-38 -11zM543 541l39 11l6 -11l-39 -11zM621 563l40 12l6 -11l-40 -11zM702 587l41 11l6 -11l-41 -12zM785 610l43 13l5 -12l-42 -12z"/><path class="c64" d="M871 635l22 6l6 -11l-22 -7zM893 641l22 11l5 -10l-21 -12z"/><path class="c61" d="M937 668l22 16l5 -5l-22 -19z"/><path class="c10" d="M959 684l22 15l5 -3l-22 -17z"/><path class="c13" d="M981 699l22 10l5 -2l-22 -11z"/><path class="m" d="M393 495l7 -8M400 487l-36 -11M364 476l-7 9M430 506l6 -9M436 497l-36 -10M400 487l-7 8M467 518l6 -10M473 508l-37 -11M436 497l-6 9M505 530l6 -11M511 519l-38 -11M473 508l-6 10M543 541l6 -11M549 530l-38 -11M511 519l-6 11M582 552l6 -11M588 541l-39 -11M549 530l-6 11M621 563l6 -10M627 553l-39 -12M588 541l-6 11M661 575l6 -11M667 564l-40 -11M627 553l-6 10M702 587l6 -12M708 575l-41 -11M667 564l-6 11M743 598l6 -11M749 587l-41 -12M708 575l-6 12M785 610l6 -11M791 599l-42 -12M749 587l-6 11M828 623l5 -12M833 611l-42 -12M791 599l-6 11M871 635l6 -12M877 623l-44 -12M833 611l-5 12M899 630l-22 -7M877 623l-6 12M915 652l5 -10M920 642l-21 -12M942 660l-22 -18M920 642l-5 10M959 684l5 -5M964 679l-22 -19M986 696l-22 -17M964 679l-5 5M1003 709l5 -2M1008 707l-22 -11"/><path class="c65" d="M352 500l36 11l5 -16l-36 -10zM425 523l37 12l5 -17l-37 -12zM500 548l38 12l5 -19l-38 -11zM577 571l39 12l5 -20l-39 -11zM656 594l41 12l5 -19l-41 -12zM738 618l42 12l5 -20l-42 -12zM822 643l44 12l5 -20l-43 -12zM910 671l44 26l5 -13l-44 -32z"/><path class="c64" d="M388 511l37 12l5 -17l-37 -11zM462 535l38 13l5 -18l-38 -12zM538 560l39 11l5 -19l-39 -11zM616 583l40 11l5 -19l-40 -12zM697 606l41 12l5 -20l-41 -11zM780 630l42 13l6 -20l-43 -13zM866 655l22 7l5 -21l-22 -6zM888 662l22 9l5 -19l-22 -11zM954 697l22 13l5 -11l-22 -15zM976 710l22 9l5 -10l-22 -10z"/><path class="m" d="M388 511l5 -16M357 485l-5 15M425 523l5 -17M393 495l-5 16M462 535l5 -17M430 506l-5 17M500 548l5 -18M467 518l-5 17M538 560l5 -19M505 530l-5 18M577 571l5 -19M543 541l-5 19M616 583l5 -20M582 552l-5 19M656 594l5 -19M621 563l-5 20M697 606l5 -19M661 575l-5 19M738 618l5 -20M702 587l-5 19M780 630l5 -20M743 598l-5 20M822 643l6 -20M785 610l-5 20M866 655l5 -20M828 623l-6 20M871 635l-5 20M910 671l5 -19M954 697l5 -13M915 652l-5 19M959 684l-5 13M998 719l5 -10"/><path class="c6" d="M349 529l36 12l3 -30l-36 -11zM421 554l37 15l4 -34l-37 -12zM903 708l44 21l7 -32l-44 -26z"/><path class="c7" d="M385 541l36 13l4 -31l-37 -12zM458 569l10 3l3 -33l-9 -4z"/><path class="c8" d="M468 572l28 11l4 -35l-29 -9zM534 596l39 11l4 -36l-39 -11zM612 619l39 12l5 -37l-40 -11zM692 643l41 12l5 -37l-41 -12zM774 668l43 12l5 -37l-42 -13zM860 693l22 7l6 -38l-22 -7zM882 700l21 8l7 -37l-22 -9z"/><path class="c9" d="M496 583l38 13l4 -36l-38 -12zM573 607l39 12l4 -36l-39 -12zM651 631l41 12l5 -37l-41 -12zM733 655l41 13l6 -38l-42 -12zM817 680l43 13l6 -38l-44 -12z"/><path class="c46" d="M947 729l23 11l6 -30l-22 -13zM970 740l22 8l6 -29l-22 -9z"/><path class="m" d="M385 541l3 -30M352 500l-3 29M421 554l4 -31M388 511l-3 30M458 569l4 -34M425 523l-4 31M462 535l-4 34M496 583l4 -35M534 596l4 -36M500 548l-4 35M573 607l4 -36M538 560l-4 36M612 619l4 -36M577 571l-4 36M651 631l5 -37M616 583l-4 36M692 643l5 -37M656 594l-5 37M733 655l5 -37M697 606l-5 37M774 668l6 -38M738 618l-5 37M817 680l5 -37M780 630l-6 38M860 693l6 -38M822 643l-5 37M866 655l-6 38M903 708l7 -37M947 729l7 -32M910 671l-7 37M954 697l-7 32M992 748l6 -29"/><path class="c11" d="M346 566l36 13l3 -38l-36 -12zM419 595l37 17l2 -43l-37 -15zM897 756l44 18l6 -45l-44 -21z"/><path class="c10" d="M382 579l37 16l2 -41l-36 -13zM456 612l19 8l2 -44l-19 -7zM941 774l44 17l7 -43l-45 -19z"/><path class="c12" d="M475 620l18 8l3 -45l-19 -7zM531 643l38 11l4 -47l-39 -11zM608 666l39 12l4 -47l-39 -12zM687 691l41 12l5 -48l-41 -12zM769 716l42 13l6 -49l-43 -12zM854 742l43 14l6 -48l-43 -15z"/><path class="c18" d="M493 628l38 15l3 -47l-38 -13zM569 654l39 12l4 -47l-39 -12zM647 678l40 13l5 -48l-41 -12zM728 703l41 13l5 -48l-41 -13zM811 729l43 13l6 -49l-43 -13z"/><path class="m" d="M346 566l36 13M382 579l3 -38M349 529l-3 37M382 579l37 16M419 595l2 -41M385 541l-3 38M419 595l37 17M456 612l2 -43M421 554l-2 41M456 612l19 8M458 569l-2 43M475 620l18 8M493 628l3 -45M493 628l38 15M531 643l3 -47M496 583l-3 45M531 643l38 11M569 654l4 -47M534 596l-3 47M569 654l39 12M608 666l4 -47M573 607l-4 47M608 666l39 12M647 678l4 -47M612 619l-4 47M647 678l40 13M687 691l5 -48M651 631l-4 47M687 691l41 12M728 703l5 -48M692 643l-5 48M728 703l41 13M769 716l5 -48M733 655l-5 48M769 716l42 13M811 729l6 -49M774 668l-5 48M811 729l43 13M854 742l6 -49M817 680l-6 49M854 742l43 14M897 756l6 -48M860 693l-6 49M897 756l44 18M941 774l6 -45M903 708l-6 48M941 774l44 17M985 791l7 -43M947 729l-6 45"/><path class="c26" d="M342 591l36 14l4 -26l-36 -13zM415 623l18 10l4 -30l-18 -8z"/><path class="c44" d="M378 605l37 18l4 -28l-37 -16z"/><path class="c38" d="M433 633l19 10l4 -31l-19 -9z"/><path class="c27" d="M452 643l28 15l4 -34l-28 -12zM934 810l45 15l6 -34l-44 -17z"/><path class="c37" d="M480 658l10 5l3 -35l-9 -4zM528 679l37 12l4 -37l-38 -11zM604 703l39 12l4 -37l-39 -12zM683 728l40 12l5 -37l-41 -12zM764 753l42 13l5 -37l-42 -13zM848 780l43 14l6 -38l-43 -14z"/><path class="c36" d="M490 663l38 16l3 -36l-38 -15zM565 691l39 12l4 -37l-39 -12zM643 715l40 13l4 -37l-40 -13zM723 740l41 13l5 -37l-41 -13zM806 766l42 14l6 -38l-43 -13zM891 794l43 16l7 -36l-44 -18z"/><path class="m" d="M378 605l4 -26M382 579l-36 -13M346 566l-4 25M415 623l4 -28M419 595l-37 -16M382 579l-4 26M437 603l-18 -8M419 595l-4 28M452 643l4 -31M456 612l-19 -9M484 624l-28 -12M456 612l-4 31M490 663l3 -35M493 628l-9 -4M528 679l3 -36M531 643l-38 -15M493 628l-3 35M565 691l4 -37M569 654l-38 -11M531 643l-3 36M604 703l4 -37M608 666l-39 -12M569 654l-4 37M643 715l4 -37M647 678l-39 -12M608 666l-4 37M683 728l4 -37M687 691l-40 -13M647 678l-4 37M723 740l5 -37M728 703l-41 -12M687 691l-4 37M764 753l5 -37M769 716l-41 -13M728 703l-5 37M806 766l5 -37M811 729l-42 -13M769 716l-5 37M848 780l6 -38M854 742l-43 -13M811 729l-5 37M891 794l6 -38M897 756l-43 -14M854 742l-6 38M934 810l7 -36M941 774l-44 -18M897 756l-6 38M979 825l6 -34M985 791l-44 -17M941 774l-7 36"/><path class="c71" d="M337 607l36 16l5 -18l-36 -14zM410 645l10 6l4 -23l-9 -5z"/><path class="c35" d="M373 623l37 22l5 -22l-37 -18z"/><path class="c24" d="M420 651l28 18l4 -26l-28 -15z"/><path class="c25" d="M448 669l9 6l5 -27l-10 -5z"/><path class="c44" d="M457 675l29 17l4 -29l-28 -15z"/><path class="c26" d="M486 692l9 5l4 -30l-9 -4z"/><path class="c38" d="M495 697l29 12l4 -30l-29 -12zM561 722l39 12l4 -31l-39 -12zM638 746l40 13l5 -31l-40 -13zM718 772l41 13l5 -32l-41 -13zM800 798l42 14l6 -32l-42 -14zM885 826l43 15l6 -31l-43 -16z"/><path class="c27" d="M524 709l37 13l4 -31l-37 -12zM600 734l38 12l5 -31l-39 -12zM678 759l40 13l5 -32l-40 -12zM759 785l41 13l6 -32l-42 -13zM842 812l43 14l6 -32l-43 -14zM928 841l44 15l7 -31l-45 -15z"/><path class="m" d="M373 623l5 -18M342 591l-5 16M410 645l5 -22M378 605l-5 18M415 623l-5 22M448 669l4 -26M452 643l-4 26M486 692l4 -29M490 663l-4 29M524 709l4 -30M561 722l4 -31M528 679l-4 30M600 734l4 -31M565 691l-4 31M638 746l5 -31M604 703l-4 31M678 759l5 -31M643 715l-5 31M718 772l5 -32M683 728l-5 31M759 785l5 -32M723 740l-5 32M800 798l6 -32M764 753l-5 32M842 812l6 -32M806 766l-6 32M885 826l6 -32M848 780l-6 32M928 841l6 -31M891 794l-6 32M972 856l7 -31M934 810l-6 31"/><path class="c24" d="M331 617l18 7l6 -10l-18 -7zM491 719l28 14l5 -24l-29 -12zM557 745l38 13l5 -24l-39 -12zM634 770l39 13l5 -24l-40 -13zM713 796l40 13l6 -24l-41 -13zM795 823l42 13l5 -24l-42 -14zM879 850l44 15l5 -24l-43 -15z"/><path class="c71" d="M349 624l18 10l6 -11l-18 -9zM405 659l38 28l5 -18l-38 -24zM481 713l10 6l4 -22l-9 -5z"/><path class="c35" d="M367 634l38 25l5 -14l-37 -22zM443 687l38 26l5 -21l-38 -23z"/><path class="c25" d="M519 733l38 12l4 -23l-37 -13zM595 758l39 12l4 -24l-38 -12zM673 783l40 13l5 -24l-40 -13zM753 809l42 14l5 -25l-41 -13zM837 836l42 14l6 -24l-43 -14zM923 865l43 15l6 -24l-44 -15z"/><path class="m" d="M337 607l-6 10M367 634l6 -11M405 659l5 -14M373 623l-6 11M443 687l5 -18M410 645l-5 14M481 713l5 -21M448 669l-5 18M486 692l-5 21M519 733l5 -24M557 745l4 -23M524 709l-5 24M595 758l5 -24M561 722l-4 23M634 770l4 -24M600 734l-5 24M673 783l5 -24M638 746l-4 24M713 796l5 -24M678 759l-5 24M753 809l6 -24M718 772l-5 24M795 823l5 -25M759 785l-6 24M837 836l5 -24M800 798l-5 25M879 850l6 -24M842 812l-5 24M923 865l5 -24M885 826l-6 24M966 880l6 -24M928 841l-5 24"/><path class="c34" d="M324 618l18 8l7 -2l-18 -7z"/><path class="c49" d="M342 626l18 10l7 -2l-18 -10z"/><path class="c28" d="M360 636l19 13l7 -4l-19 -11z"/><path class="c27" d="M379 649l19 15l7 -5l-19 -14z"/><path class="c26" d="M398 664l10 8l6 -7l-9 -6z"/><path class="c24" d="M408 672l19 16l6 -8l-19 -15z"/><path class="c71" d="M427 688l10 8l6 -9l-10 -7zM476 725l37 21l6 -13l-38 -20zM551 759l38 12l6 -13l-38 -13zM628 784l39 13l6 -14l-39 -13zM707 810l41 14l5 -15l-40 -13zM789 837l42 14l6 -15l-42 -13zM874 865l43 15l6 -15l-44 -15z"/><path class="c35" d="M437 696l39 29l5 -12l-38 -26zM513 746l38 13l6 -14l-38 -12zM589 771l39 13l6 -14l-39 -12zM667 797l40 13l6 -14l-40 -13zM748 824l41 13l6 -14l-42 -14zM831 851l43 14l5 -15l-42 -14zM917 880l44 14l5 -14l-43 -15z"/><path class="m" d="M324 618l18 8M331 617l-7 1M342 626l18 10M360 636l7 -2M360 636l19 13M367 634l-7 2M379 649l19 15M398 664l7 -5M398 664l10 8M405 659l-7 5M408 672l19 16M427 688l10 8M437 696l6 -9M437 696l39 29M476 725l5 -12M443 687l-6 9M476 725l37 21M513 746l6 -13M481 713l-5 12M513 746l38 13M551 759l6 -14M519 733l-6 13M551 759l38 12M589 771l6 -13M557 745l-6 14M589 771l39 13M628 784l6 -14M595 758l-6 13M628 784l39 13M667 797l6 -14M634 770l-6 14M667 797l40 13M707 810l6 -14M673 783l-6 14M707 810l41 14M748 824l5 -15M713 796l-6 14M748 824l41 13M789 837l6 -14M753 809l-5 15M789 837l42 14M831 851l6 -15M795 823l-6 14M831 851l43 14M874 865l5 -15M837 836l-6 15M874 865l43 15M917 880l6 -15M879 850l-5 15M917 880l44 14M961 894l5 -14M923 865l-6 15"/><path class="c15" d="M317 619l18 8l7 -1l-18 -8z"/><path class="c17" d="M335 627l18 11l7 -2l-18 -10z"/><path class="c12" d="M353 638l19 14l7 -3l-19 -13z"/><path class="c10" d="M372 652l20 16l6 -4l-19 -15z"/><path class="c9" d="M392 668l19 16l7 -4l-20 -16z"/><path class="c6" d="M411 684l20 17l6 -5l-19 -16z"/><path class="c46" d="M431 701l29 24l6 -7l-29 -22zM508 755l37 12l6 -8l-38 -13zM584 780l38 13l6 -9l-39 -13zM662 806l40 13l5 -9l-40 -13zM743 833l41 14l5 -10l-41 -13zM826 860l43 15l5 -10l-43 -14zM912 889l44 15l5 -10l-44 -14z"/><path class="c60" d="M460 725l9 7l7 -7l-10 -7z"/><path class="c45" d="M469 732l39 23l5 -9l-37 -21z"/><path class="c61" d="M545 767l39 13l5 -9l-38 -12zM622 793l40 13l5 -9l-39 -13zM702 819l41 14l5 -9l-41 -14zM784 847l42 13l5 -9l-42 -14zM869 875l43 14l5 -9l-43 -15z"/><path class="m" d="M342 626l-18 -8M324 618l-7 1M353 638l7 -2M360 636l-18 -10M379 649l-19 -13M360 636l-7 2M392 668l6 -4M398 664l-19 -15M418 680l-20 -16M398 664l-6 4M431 701l6 -5M437 696l-19 -16M466 718l-29 -22M437 696l-6 5M469 732l7 -7M476 725l-10 -7M508 755l5 -9M513 746l-37 -21M476 725l-7 7M545 767l6 -8M551 759l-38 -13M513 746l-5 9M584 780l5 -9M589 771l-38 -12M551 759l-6 8M622 793l6 -9M628 784l-39 -13M589 771l-5 9M662 806l5 -9M667 797l-39 -13M628 784l-6 9M702 819l5 -9M707 810l-40 -13M667 797l-5 9M743 833l5 -9M748 824l-41 -14M707 810l-5 9M784 847l5 -10M789 837l-41 -13M748 824l-5 9M826 860l5 -9M831 851l-42 -14M789 837l-5 10M869 875l5 -10M874 865l-43 -14M831 851l-5 9M912 889l5 -9M917 880l-43 -15M874 865l-5 10M956 904l5 -10M961 894l-44 -14M917 880l-5 9"/><path class="c22" d="M308 615l18 7l9 5l-18 -8zM497 750l4 1l7 4l-4 -2zM538 764l39 13l7 3l-39 -13zM616 790l40 13l6 3l-40 -13zM696 817l41 13l6 3l-41 -14zM778 844l43 14l5 2l-42 -13zM864 872l43 15l5 2l-43 -14z"/><path class="c85" d="M326 622l19 12l8 4l-18 -11z"/><path class="c63" d="M345 634l39 30l8 4l-39 -30zM423 698l39 31l7 3l-38 -31z"/><path class="c86" d="M384 664l39 34l8 3l-39 -33zM462 729l35 21l7 3l-35 -21z"/><path class="c20" d="M501 751l37 13l7 3l-37 -12zM577 777l39 13l6 3l-38 -13zM656 803l40 14l6 2l-40 -13zM737 830l41 14l6 3l-41 -14zM821 858l43 14l5 3l-43 -15zM907 887l45 14l4 3l-44 -15z"/><path class="m" d="M317 619l-9 -4M345 634l8 4M384 664l8 4M353 638l-8 -4M423 698l8 3M392 668l-8 -4M462 729l7 3M431 701l-8 -3M469 732l-7 -3M501 751l7 4M538 764l7 3M508 755l-7 -4M577 777l7 3M545 767l-7 -3M616 790l6 3M584 780l-7 -3M656 803l6 3M622 793l-6 -3M696 817l6 2M662 806l-6 -3M737 830l6 3M702 819l-6 -2M778 844l6 3M743 833l-6 -3M821 858l5 2M784 847l-6 -3M864 872l5 3M826 860l-5 -2M907 887l5 2M869 875l-5 -3M952 901l4 3M912 889l-5 -2"/><path class="c21" d="M300 608l18 7l8 7l-18 -7zM318 615l19 11l8 8l-19 -12zM375 655l40 32l8 11l-39 -34z"/><path class="c74" d="M337 626l38 29l9 9l-39 -30zM415 687l19 16l9 11l-20 -16z"/><path class="c73" d="M434 703l20 15l8 11l-19 -15zM493 740l38 12l7 12l-37 -13zM570 765l39 13l7 12l-39 -13zM649 791l41 14l6 12l-40 -14zM731 818l42 14l5 12l-41 -14zM815 846l44 15l5 11l-43 -14zM903 875l45 15l4 11l-45 -14z"/><path class="c50" d="M454 718l39 22l8 11l-39 -22zM531 752l39 13l7 12l-39 -13zM609 778l40 13l7 12l-40 -13zM690 805l41 13l6 12l-41 -13zM773 832l42 14l6 12l-43 -14zM859 861l44 14l4 12l-43 -15z"/><path class="m" d="M308 615l-8 -7M337 626l8 8M375 655l9 9M345 634l-8 -8M415 687l8 11M384 664l-9 -9M423 698l-8 -11M454 718l8 11M493 740l8 11M462 729l-8 -11M531 752l7 12M501 751l-8 -11M570 765l7 12M538 764l-7 -12M609 778l7 12M577 777l-7 -12M649 791l7 12M616 790l-7 -12M690 805l6 12M656 803l-7 -12M731 818l6 12M696 817l-6 -12M773 832l5 12M737 830l-6 -12M815 846l6 12M778 844l-5 -12M859 861l5 11M821 858l-6 -12M903 875l4 12M864 872l-5 -11M948 890l4 11M907 887l-4 -12"/><path class="c21" d="M291 600l18 7l9 8l-18 -7zM309 607l19 10l9 9l-19 -11z"/><path class="c74" d="M328 617l39 26l8 12l-38 -29z"/><path class="c50" d="M367 643l39 30l9 14l-40 -32z"/><path class="c73" d="M406 673l39 28l9 17l-39 -31z"/><path class="c51" d="M445 701l39 20l9 19l-39 -22zM523 734l39 13l8 18l-39 -13zM601 760l41 13l7 18l-40 -13zM683 787l42 13l6 18l-41 -13zM767 814l43 14l5 18l-42 -14zM854 842l45 15l4 18l-44 -14z"/><path class="c53" d="M484 721l39 13l8 18l-38 -12zM562 747l39 13l8 18l-39 -13zM642 773l41 14l7 18l-41 -14zM725 800l42 14l6 18l-42 -14zM810 828l44 14l5 19l-44 -15zM899 857l45 15l4 18l-45 -15z"/><path class="m" d="M291 600l18 7M300 608l-9 -8M309 607l19 10M328 617l9 9M328 617l39 26M367 643l8 12M337 626l-9 -9M367 643l39 30M406 673l9 14M375 655l-8 -12M406 673l39 28M445 701l9 17M415 687l-9 -14M445 701l39 20M484 721l9 19M454 718l-9 -17M484 721l39 13M523 734l8 18M493 740l-9 -19M523 734l39 13M562 747l8 18M531 752l-8 -18M562 747l39 13M601 760l8 18M570 765l-8 -18M601 760l41 13M642 773l7 18M609 778l-8 -18M642 773l41 14M683 787l7 18M649 791l-7 -18M683 787l42 13M725 800l6 18M690 805l-7 -18M725 800l42 14M767 814l6 18M731 818l-6 -18M767 814l43 14M810 828l5 18M773 832l-6 -18M810 828l44 14M854 842l5 19M815 846l-5 -18M854 842l45 15M899 857l4 18M859 861l-5 -19M899 857l45 15M944 872l4 18M903 875l-4 -18"/><path class="c2" d="M280 579l18 7l11 21l-18 -7zM298 586l19 9l11 22l-19 -10zM356 618l39 26l11 29l-39 -30zM434 669l40 19l10 33l-39 -20zM513 700l40 13l9 34l-39 -13zM593 726l41 13l8 34l-41 -13zM676 753l42 13l7 34l-42 -13zM761 780l44 14l5 34l-43 -14zM849 808l46 15l4 34l-45 -15z"/><path class="c3" d="M317 595l39 23l11 25l-39 -26zM395 644l39 25l11 32l-39 -28zM474 688l39 12l10 34l-39 -13zM553 713l40 13l8 34l-39 -13zM634 739l42 14l7 34l-41 -14zM718 766l43 14l6 34l-42 -14zM805 794l44 14l5 34l-44 -14zM895 823l46 14l3 35l-45 -15z"/><path class="m" d="M309 607l-18 -7M291 600l-11 -21M317 595l11 22M328 617l-19 -10M356 618l11 25M367 643l-39 -26M328 617l-11 -22M395 644l11 29M406 673l-39 -30M367 643l-11 -25M434 669l11 32M445 701l-39 -28M406 673l-11 -29M474 688l10 33M484 721l-39 -20M445 701l-11 -32M513 700l10 34M523 734l-39 -13M484 721l-10 -33M553 713l9 34M562 747l-39 -13M523 734l-10 -34M593 726l8 34M601 760l-39 -13M562 747l-9 -34M634 739l8 34M642 773l-41 -13M601 760l-8 -34M676 753l7 34M683 787l-41 -14M642 773l-8 -34M718 766l7 34M725 800l-42 -13M683 787l-7 -34M761 780l6 34M767 814l-42 -14M725 800l-7 -34M805 794l5 34M810 828l-43 -14M767 814l-6 -34M849 808l5 34M854 842l-44 -14M810 828l-5 -34M895 823l4 34M899 857l-45 -15M854 842l-5 -34M941 837l3 35M944 872l-45 -15M899 857l-4 -34"/><path class="c58" d="M269 565l38 15l10 15l-37 -16z"/><path class="c54" d="M307 580l19 9l10 17l-19 -11z"/><path class="c3" d="M326 589l19 11l11 18l-20 -12zM385 622l39 21l10 26l-39 -25zM464 660l39 12l10 28l-39 -12zM544 685l40 13l9 28l-40 -13zM626 711l42 13l8 29l-42 -14zM711 738l44 14l6 28l-43 -14zM799 766l45 14l5 28l-44 -14zM890 794l47 15l4 28l-46 -14z"/><path class="c2" d="M345 600l40 22l10 22l-39 -26zM424 643l40 17l10 28l-40 -19zM503 672l41 13l9 28l-40 -13zM584 698l42 13l8 28l-41 -13zM668 724l43 14l7 28l-42 -13zM755 752l44 14l6 28l-44 -14zM844 780l46 14l5 29l-46 -15z"/><path class="m" d="M307 580l10 15M280 579l-11 -14M317 595l-10 -15M345 600l11 18M385 622l10 22M356 618l-11 -18M424 643l10 26M395 644l-10 -22M464 660l10 28M434 669l-10 -26M503 672l10 28M474 688l-10 -28M544 685l9 28M513 700l-10 -28M584 698l9 28M553 713l-9 -28M626 711l8 28M593 726l-9 -28M668 724l8 29M634 739l-8 -28M711 738l7 28M676 753l-8 -29M755 752l6 28M718 766l-7 -28M799 766l6 28M761 780l-6 -28M844 780l5 28M805 794l-6 -28M890 794l5 29M849 808l-5 -28M937 809l4 28M895 823l-5 -29"/><path class="c0" d="M260 559l38 13l9 8l-38 -15zM336 590l10 4l9 11l-10 -5z"/><path class="c1" d="M298 572l38 18l9 10l-38 -20z"/><path class="c58" d="M346 594l29 14l10 14l-30 -17zM415 626l10 5l9 17l-10 -5z"/><path class="c54" d="M375 608l40 18l9 17l-39 -21z"/><path class="c2" d="M425 631l30 11l9 18l-30 -12zM495 654l40 13l9 18l-41 -13zM576 680l42 13l8 18l-42 -13zM661 706l43 14l7 18l-43 -14zM749 734l44 14l6 18l-44 -14zM839 762l47 14l4 18l-46 -14z"/><path class="c3" d="M455 642l40 12l8 18l-39 -12zM535 667l41 13l8 18l-40 -13zM618 693l43 13l7 18l-42 -13zM704 720l45 14l6 18l-44 -14zM793 748l46 14l5 18l-45 -14zM886 776l47 15l4 18l-47 -15z"/><path class="m" d="M298 572l9 8M269 565l-9 -6M336 590l9 10M307 580l-9 -8M345 600l-9 -10M375 608l10 14M415 626l9 17M385 622l-10 -14M424 643l-9 -17M455 642l9 18M495 654l8 18M464 660l-9 -18M535 667l9 18M503 672l-8 -18M576 680l8 18M544 685l-9 -18M618 693l8 18M584 698l-8 -18M661 706l7 18M626 711l-8 -18M704 720l7 18M668 724l-7 -18M749 734l6 18M711 738l-7 -18M793 748l6 18M755 752l-6 -18M839 762l5 18M799 766l-6 -18M886 776l4 18M844 780l-5 -18M933 791l4 18M890 794l-4 -18"/><path class="c0" d="M251 550l37 12l10 10l-38 -13z"/><path class="c1" d="M288 562l19 8l10 11l-19 -9z"/><path class="c54" d="M307 570l20 7l9 13l-19 -9zM366 593l39 16l10 17l-40 -18z"/><path class="c58" d="M327 577l39 16l9 15l-39 -18z"/><path class="c2" d="M405 609l40 14l10 19l-40 -16zM486 636l41 13l8 18l-40 -13zM568 661l43 13l7 19l-42 -13zM654 688l44 13l6 19l-43 -14zM742 715l46 14l5 19l-44 -14zM834 743l47 15l5 18l-47 -14z"/><path class="c3" d="M445 623l41 13l9 18l-40 -12zM527 649l41 12l8 19l-41 -13zM611 674l43 14l7 18l-43 -13zM698 701l44 14l7 19l-45 -14zM788 729l46 14l5 19l-46 -14zM881 758l48 15l4 18l-47 -15z"/><path class="m" d="M251 550l37 12M288 562l10 10M260 559l-9 -9M288 562l19 8M298 572l-10 -10M307 570l20 7M327 577l9 13M327 577l39 16M366 593l9 15M336 590l-9 -13M366 593l39 16M405 609l10 17M375 608l-9 -15M405 609l40 14M445 623l10 19M415 626l-10 -17M445 623l41 13M486 636l9 18M455 642l-10 -19M486 636l41 13M527 649l8 18M495 654l-9 -18M527 649l41 12M568 661l8 19M535 667l-8 -18M568 661l43 13M611 674l7 19M576 680l-8 -19M611 674l43 14M654 688l7 18M618 693l-7 -19M654 688l44 13M698 701l6 19M661 706l-7 -18M698 701l44 14M742 715l7 19M704 720l-6 -19M742 715l46 14M788 729l5 19M749 734l-7 -19M788 729l46 14M834 743l5 19M793 748l-5 -19M834 743l47 15M881 758l5 18M839 762l-5 -19M881 758l48 15M929 773l4 18M886 776l-5 -18"/><path class="c45" d="M244 560l38 12l6 -10l-37 -12z"/><path class="c60" d="M282 572l38 13l7 -8l-39 -15z"/><path class="c61" d="M320 585l29 11l7 -7l-29 -12z"/><path class="c6" d="M349 596l10 4l7 -7l-10 -4z"/><path class="c7" d="M359 600l9 3l8 -6l-10 -4z"/><path class="c8" d="M368 603l30 11l7 -5l-29 -12z"/><path class="c11" d="M398 614l40 13l7 -4l-40 -14z"/><path class="c12" d="M438 627l41 13l7 -4l-41 -13zM520 653l41 13l7 -5l-41 -12zM604 679l43 13l7 -4l-43 -14zM691 706l45 14l6 -5l-44 -14zM782 734l46 14l6 -5l-46 -14zM875 763l48 15l6 -5l-48 -15z"/><path class="c18" d="M479 640l41 13l7 -4l-41 -13zM561 666l43 13l7 -5l-43 -13zM647 692l44 14l7 -5l-44 -13zM736 720l46 14l6 -5l-46 -14zM828 748l47 15l6 -5l-47 -15z"/><path class="m" d="M282 572l6 -10M288 562l-37 -12M251 550l-7 10M320 585l7 -8M327 577l-39 -15M288 562l-6 10M356 589l-29 -12M327 577l-7 8M359 600l7 -7M366 593l-10 -4M376 597l-10 -4M366 593l-7 7M398 614l7 -5M405 609l-29 -12M438 627l7 -4M445 623l-40 -14M405 609l-7 5M479 640l7 -4M486 636l-41 -13M445 623l-7 4M520 653l7 -4M527 649l-41 -13M486 636l-7 4M561 666l7 -5M568 661l-41 -12M527 649l-7 4M604 679l7 -5M611 674l-43 -13M568 661l-7 5M647 692l7 -4M654 688l-43 -14M611 674l-7 5M691 706l7 -5M698 701l-44 -13M654 688l-7 4M736 720l6 -5M742 715l-44 -14M698 701l-7 5M782 734l6 -5M788 729l-46 -14M742 715l-6 5M828 748l6 -5M834 743l-46 -14M788 729l-6 5M875 763l6 -5M881 758l-47 -15M834 743l-6 5M923 778l6 -5M929 773l-48 -15M881 758l-6 5"/><path class="c61" d="M237 568l38 12l7 -8l-38 -12zM313 593l9 3l7 -7l-9 -4z"/><path class="c46" d="M275 580l38 13l7 -8l-38 -13z"/><path class="c6" d="M322 596l30 10l7 -6l-30 -11z"/><path class="c7" d="M352 606l19 7l7 -6l-19 -7z"/><path class="c8" d="M371 613l20 6l7 -5l-20 -7z"/><path class="c9" d="M391 619l40 13l7 -5l-40 -13z"/><path class="c10" d="M431 632l41 13l7 -5l-41 -13zM513 658l42 13l6 -5l-41 -13zM597 684l44 14l6 -6l-43 -13zM685 711l45 14l6 -5l-45 -14zM776 740l46 14l6 -6l-46 -14zM869 769l49 15l5 -6l-48 -15z"/><path class="c11" d="M472 645l41 13l7 -5l-41 -13zM555 671l42 13l7 -5l-43 -13zM641 698l44 13l6 -5l-44 -14zM730 725l46 15l6 -6l-46 -14zM822 754l47 15l6 -6l-47 -15z"/><path class="m" d="M275 580l7 -8M244 560l-7 8M313 593l7 -8M282 572l-7 8M320 585l-7 8M352 606l7 -6M359 600l-7 6M391 619l7 -5M431 632l7 -5M398 614l-7 5M472 645l7 -5M438 627l-7 5M513 658l7 -5M479 640l-7 5M555 671l6 -5M520 653l-7 5M597 684l7 -5M561 666l-6 5M641 698l6 -6M604 679l-7 5M685 711l6 -5M647 692l-6 6M730 725l6 -5M691 706l-6 5M776 740l6 -6M736 720l-6 5M822 754l6 -6M782 734l-6 6M869 769l6 -6M828 748l-6 6M918 784l5 -6M875 763l-6 6"/><path class="c61" d="M230 576l37 12l8 -8l-38 -12zM306 601l38 12l8 -7l-39 -13z"/><path class="c46" d="M267 588l39 13l7 -8l-38 -13z"/><path class="c7" d="M344 613l40 13l7 -7l-39 -13zM424 639l41 13l7 -7l-41 -13zM506 665l42 13l7 -7l-42 -13zM591 691l43 14l7 -7l-44 -14zM679 719l45 14l6 -8l-45 -14zM770 747l46 15l6 -8l-46 -14zM864 777l48 15l6 -8l-49 -15z"/><path class="c6" d="M384 626l40 13l7 -7l-40 -13zM465 652l41 13l7 -7l-41 -13zM548 678l43 13l6 -7l-42 -13zM634 705l45 14l6 -8l-44 -13zM724 733l46 14l6 -7l-46 -15zM816 762l48 15l5 -8l-47 -15z"/><path class="m" d="M267 588l8 -8M237 568l-7 8M306 601l7 -8M275 580l-8 8M344 613l8 -7M313 593l-7 8M384 626l7 -7M352 606l-8 7M424 639l7 -7M391 619l-7 7M465 652l7 -7M431 632l-7 7M506 665l7 -7M472 645l-7 7M548 678l7 -7M513 658l-7 7M591 691l6 -7M555 671l-7 7M634 705l7 -7M597 684l-6 7M679 719l6 -8M641 698l-7 7M724 733l6 -8M685 711l-6 8M770 747l6 -7M730 725l-6 8M816 762l6 -8M776 740l-6 7M864 777l5 -8M822 754l-6 8M912 792l6 -8M869 769l-5 8"/><path class="c61" d="M223 584l37 12l7 -8l-37 -12z"/><path class="c7" d="M260 596l38 12l8 -7l-39 -13zM337 620l40 13l7 -7l-40 -13zM417 646l41 13l7 -7l-41 -13zM499 672l42 13l7 -7l-42 -13zM584 698l44 14l6 -7l-43 -14zM672 726l45 14l7 -7l-45 -14zM763 755l47 15l6 -8l-46 -15zM858 785l48 15l6 -8l-48 -15z"/><path class="c6" d="M298 608l39 12l7 -7l-38 -12zM377 633l40 13l7 -7l-40 -13zM458 659l41 13l7 -7l-41 -13zM541 685l43 13l7 -7l-43 -13zM628 712l44 14l7 -7l-45 -14zM717 740l46 15l7 -8l-46 -14zM810 770l48 15l6 -8l-48 -15z"/><path class="m" d="M223 584l37 12M260 596l7 -8M230 576l-7 8M260 596l38 12M298 608l8 -7M267 588l-7 8M298 608l39 12M337 620l7 -7M306 601l-8 7M337 620l40 13M377 633l7 -7M344 613l-7 7M377 633l40 13M417 646l7 -7M384 626l-7 7M417 646l41 13M458 659l7 -7M424 639l-7 7M458 659l41 13M499 672l7 -7M465 652l-7 7M499 672l42 13M541 685l7 -7M506 665l-7 7M541 685l43 13M584 698l7 -7M548 678l-7 7M584 698l44 14M628 712l6 -7M591 691l-7 7M628 712l44 14M672 726l7 -7M634 705l-6 7M672 726l45 14M717 740l7 -7M679 719l-7 7M717 740l46 15M763 755l7 -8M724 733l-7 7M763 755l47 15M810 770l6 -8M770 747l-7 8M810 770l48 15M858 785l6 -8M816 762l-6 8M858 785l48 15M906 800l6 -8M864 777l-6 8"/></g><path d="M172.9 33.8L177.8 34.8L182.7 35.9L187.6 36.9L192.6 37.9L197.6 38.9L202.6 40.0L207.7 41.0L212.8 42.1L217.8 43.3L222.7 44.5L227.7 45.8L232.8 47.0L237.8 48.3L242.9 49.6L248.1 50.8L253.3 52.1L258.5 53.4L263.7 54.7L269.0 56.0L274.3 57.3L279.7 58.7L285.1 60.0L290.5 61.4M175.7 31.6L180.5 32.6L185.4 33.6L190.3 34.6L195.3 35.6L200.3 36.6L205.3 37.7L210.3 38.7L215.4 39.7L220.3 40.9L225.2 42.2L230.2 43.4L235.2 44.6L240.3 45.9L245.3 47.1L250.4 48.4L255.6 49.6L260.8 50.9L266.0 52.2L271.2 53.5L276.5 54.8L281.8 56.1L287.2 57.4L292.6 58.7M220.0 74.5L222.1 75.1L224.2 75.7L226.2 76.2L228.3 76.8L230.4 77.4L232.5 78.0L234.6 78.6L236.7 79.1L238.8 79.7L240.9 80.3L243.0 80.9L245.2 81.5L247.3 82.1L249.4 82.7L251.6 83.3L253.7 83.9L255.9 84.5L258.1 85.1L260.2 85.7L262.4 86.3L264.6 86.9L266.8 87.5L269.0 88.1M222.4 72.1L224.4 72.7L226.5 73.3L228.5 73.8L230.6 74.4L232.7 75.0L234.8 75.5L236.8 76.1L238.9 76.7L241.0 77.3L243.1 77.8L245.3 78.4L247.4 79.0L249.5 79.6L251.6 80.2L253.8 80.8L255.9 81.4L258.0 82.0L260.2 82.5L262.4 83.1L264.5 83.7L266.7 84.3L268.9 84.9L271.1 85.5" stroke="#333" stroke-width="0.8" fill="none" stroke-opacity="0.8"/><path d="M44.6 77.2L62.3 189.8L222.6 255.0L293.3 144.8" stroke="#7c7c7c" stroke-width="3" fill="none" stroke-linejoin="miter"/><path d="M62.9 188.8L66.0 185.9M224.6 253.5L219.7 251.5M66.5 190.2L68.7 188.1M226.8 250.2L223.2 248.7M70.1 191.7L72.4 189.6M228.9 246.9L225.3 245.4M73.8 193.1L76.0 191.0M230.9 243.6L227.4 242.2M77.4 194.6L79.6 192.5M233.0 240.4L229.4 239.0M81.1 196.1L84.1 193.1M235.0 237.2L230.1 235.3M84.8 197.6L87.0 195.4M237.0 234.1L233.5 232.7M88.6 199.1L90.7 196.9M239.0 231.0L235.5 229.6M92.3 200.6L94.5 198.4M240.9 227.9L237.4 226.6M96.1 202.1L98.2 199.9M242.9 224.9L239.4 223.6M99.9 203.6L102.8 200.5M244.8 221.9L240.0 220.1M103.7 205.1L105.8 202.9M246.7 218.9L243.2 217.7M107.5 206.6L109.6 204.4M248.5 216.0L245.1 214.7M111.4 208.2L113.5 205.9M250.4 213.1L246.9 211.9M115.3 209.7L117.3 207.5M252.2 210.3L248.8 209.0M119.2 211.3L122.0 208.2M254.0 207.4L249.3 205.8M123.1 212.9L125.1 210.6M255.7 204.7L252.4 203.5M127.0 214.4L129.1 212.1M257.5 201.9L254.1 200.7M131.0 216.0L133.0 213.7M259.2 199.2L255.9 198.0M135.0 217.6L137.0 215.3M261.0 196.5L257.6 195.3M139.0 219.2L141.8 216.0M262.7 193.8L258.1 192.2M143.1 220.9L145.0 218.5M264.3 191.2L261.0 190.0M147.1 222.5L149.1 220.1M266.0 188.6L262.7 187.5M151.2 224.1L153.2 221.7M267.6 186.0L264.4 184.9M155.3 225.8L157.3 223.3M269.3 183.5L266.0 182.3M159.5 227.4L162.1 224.1M270.9 180.9L266.4 179.4M163.6 229.1L165.5 226.6M272.4 178.4L269.2 177.4M167.8 230.8L169.7 228.3M274.0 176.0L270.8 174.9M172.0 232.4L173.9 230.0M275.6 173.5L272.4 172.5M176.3 234.1L178.1 231.6M277.1 171.1L273.9 170.1M180.5 235.8L183.1 232.4M278.6 168.7L274.3 167.3M184.8 237.6L186.7 235.0M280.1 166.4L277.0 165.3M189.1 239.3L191.0 236.7M281.6 164.0L278.5 163.0M193.5 241.0L195.3 238.5M283.1 161.7L280.0 160.7M197.8 242.8L199.7 240.2M284.6 159.4L281.4 158.4M202.2 244.5L204.7 241.0M286.0 157.2L281.7 155.8M206.7 246.3L208.4 243.7M287.4 154.9L284.3 153.9M211.1 248.1L212.9 245.5M288.8 152.7L285.8 151.7M215.6 249.9L217.3 247.2M290.2 150.5L287.2 149.5M220.1 251.7L221.8 249.0M291.6 148.3L288.6 147.4M224.6 253.5L227.0 249.8M293.0 146.2L288.8 144.9M62.8 188.1L66.8 189.7M62.4 185.7L65.3 186.9M62.0 183.3L64.9 184.4M61.6 180.8L64.5 182.0M61.1 178.4L64.1 179.5M60.7 175.9L64.7 177.4M60.3 173.4L63.2 174.5M59.9 170.9L62.8 172.0M59.4 168.3L62.4 169.5M59.0 165.8L62.0 166.9M58.6 163.2L62.7 164.8M58.1 160.7L61.1 161.8M57.7 158.1L60.7 159.2M57.3 155.5L60.3 156.6M56.8 152.8L59.8 154.0M56.4 150.2L60.5 151.7M55.9 147.5L58.9 148.6M55.5 144.9L58.5 146.0M55.0 142.2L58.1 143.3M54.6 139.5L57.6 140.6M54.1 136.7L58.3 138.2M53.6 134.0L56.7 135.1M53.2 131.2L56.2 132.3M52.7 128.4L55.8 129.5M52.2 125.6L55.3 126.7M51.7 122.8L56.0 124.3M51.3 120.0L54.4 121.1M50.8 117.1L53.9 118.2M50.3 114.3L53.4 115.3M49.8 111.4L52.9 112.4M49.3 108.5L53.6 109.9M48.8 105.5L52.0 106.6M48.3 102.6L51.5 103.6M47.8 99.6L51.0 100.7M47.3 96.6L50.5 97.7M46.8 93.6L51.2 95.0M46.3 90.6L49.5 91.6M45.8 87.5L49.0 88.6M45.3 84.4L48.5 85.5M44.7 81.4L48.0 82.4" stroke="#7c7c7c" stroke-width="1.3" fill="none"/><g font-size="21"><text x="42.1" y="88.8" text-anchor="end">1.32</text><text x="45.9" y="118.3" text-anchor="end">1.31</text><text x="51.0" y="146.0" text-anchor="end">1.30</text><text x="55.4" y="171.6" text-anchor="end">1.29</text><text x="50.0" y="212.2" text-anchor="middle">−2</text><text x="86.0" y="226.2" text-anchor="middle">−1</text><text x="131.5" y="243.0" text-anchor="middle">0</text><text x="170.4" y="259.0" text-anchor="middle">1</text><text x="212.3" y="276.3" text-anchor="middle">2</text><text x="240.4" y="266.8" text-anchor="middle">−2</text><text x="258.4" y="235.1" text-anchor="middle">−1</text><text x="270.8" y="208.2" text-anchor="middle">0</text><text x="286.0" y="182.3" text-anchor="middle">1</text><text x="299.8" y="158.8" text-anchor="middle">2</text></g><text x="107.2" y="266" font-size="28">x</text><text x="276.2" y="217" font-size="28">t</text>
<line x1="385" y1="551" x2="661" y2="551" stroke="#717171" stroke-width="2.6"/>
<line x1="523.3" y1="390" x2="523.3" y2="558" stroke="#717171" stroke-width="2.6"/>
<path d="M391.5 551V546.5M404.7 551V548.8M417.9 551V548.8M431.1 551V548.8M444.3 551V548.8M457.5 551V546.5M470.7 551V548.8M483.9 551V548.8M497.1 551V548.8M510.3 551V548.8M536.7 551V548.8M549.9 551V548.8M563.1 551V548.8M576.3 551V548.8M589.5 551V546.5M602.7 551V548.8M615.9 551V548.8M629.1 551V548.8M642.3 551V548.8M655.5 551V546.5M523.3 547.5H525.2M523.3 538.0H525.2M523.3 528.5H527M523.3 519.0H525.2M523.3 509.5H525.2M523.3 500.0H525.2M523.3 490.5H525.2M523.3 481.0H527M523.3 471.5H525.2M523.3 462.0H525.2M523.3 452.5H525.2M523.3 443.0H525.2M523.3 433.5H527M523.3 424.0H525.2M523.3 414.5H525.2M523.3 405.0H525.2" stroke="#717171" stroke-width="1" fill="none"/>
<g font-size="20.5"><text x="390.3" y="572.6" text-anchor="middle">−2</text><text x="456.3" y="572.6" text-anchor="middle">−1</text><text x="589.5" y="572.6" text-anchor="middle">1</text><text x="655.5" y="572.6" text-anchor="middle">2</text><text x="519.8" y="440.8" text-anchor="end">1.45</text><text x="519.8" y="488.3" text-anchor="end">1.40</text><text x="519.8" y="535.8" text-anchor="end">1.35</text></g>
<text x="517.6" y="378" font-size="28.5">t</text>
<text x="667.6" y="561.2" font-size="27">x</text>
<g stroke-width="1.35" stroke-linecap="round"><line x1="391.0" y1="453.7" x2="392.9" y2="451.7" stroke="#b8b749"/><line x1="392.9" y1="451.7" x2="394.8" y2="449.7" stroke="#bdb648"/><line x1="394.8" y1="449.7" x2="396.7" y2="447.7" stroke="#c1b446"/><line x1="396.7" y1="447.7" x2="398.6" y2="445.8" stroke="#c6b244"/><line x1="398.6" y1="445.8" x2="400.5" y2="443.8" stroke="#cab042"/><line x1="400.5" y1="443.8" x2="402.4" y2="441.8" stroke="#cead41"/><line x1="402.4" y1="441.8" x2="404.3" y2="439.8" stroke="#d1a840"/><line x1="404.3" y1="439.8" x2="406.2" y2="437.8" stroke="#d4a43f"/><line x1="406.2" y1="437.8" x2="408.1" y2="435.9" stroke="#d69f3e"/><line x1="408.1" y1="435.9" x2="410.0" y2="433.9" stroke="#d99b3d"/><line x1="410.0" y1="433.9" x2="411.9" y2="432.0" stroke="#dc963c"/><line x1="411.9" y1="432.0" x2="413.8" y2="430.1" stroke="#dd923b"/><line x1="413.8" y1="430.1" x2="415.7" y2="428.2" stroke="#dd8d3b"/><line x1="415.7" y1="428.2" x2="417.6" y2="426.4" stroke="#de893a"/><line x1="417.6" y1="426.4" x2="419.5" y2="424.6" stroke="#df8439"/><line x1="419.5" y1="424.6" x2="421.4" y2="422.8" stroke="#e08038"/><line x1="421.4" y1="422.8" x2="423.3" y2="421.1" stroke="#e07c38"/><line x1="423.3" y1="421.1" x2="425.2" y2="419.4" stroke="#e17737"/><line x1="425.2" y1="419.4" x2="427.1" y2="417.8" stroke="#e07135"/><line x1="427.1" y1="417.8" x2="429.0" y2="416.2" stroke="#df6b34"/><line x1="429.0" y1="416.2" x2="430.9" y2="414.6" stroke="#df6532"/><line x1="430.9" y1="414.6" x2="432.8" y2="413.1" stroke="#de6031"/><line x1="432.8" y1="413.1" x2="434.7" y2="411.7" stroke="#dd5a30"/><line x1="434.7" y1="411.7" x2="436.6" y2="410.3" stroke="#dd552e"/><line x1="436.6" y1="410.3" x2="438.5" y2="409.0" stroke="#dc502d"/><line x1="438.5" y1="409.0" x2="440.4" y2="407.8" stroke="#dc4d2d"/><line x1="440.4" y1="407.8" x2="442.3" y2="406.6" stroke="#db4a2d"/><line x1="442.3" y1="406.6" x2="444.2" y2="405.5" stroke="#db472d"/><line x1="444.2" y1="405.5" x2="446.1" y2="404.4" stroke="#da452d"/><line x1="446.1" y1="404.4" x2="448.0" y2="403.4" stroke="#da422d"/><line x1="448.0" y1="403.4" x2="449.9" y2="402.5" stroke="#d9402d"/><line x1="449.9" y1="402.5" x2="451.8" y2="401.6" stroke="#d93e2d"/><line x1="451.8" y1="401.6" x2="453.7" y2="400.9" stroke="#d93c2d"/><line x1="453.7" y1="400.9" x2="455.6" y2="400.2" stroke="#d83a2d"/><line x1="455.6" y1="400.2" x2="457.5" y2="399.5" stroke="#d8382d"/><line x1="457.5" y1="399.5" x2="459.4" y2="399.0" stroke="#d8372d"/><line x1="459.4" y1="399.0" x2="461.3" y2="398.5" stroke="#d8362d"/><line x1="461.3" y1="398.5" x2="463.2" y2="398.1" stroke="#d7352d"/><line x1="463.2" y1="398.1" x2="465.1" y2="397.8" stroke="#d7342d"/><line x1="465.1" y1="397.8" x2="467.0" y2="397.5" stroke="#d7332d"/><line x1="467.0" y1="397.5" x2="468.9" y2="397.3" stroke="#d7322d"/><line x1="468.9" y1="397.3" x2="470.8" y2="397.3" stroke="#d7322d"/><line x1="470.8" y1="397.3" x2="472.7" y2="397.2" stroke="#d7322d"/><line x1="472.7" y1="397.2" x2="474.6" y2="397.3" stroke="#d7322d"/><line x1="474.6" y1="397.3" x2="476.5" y2="397.4" stroke="#d7322d"/><line x1="476.5" y1="397.4" x2="478.4" y2="397.7" stroke="#d7332d"/><line x1="478.4" y1="397.7" x2="480.3" y2="397.9" stroke="#d7332d"/><line x1="480.3" y1="397.9" x2="482.2" y2="398.3" stroke="#d7342d"/><line x1="482.2" y1="398.3" x2="484.1" y2="398.8" stroke="#d8352d"/><line x1="484.1" y1="398.8" x2="486.0" y2="399.3" stroke="#d8362d"/><line x1="486.0" y1="399.3" x2="487.9" y2="399.9" stroke="#d8382d"/><line x1="487.9" y1="399.9" x2="489.8" y2="400.5" stroke="#d8392d"/><line x1="489.8" y1="400.5" x2="491.7" y2="401.3" stroke="#d83b2d"/><line x1="491.7" y1="401.3" x2="493.6" y2="402.1" stroke="#d93d2d"/><line x1="493.6" y1="402.1" x2="495.5" y2="403.0" stroke="#d93f2d"/><line x1="495.5" y1="403.0" x2="497.4" y2="403.9" stroke="#da412d"/><line x1="497.4" y1="403.9" x2="499.3" y2="404.9" stroke="#da432d"/><line x1="499.3" y1="404.9" x2="501.2" y2="406.0" stroke="#da462d"/><line x1="501.2" y1="406.0" x2="503.1" y2="407.1" stroke="#db492d"/><line x1="503.1" y1="407.1" x2="505.0" y2="408.3" stroke="#db4b2d"/><line x1="505.0" y1="408.3" x2="506.9" y2="409.6" stroke="#dc4e2d"/><line x1="506.9" y1="409.6" x2="508.8" y2="410.9" stroke="#dc522e"/><line x1="508.8" y1="410.9" x2="510.7" y2="412.3" stroke="#dd572f"/><line x1="510.7" y1="412.3" x2="512.6" y2="413.7" stroke="#de5d30"/><line x1="512.6" y1="413.7" x2="514.5" y2="415.2" stroke="#de6231"/><line x1="514.5" y1="415.2" x2="516.4" y2="416.7" stroke="#df6733"/><line x1="516.4" y1="416.7" x2="518.3" y2="418.3" stroke="#e06d34"/><line x1="518.3" y1="418.3" x2="520.2" y2="419.9" stroke="#e07336"/><line x1="520.2" y1="419.9" x2="522.1" y2="421.6" stroke="#e17937"/><line x1="522.1" y1="421.6" x2="523.9" y2="423.3" stroke="#e07d38"/><line x1="523.9" y1="423.3" x2="525.8" y2="425.0" stroke="#e08138"/><line x1="525.8" y1="425.0" x2="527.7" y2="426.8" stroke="#df8539"/><line x1="527.7" y1="426.8" x2="529.6" y2="428.6" stroke="#de8a3a"/><line x1="529.6" y1="428.6" x2="531.5" y2="430.4" stroke="#dd8e3b"/><line x1="531.5" y1="430.4" x2="533.4" y2="432.3" stroke="#dd923b"/><line x1="533.4" y1="432.3" x2="535.3" y2="434.2" stroke="#db973c"/><line x1="535.3" y1="434.2" x2="537.2" y2="436.2" stroke="#d99b3d"/><line x1="537.2" y1="436.2" x2="539.1" y2="438.1" stroke="#d6a03e"/><line x1="539.1" y1="438.1" x2="541.0" y2="440.2" stroke="#d3a53f"/><line x1="541.0" y1="440.2" x2="542.9" y2="442.2" stroke="#d0a940"/><line x1="542.9" y1="442.2" x2="544.8" y2="444.3" stroke="#ceae41"/><line x1="544.8" y1="444.3" x2="546.7" y2="446.4" stroke="#c9b143"/><line x1="546.7" y1="446.4" x2="548.6" y2="448.5" stroke="#c4b244"/><line x1="548.6" y1="448.5" x2="550.5" y2="450.6" stroke="#bfb446"/><line x1="550.5" y1="450.6" x2="552.4" y2="452.8" stroke="#bab648"/><line x1="552.4" y1="452.8" x2="554.3" y2="455.0" stroke="#b5b84a"/><line x1="554.3" y1="455.0" x2="556.2" y2="457.2" stroke="#b0ba4d"/><line x1="556.2" y1="457.2" x2="558.1" y2="459.5" stroke="#aabb50"/><line x1="558.1" y1="459.5" x2="560.0" y2="461.8" stroke="#a4bc53"/><line x1="560.0" y1="461.8" x2="561.9" y2="464.1" stroke="#9ebd56"/><line x1="561.9" y1="464.1" x2="563.8" y2="466.4" stroke="#98be59"/><line x1="563.8" y1="466.4" x2="565.7" y2="468.7" stroke="#90bd5e"/><line x1="565.7" y1="468.7" x2="567.6" y2="471.0" stroke="#87bc64"/><line x1="567.6" y1="471.0" x2="569.5" y2="473.4" stroke="#7eba6a"/><line x1="569.5" y1="473.4" x2="571.4" y2="475.7" stroke="#77b86f"/><line x1="571.4" y1="475.7" x2="573.3" y2="478.0" stroke="#74b675"/><line x1="573.3" y1="478.0" x2="575.2" y2="480.4" stroke="#71b47a"/><line x1="575.2" y1="480.4" x2="577.1" y2="482.7" stroke="#6eb27f"/><line x1="577.1" y1="482.7" x2="579.0" y2="485.0" stroke="#6bb084"/><line x1="579.0" y1="485.0" x2="580.9" y2="487.3" stroke="#68ae89"/><line x1="580.9" y1="487.3" x2="582.8" y2="489.5" stroke="#64aa91"/><line x1="582.8" y1="489.5" x2="584.7" y2="491.8" stroke="#60a699"/><line x1="584.7" y1="491.8" x2="586.6" y2="494.0" stroke="#5ca2a1"/><line x1="586.6" y1="494.0" x2="588.5" y2="496.1" stroke="#599ea7"/><line x1="588.5" y1="496.1" x2="590.4" y2="498.3" stroke="#569aac"/><line x1="590.4" y1="498.3" x2="592.3" y2="500.4" stroke="#5397b1"/><line x1="592.3" y1="500.4" x2="594.2" y2="502.5" stroke="#5093b5"/><line x1="594.2" y1="502.5" x2="596.1" y2="504.5" stroke="#4e90ba"/><line x1="596.1" y1="504.5" x2="598.0" y2="506.5" stroke="#4b8cbe"/><line x1="598.0" y1="506.5" x2="599.9" y2="508.4" stroke="#4987c2"/><line x1="599.9" y1="508.4" x2="601.8" y2="510.3" stroke="#4781c5"/><line x1="601.8" y1="510.3" x2="603.7" y2="512.2" stroke="#467cc9"/><line x1="603.7" y1="512.2" x2="605.6" y2="514.0" stroke="#4477cc"/><line x1="605.6" y1="514.0" x2="607.5" y2="515.8" stroke="#4272cf"/><line x1="607.5" y1="515.8" x2="609.4" y2="517.5" stroke="#416dd2"/><line x1="609.4" y1="517.5" x2="611.3" y2="519.2" stroke="#416ad3"/><line x1="611.3" y1="519.2" x2="613.2" y2="520.9" stroke="#4166d4"/><line x1="613.2" y1="520.9" x2="615.1" y2="522.5" stroke="#4163d4"/><line x1="615.1" y1="522.5" x2="617.0" y2="524.1" stroke="#415fd5"/><line x1="617.0" y1="524.1" x2="618.9" y2="525.6" stroke="#415cd6"/><line x1="618.9" y1="525.6" x2="620.8" y2="527.1" stroke="#4159d6"/><line x1="620.8" y1="527.1" x2="622.7" y2="528.6" stroke="#4155d7"/><line x1="622.7" y1="528.6" x2="624.6" y2="530.0" stroke="#4251d5"/><line x1="624.6" y1="530.0" x2="626.5" y2="531.4" stroke="#434ed3"/><line x1="626.5" y1="531.4" x2="628.4" y2="532.8" stroke="#454ad1"/><line x1="628.4" y1="532.8" x2="630.3" y2="534.2" stroke="#4646d0"/><line x1="630.3" y1="534.2" x2="632.2" y2="535.5" stroke="#4743ce"/><line x1="632.2" y1="535.5" x2="634.1" y2="536.9" stroke="#483fcc"/><line x1="634.1" y1="536.9" x2="636.0" y2="538.2" stroke="#4a3bca"/><line x1="636.0" y1="538.2" x2="637.9" y2="539.5" stroke="#4b38c8"/><line x1="637.9" y1="539.5" x2="639.8" y2="540.8" stroke="#4e34c3"/><line x1="639.8" y1="540.8" x2="641.7" y2="542.1" stroke="#5231be"/><line x1="641.7" y1="542.1" x2="643.6" y2="543.5" stroke="#572eb8"/><line x1="643.6" y1="543.5" x2="645.5" y2="544.8" stroke="#5b2ab2"/><line x1="645.5" y1="544.8" x2="647.4" y2="546.2" stroke="#5f27ac"/><line x1="647.4" y1="546.2" x2="649.3" y2="547.6" stroke="#6423a6"/><line x1="649.3" y1="547.6" x2="651.2" y2="549.0" stroke="#6922a0"/><line x1="651.2" y1="549.0" x2="653.1" y2="550.5" stroke="#6f209a"/><line x1="653.1" y1="550.5" x2="655.0" y2="552.0" stroke="#751f94"/></g>
</svg></body></html>
